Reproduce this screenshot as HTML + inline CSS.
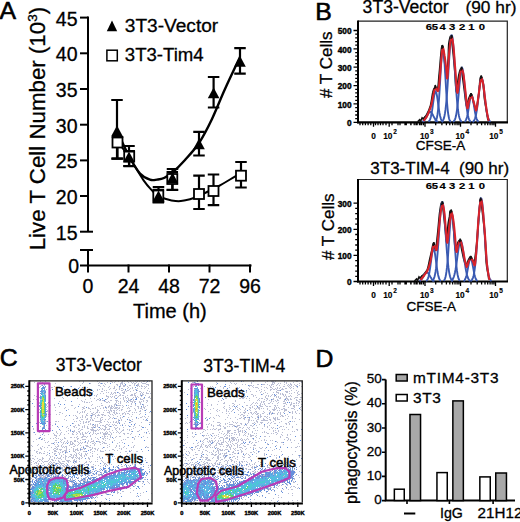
<!DOCTYPE html><html><head><meta charset="utf-8"><style>html,body{margin:0;padding:0;background:#fff;overflow:hidden}svg{display:block}text{stroke:#000;stroke-width:0.3px}text.b{stroke-width:0.15px}text.t{stroke-width:0.3px}text.L{stroke-width:0.6px}text.m{stroke-width:0.5px}text.b2{stroke-width:0.4px}</style></head><body>
<svg width="520" height="522" viewBox="0 0 520 522">
<text x="-0.5" y="19" font-family="'Liberation Sans', sans-serif" font-size="24.8" class="L">A</text>
<g stroke="#000" stroke-width="2.0" fill="none" stroke-linecap="butt">
<path d="M88 16.5 V231.73999999999998"/>
<path d="M80 17.6 H88"/>
<path d="M80 53.3 H88"/>
<path d="M80 89.0 H88"/>
<path d="M80 124.7 H88"/>
<path d="M80 160.4 H88"/>
<path d="M80 196.0 H88"/>
<path d="M80 231.7 H93"/>
<path d="M80 250 H93 M88 250 V265.5"/>
<path d="M80 265.5 H251.5"/>
<path d="M88.0 264.5 V272.5"/>
<path d="M128.5 264.5 V272.5"/>
<path d="M169.0 264.5 V272.5"/>
<path d="M209.5 264.5 V272.5"/>
<path d="M250.0 264.5 V272.5"/>
</g>
<text x="77.5" y="25.6" font-family="'Liberation Sans', sans-serif" font-size="19.5" text-anchor="end">45</text>
<text x="77.5" y="61.3" font-family="'Liberation Sans', sans-serif" font-size="19.5" text-anchor="end">40</text>
<text x="77.5" y="97.0" font-family="'Liberation Sans', sans-serif" font-size="19.5" text-anchor="end">35</text>
<text x="77.5" y="132.7" font-family="'Liberation Sans', sans-serif" font-size="19.5" text-anchor="end">30</text>
<text x="77.5" y="168.4" font-family="'Liberation Sans', sans-serif" font-size="19.5" text-anchor="end">25</text>
<text x="77.5" y="204.0" font-family="'Liberation Sans', sans-serif" font-size="19.5" text-anchor="end">20</text>
<text x="77.5" y="239.7" font-family="'Liberation Sans', sans-serif" font-size="19.5" text-anchor="end">15</text>
<text x="79" y="273.3" font-family="'Liberation Sans', sans-serif" font-size="19.5" text-anchor="end">0</text>
<text x="88.0" y="292.8" font-family="'Liberation Sans', sans-serif" font-size="19.5" text-anchor="middle">0</text>
<text x="128.5" y="292.8" font-family="'Liberation Sans', sans-serif" font-size="19.5" text-anchor="middle">24</text>
<text x="169.0" y="292.8" font-family="'Liberation Sans', sans-serif" font-size="19.5" text-anchor="middle">48</text>
<text x="209.5" y="292.8" font-family="'Liberation Sans', sans-serif" font-size="19.5" text-anchor="middle">72</text>
<text x="250.0" y="292.8" font-family="'Liberation Sans', sans-serif" font-size="19.5" text-anchor="middle">96</text>
<text x="133" y="318.4" font-family="'Liberation Sans', sans-serif" font-size="20">Time (h)</text>
<text transform="translate(44.6 250.3) rotate(-90)" font-family="'Liberation Sans', sans-serif" font-size="22.3">Live T Cell Number (10<tspan font-size="13.5" dy="-7.3">3</tspan><tspan dy="7.3">)</tspan></text>
<path d="M106.8 31.2 L112 20.6 L117.2 31.2 Z" fill="#000"/>
<rect x="106.9" y="50.2" width="10.4" height="10.6" fill="#fff" stroke="#000" stroke-width="1.5"/>
<text x="124.8" y="32.4" font-family="'Liberation Sans', sans-serif" font-size="19.1">3T3-Vector</text>
<text x="124.8" y="60.8" font-family="'Liberation Sans', sans-serif" font-size="18.6">3T3-Tim4</text>
<path d="M117 131 C119.0 135.2 125.2 148.9 129 156 C132.8 163.1 136.5 169.6 140 173.5 C143.5 177.4 147.2 178.7 150 179.7 C152.8 180.7 154.7 179.9 157 179.6 C159.3 179.3 161.4 179.2 164 178 C166.6 176.8 169.0 175.5 172.5 172.5 C176.0 169.5 180.6 164.9 185 160 C189.4 155.1 194.5 149.8 199 143 C203.5 136.2 207.7 128.0 212 119 C216.3 110.0 220.3 99.3 225 89 C229.7 78.7 237.5 62.3 240 57" fill="none" stroke="#000" stroke-width="2.4"/>
<path d="M117 141 C119.0 143.7 124.6 150.4 129 157 C133.4 163.6 139.6 174.7 143.6 180.4 C147.6 186.2 150.5 188.8 153 191.5 C155.5 194.2 156.6 195.3 158.5 196.5 C160.4 197.7 162.4 197.8 164.6 198.5 C166.8 199.2 169.2 200.0 171.5 200.4 C173.8 200.8 176.2 201.2 178.5 201.2 C180.8 201.2 182.8 200.7 185.4 200.2 C188.0 199.7 190.5 199.2 193.8 198 C197.1 196.8 201.0 194.9 205 193 C209.0 191.1 213.8 188.8 218 186.5 C222.2 184.2 226.2 181.8 230 179.5 C233.8 177.2 239.2 174.1 241 173" fill="none" stroke="#000" stroke-width="2.0"/>
<path d="M117.5 137 V158.7 M111.75 137 H123.25 M111.75 158.7 H123.25" stroke="#000" stroke-width="2.2" fill="none"/>
<path d="M129.2 151 V166.2 M123.44999999999999 151 H134.95 M123.44999999999999 166.2 H134.95" stroke="#000" stroke-width="2.2" fill="none"/>
<path d="M158.3 190 V202.5 M152.55 190 H164.05 M152.55 202.5 H164.05" stroke="#000" stroke-width="2.2" fill="none"/>
<path d="M172.3 172 V189.8 M166.55 172 H178.05 M166.55 189.8 H178.05" stroke="#000" stroke-width="2.2" fill="none"/>
<path d="M199 175.7 V209 M193.25 175.7 H204.75 M193.25 209 H204.75" stroke="#000" stroke-width="2.2" fill="none"/>
<path d="M213.5 174.5 V205.1 M207.75 174.5 H219.25 M207.75 205.1 H219.25" stroke="#000" stroke-width="2.2" fill="none"/>
<path d="M241 162 V187.5 M235.25 162 H246.75 M235.25 187.5 H246.75" stroke="#000" stroke-width="2.2" fill="none"/>
<path d="M117 100 V158.7 M111.25 100 H122.75 M111.25 158.7 H122.75" stroke="#000" stroke-width="2.2" fill="none"/>
<path d="M129 146 V166 M123.25 146 H134.75 M123.25 166 H134.75" stroke="#000" stroke-width="2.2" fill="none"/>
<path d="M158.5 187.2 V202 M152.75 187.2 H164.25 M152.75 202 H164.25" stroke="#000" stroke-width="2.2" fill="none"/>
<path d="M172.5 169 V190 M166.75 169 H178.25 M166.75 190 H178.25" stroke="#000" stroke-width="2.2" fill="none"/>
<path d="M199 131.8 V155.5 M193.25 131.8 H204.75 M193.25 155.5 H204.75" stroke="#000" stroke-width="2.2" fill="none"/>
<path d="M213.6 77 V107.5 M207.85 77 H219.35 M207.85 107.5 H219.35" stroke="#000" stroke-width="2.2" fill="none"/>
<path d="M240 48.2 V73.6 M234.25 48.2 H245.75 M234.25 73.6 H245.75" stroke="#000" stroke-width="2.2" fill="none"/>
<rect x="112.5" y="137.5" width="10" height="10" fill="#fff" stroke="#000" stroke-width="1.8"/>
<rect x="124.19999999999999" y="151.6" width="10" height="10" fill="#fff" stroke="#000" stroke-width="1.8"/>
<rect x="153.3" y="190.5" width="10" height="10" fill="#fff" stroke="#000" stroke-width="1.8"/>
<rect x="167.3" y="174" width="10" height="10" fill="#fff" stroke="#000" stroke-width="1.8"/>
<rect x="194" y="189" width="10" height="10" fill="#fff" stroke="#000" stroke-width="1.8"/>
<rect x="208.5" y="186" width="10" height="10" fill="#fff" stroke="#000" stroke-width="1.8"/>
<rect x="236" y="170.7" width="10" height="10" fill="#fff" stroke="#000" stroke-width="1.8"/>
<path d="M111.2 136.2 L117 125.6 L122.8 136.2 Z" fill="#000"/>
<path d="M123.2 162.2 L129 151.6 L134.8 162.2 Z" fill="#000"/>
<path d="M152.7 201.2 L158.5 190.6 L164.3 201.2 Z" fill="#000"/>
<path d="M166.7 183.2 L172.5 172.6 L178.3 183.2 Z" fill="#000"/>
<path d="M193.2 149.2 L199 138.6 L204.8 149.2 Z" fill="#000"/>
<path d="M207.79999999999998 98.2 L213.6 87.6 L219.4 98.2 Z" fill="#000"/>
<path d="M234.2 66.7 L240 56.1 L245.8 66.7 Z" fill="#000"/>
<text x="315.3" y="19.6" font-family="'Liberation Sans', sans-serif" font-size="24.8" class="L">B</text>
<text x="362.6" y="12.8" font-family="'Liberation Sans', sans-serif" font-size="17.6" class="t">3T3-Vector</text>
<text x="465.5" y="12.8" font-family="'Liberation Sans', sans-serif" font-size="17.3" class="t">(90 hr)</text>
<text transform="translate(331.5 98) rotate(-90)" font-family="'Liberation Sans', sans-serif" font-size="17" class="t">#  T Cells</text>
<path d="M358 21.2 H507.3 V122.3" stroke="#222" stroke-width="1.2" fill="none"/>
<path d="M358 20.599999999999998 V123.3" stroke="#000" stroke-width="2" fill="none"/>
<path d="M357 122.3 H508" stroke="#000" stroke-width="2.2" fill="none"/>
<path d="M353.5 122.3 H358 M355.2 118.6 H358 M355.2 115.0 H358 M355.2 111.3 H358 M355.2 107.6 H358 M353.5 103.9 H358 M355.2 100.3 H358 M355.2 96.6 H358 M355.2 92.9 H358 M355.2 89.3 H358 M353.5 85.6 H358 M355.2 81.9 H358 M355.2 78.3 H358 M355.2 74.6 H358 M355.2 70.9 H358 M353.5 67.2 H358 M355.2 63.6 H358 M355.2 59.9 H358 M355.2 56.2 H358 M355.2 52.6 H358 M353.5 48.9 H358 M355.2 45.2 H358 M355.2 41.6 H358 M355.2 37.9 H358 M355.2 34.2 H358 M353.5 30.5 H358" stroke="#000" stroke-width="1.3" fill="none"/>
<text x="351.5" y="126.1" font-family="'Liberation Sans', sans-serif" font-size="8.3" font-weight="bold" class="b2" text-anchor="end">0</text>
<text x="351.5" y="107.7" font-family="'Liberation Sans', sans-serif" font-size="8.3" font-weight="bold" class="b2" text-anchor="end">100</text>
<text x="351.5" y="89.4" font-family="'Liberation Sans', sans-serif" font-size="8.3" font-weight="bold" class="b2" text-anchor="end">200</text>
<text x="351.5" y="71.0" font-family="'Liberation Sans', sans-serif" font-size="8.3" font-weight="bold" class="b2" text-anchor="end">300</text>
<text x="351.5" y="52.7" font-family="'Liberation Sans', sans-serif" font-size="8.3" font-weight="bold" class="b2" text-anchor="end">400</text>
<text x="351.5" y="34.3" font-family="'Liberation Sans', sans-serif" font-size="8.3" font-weight="bold" class="b2" text-anchor="end">500</text>
<path d="M373.5 122.3 V126.8 M389.2 122.3 V126.8 M425 122.3 V126.8 M460.5 122.3 V126.8 M495.5 122.3 V126.8 M400.0 122.3 V125.3 M406.3 122.3 V125.3 M410.8 122.3 V125.3 M414.2 122.3 V125.3 M417.1 122.3 V125.3 M419.5 122.3 V125.3 M421.5 122.3 V125.3 M423.4 122.3 V125.3 M435.7 122.3 V125.3 M441.9 122.3 V125.3 M446.4 122.3 V125.3 M449.8 122.3 V125.3 M452.6 122.3 V125.3 M455.0 122.3 V125.3 M457.1 122.3 V125.3 M458.9 122.3 V125.3 M471.0 122.3 V125.3 M477.2 122.3 V125.3 M481.6 122.3 V125.3 M485.0 122.3 V125.3 M487.7 122.3 V125.3 M490.1 122.3 V125.3 M492.1 122.3 V125.3 M493.9 122.3 V125.3 M375.5 122.3 V125.3 M378 122.3 V125.3 M380.5 122.3 V125.3 M383 122.3 V125.3 M386 122.3 V125.3 M392 122.3 V125.3 M398 122.3 V125.3 M405 122.3 V125.3 M411 122.3 V125.3 M416 122.3 V125.3 M420 122.3 V125.3 M360.0 122.3 V125.3 M362.7 122.3 V125.3 M365.4 122.3 V125.3 M368.1 122.3 V125.3 M370.8 122.3 V125.3 M373.5 122.3 V125.3" stroke="#000" stroke-width="1.3" fill="none"/>
<text x="373.5" y="138.7" font-family="'Liberation Sans', sans-serif" font-size="8.3" font-weight="bold" class="b" text-anchor="middle">0</text>
<text x="390" y="138.7" font-family="'Liberation Sans', sans-serif" font-size="8.3" font-weight="bold" class="b" text-anchor="middle">10<tspan font-size="6.5" dx="0.8" dy="-4.6">2</tspan></text>
<text x="426.8" y="138.7" font-family="'Liberation Sans', sans-serif" font-size="8.3" font-weight="bold" class="b" text-anchor="middle">10<tspan font-size="6.5" dx="0.8" dy="-4.6">3</tspan></text>
<text x="462.3" y="138.7" font-family="'Liberation Sans', sans-serif" font-size="8.3" font-weight="bold" class="b" text-anchor="middle">10<tspan font-size="6.5" dx="0.8" dy="-4.6">4</tspan></text>
<text x="496" y="138.7" font-family="'Liberation Sans', sans-serif" font-size="8.3" font-weight="bold" class="b" text-anchor="middle">10<tspan font-size="6.5" dx="0.8" dy="-4.6">5</tspan></text>
<text transform="translate(428.9 30.3) scale(1.36 1)" font-family="'Liberation Sans', sans-serif" font-size="8.3" font-weight="bold" class="b" text-anchor="middle">6</text>
<text transform="translate(434.9 30.3) scale(1.36 1)" font-family="'Liberation Sans', sans-serif" font-size="8.3" font-weight="bold" class="b" text-anchor="middle">5</text>
<text transform="translate(442.6 30.3) scale(1.36 1)" font-family="'Liberation Sans', sans-serif" font-size="8.3" font-weight="bold" class="b" text-anchor="middle">4</text>
<text transform="translate(452.2 30.3) scale(1.36 1)" font-family="'Liberation Sans', sans-serif" font-size="8.3" font-weight="bold" class="b" text-anchor="middle">3</text>
<text transform="translate(462.2 30.3) scale(1.36 1)" font-family="'Liberation Sans', sans-serif" font-size="8.3" font-weight="bold" class="b" text-anchor="middle">2</text>
<text transform="translate(471.4 30.3) scale(1.36 1)" font-family="'Liberation Sans', sans-serif" font-size="8.3" font-weight="bold" class="b" text-anchor="middle">1</text>
<text transform="translate(482 30.3) scale(1.36 1)" font-family="'Liberation Sans', sans-serif" font-size="8.3" font-weight="bold" class="b" text-anchor="middle">0</text>
<path d="M422.8 119.3 C423.4 118.6 425.3 117.2 426.6 114.9 C427.9 112.6 429.6 109.4 430.6 105.6 C431.7 101.9 432.1 95.4 432.9 92.4 C433.6 89.3 434.3 88.0 435.1 87.5 C435.9 87.0 437.0 91.3 437.7 89.4 C438.3 87.4 438.6 81.3 439.1 75.6 C439.7 70.0 440.4 60.4 440.9 55.4 C441.4 50.5 441.6 46.0 442.1 45.8 C442.6 45.6 443.2 50.4 443.8 54.4 C444.3 58.3 445.1 65.8 445.5 69.5 C446.0 73.3 446.2 78.8 446.7 77.0 C447.1 75.2 447.9 64.4 448.3 58.8 C448.6 53.2 448.5 47.3 448.9 43.6 C449.4 39.9 450.3 35.7 450.9 36.4 C451.5 37.0 452.0 41.6 452.6 47.4 C453.3 53.1 454.2 63.5 454.8 70.8 C455.5 78.2 455.8 90.3 456.4 91.7 C456.9 93.1 457.6 82.7 458.2 79.3 C458.7 75.9 459.3 73.0 459.8 71.3 C460.4 69.5 461.1 68.1 461.6 68.7 C462.0 69.3 461.9 71.1 462.4 74.8 C462.9 78.5 463.8 85.8 464.5 91.0 C465.2 96.3 466.0 104.7 466.7 106.2 C467.3 107.7 467.7 102.0 468.4 100.0 C469.1 97.9 470.2 94.2 471.0 93.9 C471.7 93.7 472.2 96.7 472.7 98.5 C473.3 100.4 473.6 103.2 474.2 105.1 C474.8 106.9 475.5 111.2 476.2 109.5 C476.9 107.9 478.1 99.3 478.7 95.0 C479.3 90.8 479.3 87.3 479.7 84.2 C480.0 81.2 480.1 76.9 480.7 76.8 C481.2 76.7 482.4 79.9 483.1 83.5 C483.7 87.1 484.0 93.7 484.5 98.3 C485.1 102.8 485.9 107.1 486.5 110.8 C487.1 114.5 487.8 118.7 488.1 120.3" stroke="#111" stroke-width="1.8" fill="none"/>
<path d="M417.6 121.8 L419.6 119.8 L420.6 121.3 L422.1 117.8 L423.6 119.3 L425.6 116.3" stroke="#111" stroke-width="1.6" fill="none"/>
<path d="M422.5 121.7 L423.0 121.5 L423.5 121.1 L424.0 120.7 L424.5 120.2 L425.0 119.5 L425.5 118.8 L426.0 117.9 L426.5 117.0 L427.0 116.0 L427.5 115.1 L428.0 114.1 L428.5 113.3 L429.0 112.7 L429.5 112.2 L430.0 112.0 L430.5 112.0 L431.0 112.2 L431.5 112.7 L432.0 113.4 L432.5 114.3 L433.0 115.2 L433.5 116.2 L434.0 117.1 L434.5 118.1 L435.0 118.9 L435.5 119.6 L436.0 120.3 L436.5 120.8 L437.0 121.2 L437.5 121.5 L438.0 121.8" stroke="#3a5ab2" stroke-width="1.9" fill="none"/>
<path d="M428.5 121.7 L429.0 121.2 L429.5 120.6 L430.0 119.6 L430.5 118.1 L431.0 116.3 L431.5 113.8 L432.0 110.9 L432.5 107.5 L433.0 103.9 L433.5 100.3 L434.0 96.9 L434.5 94.1 L435.0 92.2 L435.5 91.4 L436.0 91.8 L436.5 93.4 L437.0 95.9 L437.5 99.1 L438.0 102.7 L438.5 106.4 L439.0 109.8 L439.5 112.9 L440.0 115.5 L440.5 117.6 L441.0 119.1 L441.5 120.3 L442.0 121.0 L442.5 121.5 L443.0 121.9" stroke="#3a5ab2" stroke-width="1.9" fill="none"/>
<path d="M435.0 121.7 L435.5 121.2 L436.0 120.4 L436.5 119.1 L437.0 117.2 L437.5 114.4 L438.0 110.6 L438.5 105.6 L439.0 99.3 L439.5 91.9 L440.0 83.6 L440.5 74.8 L441.0 66.3 L441.5 58.8 L442.0 53.0 L442.5 49.5 L443.0 48.7 L443.5 50.8 L444.0 55.4 L444.5 62.1 L445.0 70.1 L445.5 78.8 L446.0 87.4 L446.5 95.4 L447.0 102.3 L447.5 108.0 L448.0 112.5 L448.5 115.8 L449.0 118.2 L449.5 119.8 L450.0 120.8 L450.5 121.5 L451.0 121.8" stroke="#3a5ab2" stroke-width="1.9" fill="none"/>
<path d="M441.5 121.8 L442.0 121.5 L442.5 121.0 L443.0 120.3 L443.5 119.3 L444.0 117.9 L444.5 115.8 L445.0 113.2 L445.5 109.7 L446.0 105.3 L446.5 100.0 L447.0 93.7 L447.5 86.6 L448.0 78.7 L448.5 70.5 L449.0 62.2 L449.5 54.3 L450.0 47.3 L450.5 41.5 L451.0 37.5 L451.5 35.4 L452.0 35.5 L452.5 37.7 L453.0 41.9 L453.5 47.7 L454.0 54.9 L454.5 62.8 L455.0 71.1 L455.5 79.3 L456.0 87.1 L456.5 94.2 L457.0 100.4 L457.5 105.7 L458.0 110.0 L458.5 113.4 L459.0 116.0 L459.5 118.0 L460.0 119.4 L460.5 120.4 L461.0 121.1 L461.5 121.5 L462.0 121.8" stroke="#3a5ab2" stroke-width="1.9" fill="none"/>
<path d="M453.0 121.8 L453.5 121.5 L454.0 121.1 L454.5 120.3 L455.0 119.3 L455.5 117.8 L456.0 115.8 L456.5 113.1 L457.0 109.8 L457.5 105.8 L458.0 101.1 L458.5 95.8 L459.0 90.2 L459.5 84.5 L460.0 79.2 L460.5 74.5 L461.0 70.8 L461.5 68.5 L462.0 67.7 L462.5 68.5 L463.0 70.9 L463.5 74.5 L464.0 79.2 L464.5 84.6 L465.0 90.2 L465.5 95.9 L466.0 101.1 L466.5 105.8 L467.0 109.8 L467.5 113.2 L468.0 115.8 L468.5 117.8 L469.0 119.3 L469.5 120.3 L470.0 121.1 L470.5 121.5 L471.0 121.8" stroke="#3a5ab2" stroke-width="1.9" fill="none"/>
<path d="M464.5 121.8 L465.0 121.4 L465.5 120.8 L466.0 119.9 L466.5 118.7 L467.0 117.0 L467.5 114.9 L468.0 112.3 L468.5 109.3 L469.0 106.1 L469.5 102.8 L470.0 99.9 L470.5 97.5 L471.0 95.9 L471.5 95.4 L472.0 95.8 L472.5 97.3 L473.0 99.6 L473.5 102.5 L474.0 105.7 L474.5 108.9 L475.0 112.0 L475.5 114.6 L476.0 116.8 L476.5 118.5 L477.0 119.8 L477.5 120.7 L478.0 121.3 L478.5 121.7" stroke="#3a5ab2" stroke-width="1.9" fill="none"/>
<path d="M472.5 121.9 L473.0 121.6 L473.5 121.2 L474.0 120.6 L474.5 119.7 L475.0 118.5 L475.5 116.9 L476.0 114.8 L476.5 112.2 L477.0 109.0 L477.5 105.4 L478.0 101.3 L478.5 96.9 L479.0 92.4 L479.5 88.1 L480.0 84.3 L480.5 81.2 L481.0 79.1 L481.5 78.1 L482.0 78.3 L482.5 79.7 L483.0 82.2 L483.5 85.6 L484.0 89.6 L484.5 94.0 L485.0 98.4 L485.5 102.8 L486.0 106.7 L486.5 110.2 L487.0 113.2 L487.5 115.6 L488.0 117.5 L488.5 119.0 L489.0 120.1 L489.5 120.8 L490.0 121.4 L490.5 121.7" stroke="#3a5ab2" stroke-width="1.9" fill="none"/>
<path d="M423.6 120.9 C424.2 120.0 426.1 117.9 427.3 115.5 C428.5 113.0 429.8 110.0 430.9 106.4 C432.0 102.7 432.9 96.8 433.6 93.6 C434.4 90.5 434.7 87.7 435.5 87.3 C436.2 86.8 437.4 92.9 438.2 90.9 C438.9 88.9 439.5 81.1 440.0 75.5 C440.5 69.8 441.0 62.0 441.5 57.3 C441.9 52.6 442.2 47.6 442.7 47.3 C443.2 47.0 443.9 51.7 444.5 55.5 C445.2 59.2 445.9 66.2 446.4 70.0 C446.8 73.8 446.9 80.0 447.3 78.2 C447.7 76.4 448.3 64.7 448.7 59.1 C449.2 53.5 449.5 48.2 450.0 44.5 C450.5 40.9 451.2 36.7 451.8 37.3 C452.4 37.9 453.0 42.4 453.6 48.2 C454.2 53.9 454.8 64.4 455.5 71.8 C456.1 79.2 456.7 91.2 457.3 92.7 C457.9 94.2 458.6 84.2 459.1 80.9 C459.6 77.6 459.9 74.7 460.4 72.7 C460.8 70.8 461.3 68.6 461.8 69.1 C462.4 69.5 463.0 71.7 463.6 75.5 C464.2 79.2 464.8 86.4 465.5 91.8 C466.1 97.3 466.7 106.7 467.3 108.2 C467.9 109.7 468.4 103.0 469.1 100.9 C469.8 98.8 470.6 95.6 471.3 95.5 C471.9 95.3 472.5 98.2 473.1 100.0 C473.7 101.8 474.4 104.7 474.9 106.4 C475.5 108.0 475.8 111.8 476.4 110.0 C477.0 108.2 477.9 99.7 478.5 95.5 C479.2 91.2 479.5 87.5 480.0 84.5 C480.5 81.6 480.9 77.6 481.5 77.6 C482.0 77.6 482.7 81.0 483.3 84.5 C483.9 88.1 484.5 94.5 485.1 99.1 C485.7 103.6 486.3 108.2 486.9 111.8 C487.5 115.5 488.4 119.4 488.7 120.9" stroke="#d8232a" stroke-width="2.1" fill="none" stroke-linejoin="round"/>
<path d="M434.6 88.8 L435.2 85.1 L436.1 87.8 M441.8 48.8 L442.4 45.1 L443.3 47.8 M450.9 38.8 L451.5 35.1 L452.4 37.8 M460.9 70.6 L461.5 66.9 L462.4 69.6 M470.4 97.0 L471.0 93.3 L471.9 96.0 M480.6 79.1 L481.2 75.4 L482.1 78.1" stroke="#111" stroke-width="1.5" fill="none"/>
<text x="415.8" y="149.8" font-family="'Liberation Sans', sans-serif" font-size="13.5">CFSE-A</text>
<text x="370.3" y="174" font-family="'Liberation Sans', sans-serif" font-size="17" class="t">3T3-TIM-4</text>
<text x="459" y="174" font-family="'Liberation Sans', sans-serif" font-size="17" class="t">(90 hr)</text>
<text transform="translate(333.5 260) rotate(-90)" font-family="'Liberation Sans', sans-serif" font-size="17" class="t">#  T Cells</text>
<path d="M358 179.5 H507.3 V281.5" stroke="#222" stroke-width="1.2" fill="none"/>
<path d="M358 178.9 V282.5" stroke="#000" stroke-width="2" fill="none"/>
<path d="M357 281.5 H508" stroke="#000" stroke-width="2.2" fill="none"/>
<path d="M353.5 281.5 H358 M355.2 276.3 H358 M355.2 271.1 H358 M355.2 265.8 H358 M355.2 260.6 H358 M353.5 255.4 H358 M355.2 250.2 H358 M355.2 245.0 H358 M355.2 239.7 H358 M355.2 234.5 H358 M353.5 229.3 H358 M355.2 224.1 H358 M355.2 218.9 H358 M355.2 213.6 H358 M355.2 208.4 H358 M353.5 203.2 H358" stroke="#000" stroke-width="1.3" fill="none"/>
<text x="351.5" y="285.3" font-family="'Liberation Sans', sans-serif" font-size="8.3" font-weight="bold" class="b2" text-anchor="end">0</text>
<text x="351.5" y="259.2" font-family="'Liberation Sans', sans-serif" font-size="8.3" font-weight="bold" class="b2" text-anchor="end">100</text>
<text x="351.5" y="233.1" font-family="'Liberation Sans', sans-serif" font-size="8.3" font-weight="bold" class="b2" text-anchor="end">200</text>
<text x="351.5" y="207.0" font-family="'Liberation Sans', sans-serif" font-size="8.3" font-weight="bold" class="b2" text-anchor="end">300</text>
<path d="M373.5 281.5 V286.0 M389.2 281.5 V286.0 M425 281.5 V286.0 M460.5 281.5 V286.0 M495.5 281.5 V286.0 M400.0 281.5 V284.5 M406.3 281.5 V284.5 M410.8 281.5 V284.5 M414.2 281.5 V284.5 M417.1 281.5 V284.5 M419.5 281.5 V284.5 M421.5 281.5 V284.5 M423.4 281.5 V284.5 M435.7 281.5 V284.5 M441.9 281.5 V284.5 M446.4 281.5 V284.5 M449.8 281.5 V284.5 M452.6 281.5 V284.5 M455.0 281.5 V284.5 M457.1 281.5 V284.5 M458.9 281.5 V284.5 M471.0 281.5 V284.5 M477.2 281.5 V284.5 M481.6 281.5 V284.5 M485.0 281.5 V284.5 M487.7 281.5 V284.5 M490.1 281.5 V284.5 M492.1 281.5 V284.5 M493.9 281.5 V284.5 M375.5 281.5 V284.5 M378 281.5 V284.5 M380.5 281.5 V284.5 M383 281.5 V284.5 M386 281.5 V284.5 M392 281.5 V284.5 M398 281.5 V284.5 M405 281.5 V284.5 M411 281.5 V284.5 M416 281.5 V284.5 M420 281.5 V284.5 M360.0 281.5 V284.5 M362.7 281.5 V284.5 M365.4 281.5 V284.5 M368.1 281.5 V284.5 M370.8 281.5 V284.5 M373.5 281.5 V284.5" stroke="#000" stroke-width="1.3" fill="none"/>
<text x="373.5" y="297.9" font-family="'Liberation Sans', sans-serif" font-size="8.3" font-weight="bold" class="b" text-anchor="middle">0</text>
<text x="390" y="297.9" font-family="'Liberation Sans', sans-serif" font-size="8.3" font-weight="bold" class="b" text-anchor="middle">10<tspan font-size="6.5" dx="0.8" dy="-4.6">2</tspan></text>
<text x="426.8" y="297.9" font-family="'Liberation Sans', sans-serif" font-size="8.3" font-weight="bold" class="b" text-anchor="middle">10<tspan font-size="6.5" dx="0.8" dy="-4.6">3</tspan></text>
<text x="462.3" y="297.9" font-family="'Liberation Sans', sans-serif" font-size="8.3" font-weight="bold" class="b" text-anchor="middle">10<tspan font-size="6.5" dx="0.8" dy="-4.6">4</tspan></text>
<text x="496" y="297.9" font-family="'Liberation Sans', sans-serif" font-size="8.3" font-weight="bold" class="b" text-anchor="middle">10<tspan font-size="6.5" dx="0.8" dy="-4.6">5</tspan></text>
<text transform="translate(428.9 188.8) scale(1.36 1)" font-family="'Liberation Sans', sans-serif" font-size="8.3" font-weight="bold" class="b" text-anchor="middle">6</text>
<text transform="translate(434.9 188.8) scale(1.36 1)" font-family="'Liberation Sans', sans-serif" font-size="8.3" font-weight="bold" class="b" text-anchor="middle">5</text>
<text transform="translate(442.6 188.8) scale(1.36 1)" font-family="'Liberation Sans', sans-serif" font-size="8.3" font-weight="bold" class="b" text-anchor="middle">4</text>
<text transform="translate(452.2 188.8) scale(1.36 1)" font-family="'Liberation Sans', sans-serif" font-size="8.3" font-weight="bold" class="b" text-anchor="middle">3</text>
<text transform="translate(462.2 188.8) scale(1.36 1)" font-family="'Liberation Sans', sans-serif" font-size="8.3" font-weight="bold" class="b" text-anchor="middle">2</text>
<text transform="translate(471.4 188.8) scale(1.36 1)" font-family="'Liberation Sans', sans-serif" font-size="8.3" font-weight="bold" class="b" text-anchor="middle">1</text>
<text transform="translate(482 188.8) scale(1.36 1)" font-family="'Liberation Sans', sans-serif" font-size="8.3" font-weight="bold" class="b" text-anchor="middle">0</text>
<path d="M419.6 278.4 C420.2 277.8 422.1 276.4 423.4 274.9 C424.7 273.4 426.4 271.8 427.5 269.3 C428.5 266.7 429.0 262.8 429.7 259.6 C430.4 256.5 431.3 253.0 431.9 250.2 C432.5 247.4 433.0 243.0 433.6 243.0 C434.2 243.0 434.9 251.7 435.6 250.2 C436.3 248.6 437.0 240.0 437.7 233.6 C438.4 227.3 439.1 217.3 439.8 212.1 C440.5 207.0 441.2 202.4 441.8 202.5 C442.5 202.7 443.1 208.8 443.6 213.2 C444.2 217.6 444.7 224.0 445.3 228.8 C445.8 233.7 446.4 243.0 446.9 242.4 C447.4 241.9 447.6 229.8 448.1 225.4 C448.5 221.1 449.2 218.8 449.6 216.4 C449.9 214.0 449.9 210.7 450.4 211.0 C450.9 211.3 452.0 214.2 452.6 218.1 C453.2 222.0 453.6 229.1 454.1 234.4 C454.6 239.8 454.9 248.8 455.5 250.2 C456.1 251.6 457.0 244.7 457.7 243.1 C458.5 241.5 459.6 239.8 460.2 240.5 C460.8 241.3 460.8 244.3 461.4 247.5 C462.1 250.8 463.3 257.2 464.1 260.1 C464.9 263.1 465.6 265.2 466.2 265.3 C466.9 265.4 467.2 262.3 468.0 260.9 C468.7 259.4 469.9 256.8 470.7 256.7 C471.5 256.6 472.2 259.3 472.8 260.4 C473.4 261.5 473.7 266.0 474.3 263.2 C474.9 260.5 475.9 251.8 476.7 244.1 C477.4 236.4 478.1 224.3 478.8 216.9 C479.4 209.5 480.0 201.3 480.5 199.7 C481.0 198.1 481.1 201.6 481.9 207.3 C482.6 213.1 484.1 225.3 484.8 234.4 C485.5 243.5 485.7 255.2 486.3 261.9 C486.8 268.6 487.8 271.5 488.2 274.4 C488.7 277.3 488.8 278.5 488.9 279.3" stroke="#111" stroke-width="1.8" fill="none"/>
<path d="M414.5 281.0 L416.5 279.0 L417.5 280.5 L419.0 277.0 L420.5 278.5 L422.5 275.5" stroke="#111" stroke-width="1.6" fill="none"/>
<path d="M419.5 280.9 L420.0 280.7 L420.5 280.3 L421.0 279.9 L421.5 279.4 L422.0 278.7 L422.5 278.0 L423.0 277.2 L423.5 276.3 L424.0 275.4 L424.5 274.6 L425.0 273.8 L425.5 273.1 L426.0 272.7 L426.5 272.4 L427.0 272.4 L427.5 272.6 L428.0 273.0 L428.5 273.7 L429.0 274.4 L429.5 275.2 L430.0 276.1 L430.5 277.0 L431.0 277.8 L431.5 278.6 L432.0 279.3 L432.5 279.8 L433.0 280.3 L433.5 280.6 L434.0 280.9 L434.5 281.1" stroke="#3a5ab2" stroke-width="1.9" fill="none"/>
<path d="M426.0 281.1 L426.5 280.7 L427.0 280.2 L427.5 279.4 L428.0 278.3 L428.5 276.7 L429.0 274.6 L429.5 271.9 L430.0 268.7 L430.5 265.1 L431.0 261.3 L431.5 257.5 L432.0 254.0 L432.5 251.3 L433.0 249.5 L433.5 248.8 L434.0 249.4 L434.5 251.2 L435.0 253.9 L435.5 257.3 L436.0 261.1 L436.5 264.9 L437.0 268.6 L437.5 271.8 L438.0 274.4 L438.5 276.6 L439.0 278.2 L439.5 279.4 L440.0 280.2 L440.5 280.7 L441.0 281.0" stroke="#3a5ab2" stroke-width="1.9" fill="none"/>
<path d="M432.0 280.9 L432.5 280.5 L433.0 280.0 L433.5 279.2 L434.0 278.2 L434.5 276.7 L435.0 274.6 L435.5 272.0 L436.0 268.7 L436.5 264.6 L437.0 259.7 L437.5 254.0 L438.0 247.6 L438.5 240.6 L439.0 233.4 L439.5 226.1 L440.0 219.3 L440.5 213.1 L441.0 208.0 L441.5 204.4 L442.0 202.4 L442.5 202.2 L443.0 203.8 L443.5 207.1 L444.0 211.9 L444.5 217.8 L445.0 224.6 L445.5 231.8 L446.0 239.0 L446.5 246.1 L447.0 252.6 L447.5 258.5 L448.0 263.6 L448.5 267.9 L449.0 271.3 L449.5 274.1 L450.0 276.3 L450.5 277.9 L451.0 279.0 L451.5 279.9 L452.0 280.4 L452.5 280.8 L453.0 281.1" stroke="#3a5ab2" stroke-width="1.9" fill="none"/>
<path d="M443.5 280.9 L444.0 280.4 L444.5 279.7 L445.0 278.6 L445.5 276.9 L446.0 274.6 L446.5 271.4 L447.0 267.2 L447.5 262.0 L448.0 255.9 L448.5 248.8 L449.0 241.3 L449.5 233.6 L450.0 226.5 L450.5 220.3 L451.0 215.8 L451.5 213.4 L452.0 213.2 L452.5 215.3 L453.0 219.6 L453.5 225.5 L454.0 232.5 L454.5 240.1 L455.0 247.7 L455.5 254.9 L456.0 261.2 L456.5 266.5 L457.0 270.9 L457.5 274.2 L458.0 276.6 L458.5 278.4 L459.0 279.6 L459.5 280.3 L460.0 280.8" stroke="#3a5ab2" stroke-width="1.9" fill="none"/>
<path d="M451.0 281.0 L451.5 280.7 L452.0 280.2 L452.5 279.6 L453.0 278.8 L453.5 277.7 L454.0 276.3 L454.5 274.5 L455.0 272.3 L455.5 269.7 L456.0 266.7 L456.5 263.4 L457.0 259.8 L457.5 256.0 L458.0 252.4 L458.5 248.9 L459.0 245.9 L459.5 243.5 L460.0 241.8 L460.5 241.0 L461.0 241.1 L461.5 242.1 L462.0 244.0 L462.5 246.6 L463.0 249.7 L463.5 253.3 L464.0 257.0 L464.5 260.7 L465.0 264.2 L465.5 267.5 L466.0 270.4 L466.5 272.9 L467.0 275.0 L467.5 276.7 L468.0 278.0 L468.5 279.0 L469.0 279.8 L469.5 280.4 L470.0 280.7 L470.5 281.0" stroke="#3a5ab2" stroke-width="1.9" fill="none"/>
<path d="M463.5 281.1 L464.0 280.8 L464.5 280.3 L465.0 279.6 L465.5 278.5 L466.0 277.2 L466.5 275.4 L467.0 273.2 L467.5 270.6 L468.0 267.9 L468.5 265.1 L469.0 262.5 L469.5 260.4 L470.0 258.9 L470.5 258.3 L471.0 258.6 L471.5 259.8 L472.0 261.7 L472.5 264.2 L473.0 266.9 L473.5 269.7 L474.0 272.4 L474.5 274.7 L475.0 276.6 L475.5 278.1 L476.0 279.3 L476.5 280.1 L477.0 280.6 L477.5 281.0" stroke="#3a5ab2" stroke-width="1.9" fill="none"/>
<path d="M470.5 281.1 L471.0 280.8 L471.5 280.4 L472.0 279.7 L472.5 278.8 L473.0 277.6 L473.5 275.9 L474.0 273.6 L474.5 270.7 L475.0 267.0 L475.5 262.4 L476.0 257.0 L476.5 250.8 L477.0 243.9 L477.5 236.5 L478.0 228.9 L478.5 221.4 L479.0 214.3 L479.5 208.2 L480.0 203.3 L480.5 199.9 L481.0 198.3 L481.5 198.7 L482.0 200.8 L482.5 204.8 L483.0 210.2 L483.5 216.7 L484.0 223.9 L484.5 231.5 L485.0 239.1 L485.5 246.4 L486.0 253.0 L486.5 259.0 L487.0 264.1 L487.5 268.3 L488.0 271.8 L488.5 274.5 L489.0 276.5 L489.5 278.1 L490.0 279.2 L490.5 280.0 L491.0 280.5 L491.5 280.9" stroke="#3a5ab2" stroke-width="1.9" fill="none"/>
<path d="M420.5 280.0 C421.1 279.2 422.9 277.1 424.1 275.5 C425.3 273.8 426.7 272.4 427.7 270.0 C428.8 267.6 429.7 264.2 430.5 260.9 C431.2 257.6 431.7 252.7 432.3 250.0 C432.9 247.3 433.4 244.5 434.1 244.5 C434.8 244.5 435.8 251.5 436.5 250.0 C437.2 248.5 437.6 241.5 438.3 235.5 C438.9 229.4 439.7 218.9 440.5 213.6 C441.2 208.3 442.0 203.6 442.6 203.6 C443.3 203.6 443.9 209.2 444.5 213.6 C445.0 218.0 445.4 225.2 445.9 230.0 C446.4 234.8 446.8 243.3 447.4 242.7 C447.9 242.1 448.7 230.6 449.2 226.4 C449.7 222.1 450.1 219.7 450.5 217.3 C450.8 214.8 450.9 211.5 451.4 211.8 C451.8 212.1 452.6 215.2 453.2 219.1 C453.8 223.0 454.5 230.0 455.0 235.5 C455.5 240.9 455.9 250.3 456.5 251.8 C457.0 253.3 457.6 246.4 458.3 244.5 C458.9 242.7 459.7 240.3 460.5 240.9 C461.2 241.5 461.9 244.8 462.6 248.2 C463.4 251.5 464.3 257.7 465.0 260.9 C465.7 264.1 466.2 267.1 466.8 267.3 C467.4 267.4 467.9 263.3 468.6 261.8 C469.3 260.3 470.2 258.2 471.0 258.2 C471.8 258.2 472.5 260.8 473.2 261.8 C473.8 262.9 474.4 267.4 475.0 264.5 C475.6 261.7 476.2 252.4 476.8 244.5 C477.4 236.7 478.0 224.7 478.6 217.3 C479.3 209.8 480.2 201.5 480.8 200.0 C481.5 198.5 481.9 202.3 482.6 208.2 C483.3 214.1 484.3 226.4 485.0 235.5 C485.7 244.5 486.2 256.1 486.8 262.7 C487.4 269.4 488.2 272.6 488.6 275.5 C489.1 278.3 489.4 279.2 489.5 280.0" stroke="#d8232a" stroke-width="2.1" fill="none" stroke-linejoin="round"/>
<path d="M433.2 246.0 L433.8 242.3 L434.7 245.0 M441.7 205.1 L442.3 201.4 L443.2 204.1 M450.5 213.3 L451.1 209.6 L452.0 212.3 M459.6 242.4 L460.2 238.7 L461.1 241.4 M470.1 259.7 L470.7 256.0 L471.6 258.7 M479.9 201.5 L480.5 197.8 L481.4 200.5" stroke="#111" stroke-width="1.5" fill="none"/>
<text x="406.6" y="310.8" font-family="'Liberation Sans', sans-serif" font-size="13.5">CFSE-A</text>
<defs><filter id="soft" x="-5%" y="-5%" width="110%" height="110%"><feGaussianBlur stdDeviation="0.45"/></filter></defs>
<text x="-0.3" y="365.6" font-family="'Liberation Sans', sans-serif" font-size="24.8" class="L">C</text>
<text x="55.8" y="371.3" font-family="'Liberation Sans', sans-serif" font-size="17.6" class="t">3T3-Vector</text>
<text x="203.3" y="372" font-family="'Liberation Sans', sans-serif" font-size="17.6" class="t">3T3-TIM-4</text>
<path fill="#5a6498" fill-opacity="0.42" d="M40 381h1v1h-1zM45 381h1v1h-1zM79 381h1v1h-1zM83 381h1v1h-1zM97 381h1v1h-1zM110 381h2v1h-2zM115 381h1v1h-1zM118 381h1v1h-1zM122 381h1v1h-1zM124 381h1v1h-1zM127 381h1v1h-1zM130 381h1v1h-1zM135 381h1v1h-1zM137 381h1v1h-1zM139 381h1v1h-1zM143 381h2v1h-2zM149 381h1v1h-1zM34 382h1v1h-1zM42 382h1v1h-1zM83 382h1v1h-1zM99 382h1v1h-1zM107 382h1v1h-1zM112 382h1v1h-1zM114 382h1v1h-1zM121 382h2v1h-2zM128 382h1v1h-1zM131 382h1v1h-1zM133 382h1v1h-1zM136 382h1v1h-1zM141 382h1v1h-1zM146 382h1v1h-1zM43 383h1v1h-1zM55 383h1v1h-1zM82 383h1v1h-1zM90 383h1v1h-1zM98 383h1v1h-1zM100 383h1v1h-1zM102 383h1v1h-1zM104 383h1v1h-1zM120 383h3v1h-3zM124 383h1v1h-1zM132 383h1v1h-1zM134 383h2v1h-2zM138 383h1v1h-1zM142 383h4v1h-4zM105 384h1v1h-1zM116 384h2v1h-2zM120 384h1v1h-1zM122 384h1v1h-1zM134 384h1v1h-1zM137 384h2v1h-2zM146 384h3v1h-3zM41 385h1v1h-1zM44 385h1v1h-1zM80 385h1v1h-1zM98 385h2v1h-2zM103 385h1v1h-1zM117 385h1v1h-1zM120 385h1v1h-1zM123 385h3v1h-3zM129 385h2v1h-2zM134 385h1v1h-1zM137 385h2v1h-2zM141 385h1v1h-1zM148 385h1v1h-1zM40 386h1v1h-1zM54 386h1v1h-1zM70 386h1v1h-1zM100 386h1v1h-1zM104 386h1v1h-1zM109 386h1v1h-1zM114 386h1v1h-1zM120 386h1v1h-1zM123 386h2v1h-2zM127 386h1v1h-1zM137 386h1v1h-1zM139 386h1v1h-1zM141 386h2v1h-2zM144 386h1v1h-1zM146 386h1v1h-1zM39 387h1v1h-1zM45 387h1v1h-1zM51 387h2v1h-2zM60 387h1v1h-1zM79 387h1v1h-1zM84 387h1v1h-1zM87 387h1v1h-1zM108 387h1v1h-1zM114 387h1v1h-1zM119 387h1v1h-1zM128 387h1v1h-1zM132 387h1v1h-1zM145 387h1v1h-1zM59 388h1v1h-1zM75 388h1v1h-1zM102 388h1v1h-1zM110 388h1v1h-1zM113 388h2v1h-2zM119 388h1v1h-1zM121 388h2v1h-2zM127 388h1v1h-1zM130 388h1v1h-1zM132 388h1v1h-1zM137 388h1v1h-1zM141 388h1v1h-1zM144 388h1v1h-1zM148 388h1v1h-1zM41 389h1v1h-1zM46 389h1v1h-1zM97 389h1v1h-1zM99 389h1v1h-1zM102 389h1v1h-1zM109 389h1v1h-1zM116 389h1v1h-1zM119 389h1v1h-1zM123 389h1v1h-1zM129 389h1v1h-1zM135 389h2v1h-2zM45 390h1v1h-1zM50 390h1v1h-1zM66 390h1v1h-1zM82 390h1v1h-1zM97 390h1v1h-1zM104 390h1v1h-1zM106 390h1v1h-1zM115 390h1v1h-1zM121 390h2v1h-2zM125 390h1v1h-1zM127 390h2v1h-2zM133 390h1v1h-1zM137 390h1v1h-1zM147 390h1v1h-1zM79 391h1v1h-1zM85 391h1v1h-1zM93 391h1v1h-1zM101 391h2v1h-2zM124 391h1v1h-1zM126 391h1v1h-1zM130 391h1v1h-1zM139 391h2v1h-2zM149 391h1v1h-1zM43 392h1v1h-1zM92 392h1v1h-1zM106 392h1v1h-1zM108 392h1v1h-1zM111 392h1v1h-1zM114 392h2v1h-2zM118 392h1v1h-1zM122 392h3v1h-3zM136 392h1v1h-1zM141 392h1v1h-1zM143 392h1v1h-1zM146 392h1v1h-1zM38 393h1v1h-1zM45 393h1v1h-1zM77 393h1v1h-1zM100 393h1v1h-1zM103 393h1v1h-1zM111 393h1v1h-1zM113 393h1v1h-1zM115 393h1v1h-1zM119 393h1v1h-1zM123 393h2v1h-2zM134 393h2v1h-2zM140 393h1v1h-1zM142 393h1v1h-1zM146 393h3v1h-3zM150 393h1v1h-1zM43 394h1v1h-1zM45 394h1v1h-1zM60 394h1v1h-1zM91 394h1v1h-1zM97 394h1v1h-1zM110 394h1v1h-1zM112 394h1v1h-1zM120 394h1v1h-1zM131 394h2v1h-2zM134 394h1v1h-1zM140 394h1v1h-1zM142 394h2v1h-2zM34 395h1v1h-1zM40 395h1v1h-1zM94 395h1v1h-1zM96 395h1v1h-1zM106 395h1v1h-1zM115 395h2v1h-2zM119 395h2v1h-2zM122 395h2v1h-2zM127 395h1v1h-1zM130 395h3v1h-3zM134 395h2v1h-2zM140 395h1v1h-1zM142 395h1v1h-1zM145 395h1v1h-1zM36 396h1v1h-1zM67 396h1v1h-1zM89 396h1v1h-1zM96 396h1v1h-1zM106 396h3v1h-3zM110 396h1v1h-1zM112 396h1v1h-1zM114 396h1v1h-1zM118 396h1v1h-1zM125 396h1v1h-1zM135 396h1v1h-1zM137 396h1v1h-1zM141 396h1v1h-1zM149 396h1v1h-1zM39 397h1v1h-1zM62 397h1v1h-1zM108 397h1v1h-1zM111 397h1v1h-1zM114 397h1v1h-1zM117 397h1v1h-1zM123 397h1v1h-1zM125 397h1v1h-1zM127 397h1v1h-1zM133 397h1v1h-1zM135 397h2v1h-2zM138 397h1v1h-1zM148 397h2v1h-2zM38 398h1v1h-1zM54 398h1v1h-1zM63 398h1v1h-1zM77 398h1v1h-1zM90 398h1v1h-1zM94 398h1v1h-1zM99 398h1v1h-1zM107 398h1v1h-1zM115 398h1v1h-1zM120 398h1v1h-1zM123 398h1v1h-1zM126 398h1v1h-1zM128 398h1v1h-1zM132 398h1v1h-1zM140 398h1v1h-1zM143 398h2v1h-2zM150 398h1v1h-1zM33 399h1v1h-1zM36 399h1v1h-1zM40 399h2v1h-2zM85 399h1v1h-1zM97 399h2v1h-2zM106 399h1v1h-1zM123 399h1v1h-1zM128 399h1v1h-1zM130 399h1v1h-1zM133 399h1v1h-1zM140 399h3v1h-3zM65 400h1v1h-1zM81 400h1v1h-1zM96 400h1v1h-1zM99 400h2v1h-2zM102 400h2v1h-2zM110 400h2v1h-2zM115 400h3v1h-3zM124 400h1v1h-1zM126 400h1v1h-1zM128 400h3v1h-3zM133 400h1v1h-1zM143 400h1v1h-1zM146 400h2v1h-2zM30 401h1v1h-1zM49 401h1v1h-1zM59 401h1v1h-1zM82 401h1v1h-1zM84 401h1v1h-1zM91 401h1v1h-1zM104 401h2v1h-2zM108 401h1v1h-1zM116 401h1v1h-1zM118 401h1v1h-1zM120 401h1v1h-1zM124 401h1v1h-1zM130 401h3v1h-3zM134 401h2v1h-2zM139 401h1v1h-1zM141 401h1v1h-1zM143 401h1v1h-1zM147 401h1v1h-1zM39 402h1v1h-1zM84 402h1v1h-1zM86 402h2v1h-2zM89 402h1v1h-1zM106 402h2v1h-2zM109 402h1v1h-1zM116 402h1v1h-1zM120 402h1v1h-1zM126 402h1v1h-1zM128 402h1v1h-1zM132 402h1v1h-1zM134 402h1v1h-1zM139 402h2v1h-2zM146 402h1v1h-1zM38 403h2v1h-2zM47 403h1v1h-1zM101 403h1v1h-1zM115 403h1v1h-1zM118 403h1v1h-1zM120 403h1v1h-1zM131 403h1v1h-1zM140 403h1v1h-1zM37 404h1v1h-1zM46 404h1v1h-1zM54 404h1v1h-1zM79 404h1v1h-1zM92 404h1v1h-1zM114 404h3v1h-3zM131 404h1v1h-1zM135 404h1v1h-1zM140 404h1v1h-1zM143 404h1v1h-1zM46 405h1v1h-1zM50 405h1v1h-1zM54 405h1v1h-1zM71 405h2v1h-2zM91 405h1v1h-1zM101 405h2v1h-2zM109 405h1v1h-1zM111 405h1v1h-1zM114 405h1v1h-1zM117 405h4v1h-4zM122 405h1v1h-1zM128 405h1v1h-1zM135 405h1v1h-1zM143 405h1v1h-1zM147 405h1v1h-1zM34 406h1v1h-1zM41 406h1v1h-1zM47 406h1v1h-1zM59 406h1v1h-1zM84 406h1v1h-1zM97 406h1v1h-1zM99 406h1v1h-1zM105 406h1v1h-1zM108 406h2v1h-2zM111 406h2v1h-2zM114 406h1v1h-1zM123 406h1v1h-1zM130 406h2v1h-2zM137 406h2v1h-2zM143 406h1v1h-1zM145 406h1v1h-1zM46 407h1v1h-1zM55 407h1v1h-1zM65 407h1v1h-1zM75 407h1v1h-1zM82 407h2v1h-2zM88 407h1v1h-1zM95 407h1v1h-1zM103 407h1v1h-1zM106 407h1v1h-1zM108 407h1v1h-1zM110 407h2v1h-2zM113 407h1v1h-1zM115 407h3v1h-3zM119 407h1v1h-1zM122 407h1v1h-1zM128 407h1v1h-1zM138 407h1v1h-1zM141 407h1v1h-1zM143 407h2v1h-2zM64 408h1v1h-1zM74 408h1v1h-1zM83 408h2v1h-2zM88 408h2v1h-2zM92 408h2v1h-2zM95 408h1v1h-1zM100 408h1v1h-1zM103 408h1v1h-1zM106 408h1v1h-1zM110 408h3v1h-3zM114 408h3v1h-3zM118 408h2v1h-2zM127 408h1v1h-1zM129 408h1v1h-1zM134 408h1v1h-1zM138 408h1v1h-1zM140 408h2v1h-2zM144 408h1v1h-1zM37 409h1v1h-1zM39 409h1v1h-1zM46 409h1v1h-1zM68 409h1v1h-1zM82 409h1v1h-1zM90 409h1v1h-1zM97 409h1v1h-1zM110 409h1v1h-1zM117 409h1v1h-1zM121 409h2v1h-2zM135 409h1v1h-1zM142 409h1v1h-1zM146 409h1v1h-1zM47 410h1v1h-1zM55 410h1v1h-1zM85 410h1v1h-1zM97 410h2v1h-2zM104 410h1v1h-1zM106 410h1v1h-1zM108 410h1v1h-1zM110 410h2v1h-2zM113 410h2v1h-2zM116 410h1v1h-1zM119 410h1v1h-1zM121 410h1v1h-1zM129 410h2v1h-2zM135 410h1v1h-1zM140 410h1v1h-1zM144 410h1v1h-1zM47 411h1v1h-1zM77 411h1v1h-1zM82 411h1v1h-1zM84 411h1v1h-1zM90 411h1v1h-1zM97 411h1v1h-1zM109 411h1v1h-1zM111 411h1v1h-1zM114 411h1v1h-1zM126 411h1v1h-1zM128 411h2v1h-2zM139 411h2v1h-2zM39 412h1v1h-1zM59 412h2v1h-2zM77 412h1v1h-1zM80 412h1v1h-1zM82 412h1v1h-1zM84 412h1v1h-1zM93 412h1v1h-1zM96 412h2v1h-2zM99 412h1v1h-1zM103 412h1v1h-1zM107 412h3v1h-3zM113 412h2v1h-2zM116 412h1v1h-1zM124 412h1v1h-1zM132 412h1v1h-1zM134 412h1v1h-1zM136 412h1v1h-1zM145 412h1v1h-1zM149 412h1v1h-1zM151 412h1v1h-1zM46 413h1v1h-1zM62 413h1v1h-1zM79 413h1v1h-1zM87 413h1v1h-1zM91 413h2v1h-2zM95 413h1v1h-1zM109 413h1v1h-1zM114 413h1v1h-1zM116 413h2v1h-2zM119 413h1v1h-1zM122 413h2v1h-2zM125 413h1v1h-1zM127 413h2v1h-2zM140 413h1v1h-1zM43 414h1v1h-1zM48 414h1v1h-1zM50 414h1v1h-1zM56 414h1v1h-1zM59 414h1v1h-1zM86 414h1v1h-1zM92 414h3v1h-3zM98 414h1v1h-1zM101 414h3v1h-3zM110 414h1v1h-1zM112 414h1v1h-1zM115 414h1v1h-1zM122 414h1v1h-1zM125 414h1v1h-1zM129 414h1v1h-1zM132 414h1v1h-1zM139 414h1v1h-1zM32 415h1v1h-1zM46 415h1v1h-1zM66 415h1v1h-1zM73 415h1v1h-1zM75 415h1v1h-1zM82 415h1v1h-1zM86 415h2v1h-2zM90 415h1v1h-1zM92 415h1v1h-1zM95 415h1v1h-1zM97 415h3v1h-3zM102 415h1v1h-1zM104 415h2v1h-2zM108 415h1v1h-1zM113 415h1v1h-1zM120 415h1v1h-1zM46 416h1v1h-1zM48 416h1v1h-1zM65 416h1v1h-1zM76 416h1v1h-1zM82 416h1v1h-1zM85 416h1v1h-1zM91 416h1v1h-1zM95 416h1v1h-1zM109 416h1v1h-1zM117 416h1v1h-1zM124 416h1v1h-1zM131 416h1v1h-1zM142 416h1v1h-1zM144 416h1v1h-1zM148 416h1v1h-1zM77 417h1v1h-1zM80 417h1v1h-1zM82 417h1v1h-1zM85 417h1v1h-1zM90 417h2v1h-2zM97 417h1v1h-1zM101 417h2v1h-2zM110 417h1v1h-1zM113 417h1v1h-1zM120 417h1v1h-1zM122 417h1v1h-1zM128 417h1v1h-1zM140 417h2v1h-2zM145 417h1v1h-1zM40 418h1v1h-1zM76 418h2v1h-2zM87 418h1v1h-1zM91 418h1v1h-1zM94 418h1v1h-1zM100 418h1v1h-1zM109 418h1v1h-1zM112 418h1v1h-1zM115 418h2v1h-2zM120 418h1v1h-1zM136 418h1v1h-1zM138 418h1v1h-1zM147 418h1v1h-1zM64 419h1v1h-1zM73 419h1v1h-1zM81 419h2v1h-2zM86 419h2v1h-2zM90 419h1v1h-1zM92 419h1v1h-1zM100 419h1v1h-1zM102 419h1v1h-1zM105 419h1v1h-1zM108 419h1v1h-1zM118 419h1v1h-1zM121 419h1v1h-1zM129 419h1v1h-1zM132 419h1v1h-1zM143 419h1v1h-1zM40 420h1v1h-1zM43 420h1v1h-1zM45 420h1v1h-1zM66 420h1v1h-1zM79 420h1v1h-1zM90 420h1v1h-1zM92 420h2v1h-2zM100 420h2v1h-2zM118 420h1v1h-1zM121 420h1v1h-1zM129 420h1v1h-1zM145 420h2v1h-2zM40 421h1v1h-1zM45 421h2v1h-2zM55 421h2v1h-2zM58 421h1v1h-1zM74 421h1v1h-1zM76 421h1v1h-1zM80 421h1v1h-1zM83 421h1v1h-1zM86 421h1v1h-1zM88 421h2v1h-2zM95 421h6v1h-6zM104 421h1v1h-1zM107 421h1v1h-1zM113 421h1v1h-1zM116 421h1v1h-1zM118 421h1v1h-1zM125 421h1v1h-1zM131 421h2v1h-2zM30 422h1v1h-1zM39 422h1v1h-1zM45 422h1v1h-1zM50 422h1v1h-1zM83 422h1v1h-1zM85 422h2v1h-2zM88 422h1v1h-1zM100 422h2v1h-2zM108 422h1v1h-1zM110 422h1v1h-1zM113 422h1v1h-1zM115 422h2v1h-2zM118 422h2v1h-2zM130 422h1v1h-1zM141 422h1v1h-1zM149 422h2v1h-2zM55 423h1v1h-1zM73 423h1v1h-1zM80 423h1v1h-1zM83 423h1v1h-1zM90 423h1v1h-1zM99 423h1v1h-1zM117 423h1v1h-1zM124 423h1v1h-1zM135 423h1v1h-1zM50 424h1v1h-1zM78 424h1v1h-1zM88 424h1v1h-1zM90 424h1v1h-1zM92 424h1v1h-1zM95 424h1v1h-1zM97 424h1v1h-1zM106 424h2v1h-2zM109 424h1v1h-1zM112 424h1v1h-1zM114 424h1v1h-1zM122 424h1v1h-1zM43 425h1v1h-1zM46 425h1v1h-1zM52 425h1v1h-1zM75 425h1v1h-1zM78 425h2v1h-2zM84 425h1v1h-1zM92 425h1v1h-1zM94 425h2v1h-2zM97 425h1v1h-1zM100 425h1v1h-1zM102 425h2v1h-2zM105 425h1v1h-1zM108 425h1v1h-1zM113 425h1v1h-1zM115 425h2v1h-2zM120 425h1v1h-1zM125 425h1v1h-1zM128 425h1v1h-1zM134 425h1v1h-1zM139 425h1v1h-1zM40 426h1v1h-1zM43 426h1v1h-1zM67 426h1v1h-1zM73 426h2v1h-2zM82 426h1v1h-1zM84 426h1v1h-1zM87 426h1v1h-1zM93 426h1v1h-1zM95 426h1v1h-1zM97 426h1v1h-1zM104 426h2v1h-2zM109 426h1v1h-1zM111 426h1v1h-1zM130 426h1v1h-1zM133 426h1v1h-1zM141 426h1v1h-1zM42 427h1v1h-1zM58 427h1v1h-1zM66 427h1v1h-1zM74 427h1v1h-1zM76 427h1v1h-1zM82 427h1v1h-1zM84 427h1v1h-1zM87 427h1v1h-1zM91 427h3v1h-3zM95 427h1v1h-1zM98 427h1v1h-1zM105 427h2v1h-2zM114 427h1v1h-1zM117 427h1v1h-1zM123 427h1v1h-1zM135 427h1v1h-1zM145 427h1v1h-1zM33 428h1v1h-1zM48 428h1v1h-1zM50 428h1v1h-1zM68 428h1v1h-1zM79 428h1v1h-1zM87 428h2v1h-2zM92 428h1v1h-1zM100 428h1v1h-1zM102 428h1v1h-1zM105 428h1v1h-1zM109 428h1v1h-1zM115 428h2v1h-2zM119 428h1v1h-1zM133 428h1v1h-1zM33 429h1v1h-1zM70 429h1v1h-1zM78 429h1v1h-1zM81 429h2v1h-2zM90 429h4v1h-4zM97 429h1v1h-1zM99 429h1v1h-1zM101 429h1v1h-1zM103 429h3v1h-3zM107 429h3v1h-3zM115 429h1v1h-1zM119 429h1v1h-1zM123 429h1v1h-1zM127 429h1v1h-1zM129 429h1v1h-1zM131 429h1v1h-1zM141 429h1v1h-1zM147 429h1v1h-1zM40 430h2v1h-2zM43 430h1v1h-1zM50 430h1v1h-1zM60 430h1v1h-1zM68 430h1v1h-1zM74 430h1v1h-1zM80 430h1v1h-1zM91 430h6v1h-6zM98 430h1v1h-1zM104 430h1v1h-1zM112 430h1v1h-1zM116 430h1v1h-1zM122 430h2v1h-2zM129 430h1v1h-1zM139 430h1v1h-1zM151 430h1v1h-1zM47 431h1v1h-1zM56 431h1v1h-1zM66 431h1v1h-1zM70 431h1v1h-1zM73 431h2v1h-2zM78 431h2v1h-2zM88 431h1v1h-1zM93 431h1v1h-1zM95 431h1v1h-1zM106 431h1v1h-1zM109 431h1v1h-1zM117 431h1v1h-1zM121 431h1v1h-1zM131 431h1v1h-1zM137 431h2v1h-2zM148 431h1v1h-1zM33 432h1v1h-1zM39 432h1v1h-1zM43 432h1v1h-1zM56 432h1v1h-1zM61 432h1v1h-1zM73 432h1v1h-1zM76 432h1v1h-1zM79 432h1v1h-1zM82 432h1v1h-1zM85 432h1v1h-1zM87 432h1v1h-1zM90 432h1v1h-1zM93 432h1v1h-1zM100 432h1v1h-1zM102 432h1v1h-1zM105 432h1v1h-1zM107 432h1v1h-1zM110 432h1v1h-1zM113 432h1v1h-1zM116 432h1v1h-1zM118 432h1v1h-1zM120 432h1v1h-1zM144 432h1v1h-1zM43 433h1v1h-1zM53 433h1v1h-1zM57 433h1v1h-1zM60 433h1v1h-1zM68 433h1v1h-1zM72 433h1v1h-1zM77 433h1v1h-1zM80 433h1v1h-1zM82 433h1v1h-1zM85 433h2v1h-2zM93 433h1v1h-1zM95 433h1v1h-1zM97 433h2v1h-2zM100 433h1v1h-1zM103 433h5v1h-5zM111 433h1v1h-1zM119 433h1v1h-1zM123 433h2v1h-2zM127 433h2v1h-2zM131 433h1v1h-1zM146 433h1v1h-1zM149 433h1v1h-1zM35 434h1v1h-1zM48 434h1v1h-1zM54 434h1v1h-1zM60 434h1v1h-1zM64 434h1v1h-1zM72 434h2v1h-2zM76 434h1v1h-1zM80 434h1v1h-1zM82 434h2v1h-2zM92 434h1v1h-1zM96 434h1v1h-1zM103 434h4v1h-4zM108 434h2v1h-2zM111 434h1v1h-1zM124 434h1v1h-1zM130 434h1v1h-1zM40 435h1v1h-1zM44 435h1v1h-1zM54 435h3v1h-3zM59 435h1v1h-1zM83 435h1v1h-1zM90 435h1v1h-1zM104 435h1v1h-1zM110 435h1v1h-1zM56 436h1v1h-1zM77 436h1v1h-1zM82 436h4v1h-4zM87 436h1v1h-1zM90 436h1v1h-1zM102 436h1v1h-1zM104 436h2v1h-2zM107 436h1v1h-1zM110 436h1v1h-1zM116 436h1v1h-1zM119 436h2v1h-2zM135 436h1v1h-1zM138 436h1v1h-1zM143 436h1v1h-1zM39 437h1v1h-1zM55 437h1v1h-1zM64 437h1v1h-1zM70 437h2v1h-2zM74 437h1v1h-1zM76 437h1v1h-1zM81 437h2v1h-2zM86 437h1v1h-1zM95 437h1v1h-1zM104 437h1v1h-1zM110 437h1v1h-1zM115 437h1v1h-1zM127 437h2v1h-2zM133 437h1v1h-1zM147 437h1v1h-1zM38 438h1v1h-1zM42 438h1v1h-1zM44 438h1v1h-1zM50 438h1v1h-1zM53 438h1v1h-1zM56 438h1v1h-1zM58 438h1v1h-1zM64 438h2v1h-2zM77 438h2v1h-2zM91 438h1v1h-1zM97 438h1v1h-1zM102 438h2v1h-2zM105 438h1v1h-1zM107 438h1v1h-1zM113 438h1v1h-1zM134 438h1v1h-1zM36 439h1v1h-1zM42 439h1v1h-1zM60 439h1v1h-1zM62 439h1v1h-1zM77 439h1v1h-1zM82 439h4v1h-4zM91 439h1v1h-1zM98 439h1v1h-1zM103 439h1v1h-1zM109 439h1v1h-1zM123 439h1v1h-1zM125 439h1v1h-1zM134 439h1v1h-1zM44 440h1v1h-1zM55 440h2v1h-2zM61 440h1v1h-1zM67 440h1v1h-1zM74 440h2v1h-2zM80 440h1v1h-1zM88 440h1v1h-1zM93 440h1v1h-1zM105 440h1v1h-1zM114 440h1v1h-1zM121 440h1v1h-1zM33 441h1v1h-1zM48 441h1v1h-1zM60 441h1v1h-1zM64 441h1v1h-1zM67 441h1v1h-1zM70 441h2v1h-2zM74 441h2v1h-2zM77 441h1v1h-1zM88 441h1v1h-1zM91 441h3v1h-3zM97 441h3v1h-3zM102 441h1v1h-1zM112 441h1v1h-1zM45 442h1v1h-1zM47 442h1v1h-1zM54 442h1v1h-1zM56 442h1v1h-1zM61 442h1v1h-1zM63 442h1v1h-1zM66 442h1v1h-1zM68 442h1v1h-1zM70 442h1v1h-1zM72 442h1v1h-1zM78 442h1v1h-1zM80 442h1v1h-1zM82 442h1v1h-1zM84 442h2v1h-2zM87 442h1v1h-1zM90 442h1v1h-1zM94 442h1v1h-1zM99 442h2v1h-2zM103 442h2v1h-2zM119 442h1v1h-1zM122 442h1v1h-1zM132 442h1v1h-1zM51 443h2v1h-2zM63 443h1v1h-1zM65 443h1v1h-1zM70 443h1v1h-1zM72 443h2v1h-2zM79 443h1v1h-1zM81 443h1v1h-1zM87 443h1v1h-1zM92 443h2v1h-2zM95 443h1v1h-1zM102 443h1v1h-1zM104 443h3v1h-3zM117 443h1v1h-1zM38 444h1v1h-1zM54 444h1v1h-1zM57 444h1v1h-1zM62 444h1v1h-1zM70 444h3v1h-3zM74 444h1v1h-1zM78 444h1v1h-1zM94 444h1v1h-1zM100 444h1v1h-1zM109 444h1v1h-1zM151 444h1v1h-1zM31 445h1v1h-1zM37 445h1v1h-1zM48 445h2v1h-2zM58 445h1v1h-1zM61 445h1v1h-1zM69 445h1v1h-1zM75 445h1v1h-1zM77 445h1v1h-1zM80 445h1v1h-1zM85 445h3v1h-3zM90 445h1v1h-1zM94 445h1v1h-1zM107 445h1v1h-1zM116 445h1v1h-1zM119 445h1v1h-1zM134 445h1v1h-1zM32 446h1v1h-1zM42 446h1v1h-1zM55 446h1v1h-1zM57 446h2v1h-2zM61 446h1v1h-1zM63 446h1v1h-1zM65 446h2v1h-2zM73 446h2v1h-2zM83 446h1v1h-1zM86 446h3v1h-3zM109 446h1v1h-1zM116 446h1v1h-1zM119 446h1v1h-1zM124 446h1v1h-1zM133 446h1v1h-1zM146 446h1v1h-1zM40 447h1v1h-1zM44 447h1v1h-1zM47 447h1v1h-1zM51 447h1v1h-1zM56 447h1v1h-1zM62 447h1v1h-1zM64 447h1v1h-1zM66 447h1v1h-1zM71 447h1v1h-1zM81 447h1v1h-1zM89 447h2v1h-2zM92 447h1v1h-1zM104 447h1v1h-1zM107 447h1v1h-1zM115 447h1v1h-1zM123 447h1v1h-1zM131 447h1v1h-1zM133 447h1v1h-1zM147 447h2v1h-2zM40 448h2v1h-2zM54 448h2v1h-2zM57 448h1v1h-1zM66 448h1v1h-1zM73 448h1v1h-1zM77 448h1v1h-1zM80 448h1v1h-1zM83 448h2v1h-2zM92 448h1v1h-1zM94 448h2v1h-2zM98 448h1v1h-1zM102 448h1v1h-1zM119 448h1v1h-1zM121 448h1v1h-1zM126 448h1v1h-1zM38 449h1v1h-1zM41 449h1v1h-1zM53 449h1v1h-1zM56 449h2v1h-2zM59 449h3v1h-3zM66 449h1v1h-1zM69 449h1v1h-1zM73 449h1v1h-1zM75 449h3v1h-3zM81 449h2v1h-2zM84 449h1v1h-1zM90 449h2v1h-2zM95 449h1v1h-1zM97 449h1v1h-1zM112 449h2v1h-2zM121 449h1v1h-1zM30 450h1v1h-1zM34 450h1v1h-1zM49 450h1v1h-1zM54 450h2v1h-2zM60 450h1v1h-1zM64 450h3v1h-3zM73 450h1v1h-1zM75 450h1v1h-1zM77 450h2v1h-2zM80 450h1v1h-1zM90 450h1v1h-1zM97 450h1v1h-1zM100 450h1v1h-1zM105 450h1v1h-1zM109 450h1v1h-1zM114 450h1v1h-1zM117 450h1v1h-1zM129 450h1v1h-1zM131 450h1v1h-1zM36 451h2v1h-2zM44 451h1v1h-1zM54 451h3v1h-3zM62 451h2v1h-2zM65 451h2v1h-2zM73 451h2v1h-2zM83 451h3v1h-3zM92 451h1v1h-1zM94 451h1v1h-1zM100 451h4v1h-4zM125 451h2v1h-2zM130 451h1v1h-1zM136 451h2v1h-2zM142 451h1v1h-1zM36 452h1v1h-1zM39 452h2v1h-2zM47 452h1v1h-1zM52 452h1v1h-1zM58 452h1v1h-1zM60 452h1v1h-1zM62 452h1v1h-1zM66 452h2v1h-2zM75 452h1v1h-1zM79 452h1v1h-1zM90 452h1v1h-1zM120 452h1v1h-1zM37 453h1v1h-1zM39 453h1v1h-1zM41 453h1v1h-1zM43 453h2v1h-2zM54 453h2v1h-2zM59 453h1v1h-1zM65 453h1v1h-1zM76 453h1v1h-1zM78 453h1v1h-1zM81 453h1v1h-1zM85 453h1v1h-1zM87 453h1v1h-1zM92 453h1v1h-1zM109 453h3v1h-3zM127 453h1v1h-1zM47 454h1v1h-1zM54 454h1v1h-1zM59 454h1v1h-1zM63 454h1v1h-1zM70 454h2v1h-2zM74 454h1v1h-1zM76 454h1v1h-1zM79 454h1v1h-1zM81 454h1v1h-1zM85 454h2v1h-2zM97 454h1v1h-1zM30 455h1v1h-1zM32 455h1v1h-1zM46 455h1v1h-1zM49 455h1v1h-1zM55 455h1v1h-1zM61 455h1v1h-1zM65 455h1v1h-1zM71 455h1v1h-1zM73 455h1v1h-1zM75 455h2v1h-2zM80 455h2v1h-2zM84 455h1v1h-1zM86 455h1v1h-1zM92 455h1v1h-1zM120 455h1v1h-1zM126 455h1v1h-1zM129 455h1v1h-1zM35 456h1v1h-1zM50 456h1v1h-1zM52 456h1v1h-1zM61 456h1v1h-1zM65 456h2v1h-2zM69 456h2v1h-2zM73 456h1v1h-1zM76 456h1v1h-1zM81 456h1v1h-1zM84 456h1v1h-1zM90 456h1v1h-1zM92 456h1v1h-1zM99 456h1v1h-1zM107 456h1v1h-1zM114 456h1v1h-1zM119 456h1v1h-1zM42 457h1v1h-1zM50 457h1v1h-1zM54 457h1v1h-1zM57 457h1v1h-1zM60 457h1v1h-1zM63 457h1v1h-1zM65 457h1v1h-1zM68 457h1v1h-1zM71 457h3v1h-3zM75 457h1v1h-1zM77 457h1v1h-1zM79 457h1v1h-1zM82 457h1v1h-1zM88 457h1v1h-1zM97 457h1v1h-1zM99 457h1v1h-1zM120 457h1v1h-1zM140 457h1v1h-1zM30 458h1v1h-1zM32 458h2v1h-2zM37 458h1v1h-1zM42 458h2v1h-2zM49 458h1v1h-1zM54 458h1v1h-1zM56 458h1v1h-1zM58 458h3v1h-3zM65 458h1v1h-1zM72 458h1v1h-1zM76 458h1v1h-1zM78 458h2v1h-2zM81 458h1v1h-1zM88 458h2v1h-2zM100 458h1v1h-1zM102 458h1v1h-1zM108 458h1v1h-1zM115 458h1v1h-1zM134 458h1v1h-1zM145 458h1v1h-1zM30 459h1v1h-1zM34 459h1v1h-1zM39 459h2v1h-2zM42 459h1v1h-1zM49 459h1v1h-1zM51 459h2v1h-2zM61 459h1v1h-1zM65 459h1v1h-1zM74 459h1v1h-1zM79 459h1v1h-1zM89 459h1v1h-1zM97 459h1v1h-1zM113 459h1v1h-1zM31 460h1v1h-1zM38 460h1v1h-1zM41 460h1v1h-1zM48 460h1v1h-1zM52 460h2v1h-2zM55 460h1v1h-1zM58 460h1v1h-1zM66 460h4v1h-4zM73 460h2v1h-2zM76 460h1v1h-1zM101 460h1v1h-1zM127 460h2v1h-2zM145 460h1v1h-1zM33 461h1v1h-1zM37 461h1v1h-1zM39 461h1v1h-1zM42 461h1v1h-1zM44 461h4v1h-4zM50 461h1v1h-1zM58 461h2v1h-2zM62 461h3v1h-3zM67 461h2v1h-2zM70 461h1v1h-1zM73 461h2v1h-2zM76 461h1v1h-1zM79 461h1v1h-1zM86 461h1v1h-1zM89 461h1v1h-1zM91 461h1v1h-1zM95 461h1v1h-1zM97 461h1v1h-1zM102 461h1v1h-1zM125 461h2v1h-2zM31 462h1v1h-1zM35 462h2v1h-2zM43 462h1v1h-1zM49 462h1v1h-1zM51 462h1v1h-1zM53 462h2v1h-2zM59 462h2v1h-2zM68 462h1v1h-1zM75 462h2v1h-2zM85 462h2v1h-2zM90 462h1v1h-1zM103 462h1v1h-1zM107 462h1v1h-1zM109 462h1v1h-1zM117 462h1v1h-1zM127 462h1v1h-1zM138 462h1v1h-1zM147 462h1v1h-1zM34 463h1v1h-1zM36 463h1v1h-1zM38 463h1v1h-1zM41 463h1v1h-1zM48 463h1v1h-1zM50 463h1v1h-1zM52 463h1v1h-1zM55 463h1v1h-1zM57 463h2v1h-2zM60 463h4v1h-4zM66 463h1v1h-1zM74 463h1v1h-1zM84 463h1v1h-1zM104 463h2v1h-2zM132 463h1v1h-1zM31 464h1v1h-1zM38 464h1v1h-1zM44 464h1v1h-1zM48 464h2v1h-2zM52 464h2v1h-2zM55 464h2v1h-2zM59 464h1v1h-1zM61 464h1v1h-1zM64 464h1v1h-1zM80 464h2v1h-2zM83 464h1v1h-1zM86 464h2v1h-2zM93 464h1v1h-1zM104 464h1v1h-1zM106 464h1v1h-1zM109 464h1v1h-1zM111 464h1v1h-1zM132 464h1v1h-1zM134 464h1v1h-1zM140 464h1v1h-1zM143 464h1v1h-1zM151 464h1v1h-1zM36 465h2v1h-2zM40 465h1v1h-1zM42 465h2v1h-2zM47 465h1v1h-1zM52 465h2v1h-2zM55 465h1v1h-1zM60 465h1v1h-1zM62 465h2v1h-2zM65 465h4v1h-4zM72 465h1v1h-1zM74 465h1v1h-1zM84 465h1v1h-1zM95 465h1v1h-1zM98 465h1v1h-1zM103 465h1v1h-1zM105 465h1v1h-1zM107 465h1v1h-1zM124 465h1v1h-1zM128 465h1v1h-1zM134 465h1v1h-1zM148 465h1v1h-1zM34 466h1v1h-1zM37 466h2v1h-2zM40 466h2v1h-2zM45 466h2v1h-2zM48 466h1v1h-1zM53 466h1v1h-1zM56 466h2v1h-2zM59 466h2v1h-2zM63 466h2v1h-2zM69 466h1v1h-1zM74 466h3v1h-3zM78 466h3v1h-3zM91 466h3v1h-3zM100 466h1v1h-1zM116 466h2v1h-2zM121 466h2v1h-2zM129 466h1v1h-1zM133 466h1v1h-1zM34 467h2v1h-2zM37 467h2v1h-2zM40 467h3v1h-3zM45 467h3v1h-3zM51 467h1v1h-1zM54 467h1v1h-1zM56 467h2v1h-2zM60 467h3v1h-3zM64 467h1v1h-1zM70 467h2v1h-2zM75 467h1v1h-1zM77 467h1v1h-1zM85 467h1v1h-1zM87 467h1v1h-1zM91 467h1v1h-1zM93 467h1v1h-1zM115 467h1v1h-1zM126 467h1v1h-1zM131 467h1v1h-1zM133 467h1v1h-1zM140 467h2v1h-2zM148 467h1v1h-1zM30 468h1v1h-1zM38 468h1v1h-1zM41 468h2v1h-2zM45 468h2v1h-2zM48 468h1v1h-1zM51 468h1v1h-1zM53 468h3v1h-3zM58 468h2v1h-2zM61 468h2v1h-2zM68 468h1v1h-1zM70 468h1v1h-1zM74 468h1v1h-1zM76 468h1v1h-1zM82 468h1v1h-1zM87 468h1v1h-1zM93 468h1v1h-1zM100 468h1v1h-1zM119 468h1v1h-1zM141 468h1v1h-1zM30 469h1v1h-1zM34 469h1v1h-1zM36 469h2v1h-2zM41 469h2v1h-2zM45 469h1v1h-1zM51 469h1v1h-1zM53 469h1v1h-1zM56 469h1v1h-1zM62 469h2v1h-2zM66 469h1v1h-1zM68 469h1v1h-1zM71 469h1v1h-1zM76 469h1v1h-1zM79 469h1v1h-1zM82 469h3v1h-3zM87 469h2v1h-2zM92 469h1v1h-1zM99 469h1v1h-1zM104 469h1v1h-1zM111 469h1v1h-1zM119 469h1v1h-1zM127 469h1v1h-1zM149 469h1v1h-1zM35 470h1v1h-1zM39 470h1v1h-1zM44 470h1v1h-1zM47 470h1v1h-1zM56 470h1v1h-1zM58 470h1v1h-1zM62 470h1v1h-1zM64 470h1v1h-1zM68 470h2v1h-2zM71 470h2v1h-2zM75 470h1v1h-1zM78 470h1v1h-1zM83 470h1v1h-1zM85 470h1v1h-1zM95 470h2v1h-2zM100 470h1v1h-1zM104 470h1v1h-1zM106 470h1v1h-1zM110 470h1v1h-1zM114 470h1v1h-1zM120 470h2v1h-2zM126 470h1v1h-1zM128 470h1v1h-1zM142 470h1v1h-1zM34 471h1v1h-1zM36 471h1v1h-1zM38 471h3v1h-3zM42 471h2v1h-2zM46 471h1v1h-1zM48 471h3v1h-3zM52 471h1v1h-1zM54 471h1v1h-1zM57 471h1v1h-1zM62 471h1v1h-1zM64 471h1v1h-1zM68 471h1v1h-1zM73 471h1v1h-1zM80 471h1v1h-1zM82 471h1v1h-1zM85 471h2v1h-2zM90 471h1v1h-1zM92 471h1v1h-1zM98 471h2v1h-2zM106 471h1v1h-1zM117 471h1v1h-1zM121 471h1v1h-1zM35 472h3v1h-3zM39 472h1v1h-1zM50 472h2v1h-2zM55 472h1v1h-1zM59 472h3v1h-3zM68 472h1v1h-1zM71 472h3v1h-3zM78 472h1v1h-1zM91 472h1v1h-1zM101 472h1v1h-1zM107 472h1v1h-1zM109 472h1v1h-1zM120 472h1v1h-1zM142 472h1v1h-1zM146 472h1v1h-1zM149 472h1v1h-1zM31 473h1v1h-1zM35 473h1v1h-1zM39 473h3v1h-3zM44 473h3v1h-3zM51 473h1v1h-1zM54 473h2v1h-2zM57 473h1v1h-1zM64 473h1v1h-1zM67 473h3v1h-3zM73 473h2v1h-2zM81 473h1v1h-1zM85 473h2v1h-2zM90 473h1v1h-1zM92 473h1v1h-1zM95 473h1v1h-1zM101 473h1v1h-1zM106 473h3v1h-3zM117 473h1v1h-1zM125 473h1v1h-1zM146 473h1v1h-1zM36 474h1v1h-1zM39 474h1v1h-1zM41 474h1v1h-1zM44 474h1v1h-1zM47 474h1v1h-1zM49 474h1v1h-1zM51 474h1v1h-1zM58 474h1v1h-1zM65 474h1v1h-1zM69 474h1v1h-1zM72 474h1v1h-1zM79 474h1v1h-1zM87 474h2v1h-2zM93 474h1v1h-1zM96 474h1v1h-1zM98 474h2v1h-2zM102 474h1v1h-1zM104 474h1v1h-1zM109 474h1v1h-1zM147 474h1v1h-1zM30 475h1v1h-1zM32 475h2v1h-2zM36 475h1v1h-1zM40 475h2v1h-2zM43 475h1v1h-1zM45 475h2v1h-2zM49 475h2v1h-2zM53 475h1v1h-1zM55 475h3v1h-3zM61 475h1v1h-1zM63 475h1v1h-1zM68 475h1v1h-1zM77 475h1v1h-1zM80 475h2v1h-2zM88 475h2v1h-2zM92 475h1v1h-1zM98 475h2v1h-2zM101 475h1v1h-1zM103 475h2v1h-2zM32 476h1v1h-1zM37 476h1v1h-1zM39 476h3v1h-3zM43 476h3v1h-3zM51 476h1v1h-1zM54 476h1v1h-1zM56 476h1v1h-1zM64 476h2v1h-2zM68 476h2v1h-2zM96 476h1v1h-1zM102 476h1v1h-1zM126 476h1v1h-1zM128 476h1v1h-1zM138 476h1v1h-1zM30 477h1v1h-1zM39 477h1v1h-1zM41 477h4v1h-4zM47 477h1v1h-1zM51 477h3v1h-3zM58 477h1v1h-1zM63 477h1v1h-1zM65 477h1v1h-1zM72 477h1v1h-1zM78 477h1v1h-1zM85 477h2v1h-2zM90 477h2v1h-2zM101 477h1v1h-1zM103 477h1v1h-1zM121 477h1v1h-1zM136 477h1v1h-1zM145 477h1v1h-1zM30 478h2v1h-2zM36 478h2v1h-2zM43 478h1v1h-1zM47 478h1v1h-1zM50 478h4v1h-4zM61 478h1v1h-1zM68 478h1v1h-1zM70 478h1v1h-1zM72 478h1v1h-1zM78 478h1v1h-1zM81 478h1v1h-1zM85 478h1v1h-1zM91 478h1v1h-1zM94 478h1v1h-1zM98 478h1v1h-1zM30 479h1v1h-1zM32 479h2v1h-2zM37 479h1v1h-1zM72 479h1v1h-1zM75 479h1v1h-1zM81 479h1v1h-1zM83 479h1v1h-1zM85 479h1v1h-1zM89 479h1v1h-1zM129 479h1v1h-1zM141 479h1v1h-1zM144 479h2v1h-2zM150 479h1v1h-1zM37 480h1v1h-1zM39 480h1v1h-1zM68 480h5v1h-5zM80 480h1v1h-1zM82 480h4v1h-4zM31 481h1v1h-1zM67 481h1v1h-1zM69 481h1v1h-1zM73 481h1v1h-1zM80 481h1v1h-1zM85 481h2v1h-2zM96 481h1v1h-1zM127 481h1v1h-1zM140 481h1v1h-1zM142 481h1v1h-1zM147 481h1v1h-1zM30 482h1v1h-1zM36 482h1v1h-1zM43 482h1v1h-1zM46 482h1v1h-1zM71 482h2v1h-2zM76 482h1v1h-1zM83 482h1v1h-1zM132 482h1v1h-1zM135 482h1v1h-1zM143 482h1v1h-1zM148 482h1v1h-1zM49 483h1v1h-1zM59 483h1v1h-1zM72 483h1v1h-1zM77 483h3v1h-3zM100 483h1v1h-1zM133 483h1v1h-1zM142 483h1v1h-1zM149 483h1v1h-1zM30 484h1v1h-1zM32 484h1v1h-1zM57 484h1v1h-1zM72 484h1v1h-1zM98 484h1v1h-1zM106 484h1v1h-1zM120 484h1v1h-1zM134 484h1v1h-1zM31 485h2v1h-2zM69 485h1v1h-1zM72 485h1v1h-1zM74 485h1v1h-1zM97 485h1v1h-1zM123 485h1v1h-1zM129 485h2v1h-2zM135 485h1v1h-1zM30 486h1v1h-1zM34 486h1v1h-1zM49 486h1v1h-1zM58 486h1v1h-1zM67 486h1v1h-1zM71 486h1v1h-1zM80 486h1v1h-1zM122 486h2v1h-2zM128 486h1v1h-1zM134 486h1v1h-1zM142 486h1v1h-1zM31 487h1v1h-1zM42 487h1v1h-1zM60 487h1v1h-1zM80 487h1v1h-1zM118 487h1v1h-1zM123 487h1v1h-1zM125 487h1v1h-1zM38 488h1v1h-1zM40 488h1v1h-1zM45 488h1v1h-1zM85 488h1v1h-1zM115 488h3v1h-3zM130 488h1v1h-1zM49 489h1v1h-1zM81 489h1v1h-1zM118 489h1v1h-1zM121 489h1v1h-1zM41 490h1v1h-1zM46 490h1v1h-1zM69 490h1v1h-1zM103 490h1v1h-1zM113 490h1v1h-1zM115 490h1v1h-1zM133 490h1v1h-1zM31 491h1v1h-1zM42 491h1v1h-1zM47 491h2v1h-2zM68 491h1v1h-1zM100 491h1v1h-1zM111 491h1v1h-1zM117 491h1v1h-1zM122 491h2v1h-2zM36 492h1v1h-1zM55 492h1v1h-1zM84 492h1v1h-1zM91 492h1v1h-1zM94 492h1v1h-1zM99 492h1v1h-1zM117 492h2v1h-2zM130 492h1v1h-1zM143 492h1v1h-1zM33 493h1v1h-1zM84 493h1v1h-1zM105 493h2v1h-2zM117 493h1v1h-1zM120 493h1v1h-1zM140 493h1v1h-1zM151 493h1v1h-1zM35 494h1v1h-1zM97 494h2v1h-2zM106 494h1v1h-1zM109 494h2v1h-2zM48 495h1v1h-1zM93 495h2v1h-2zM97 495h1v1h-1zM102 495h1v1h-1zM137 495h1v1h-1zM140 495h1v1h-1zM91 496h1v1h-1zM96 496h1v1h-1zM136 496h1v1h-1zM92 497h1v1h-1zM97 497h1v1h-1zM31 498h1v1h-1zM41 498h1v1h-1zM92 498h1v1h-1zM94 498h1v1h-1zM105 498h1v1h-1zM109 498h1v1h-1zM49 499h1v1h-1zM87 499h1v1h-1zM119 499h1v1h-1zM139 499h1v1h-1zM148 499h1v1h-1zM30 500h1v1h-1zM32 500h1v1h-1zM38 500h1v1h-1zM48 500h1v1h-1zM78 500h1v1h-1zM81 500h1v1h-1zM133 500h1v1h-1zM30 501h1v1h-1zM33 501h1v1h-1zM50 501h1v1h-1zM55 501h1v1h-1zM72 501h1v1h-1zM86 501h1v1h-1zM96 501h1v1h-1zM101 501h1v1h-1z"/>
<g filter="url(#soft)">
<path fill="#6690dc" d="M147 381h1v1h-1zM41 383h2v1h-2zM89 383h1v1h-1zM101 383h1v1h-1zM110 383h1v1h-1zM44 384h1v1h-1zM125 384h1v1h-1zM42 385h1v1h-1zM136 385h1v1h-1zM43 386h1v1h-1zM45 386h1v1h-1zM63 386h1v1h-1zM71 386h1v1h-1zM119 386h1v1h-1zM42 387h3v1h-3zM82 387h1v1h-1zM135 387h1v1h-1zM41 388h1v1h-1zM43 388h2v1h-2zM74 388h1v1h-1zM78 388h1v1h-1zM42 389h1v1h-1zM44 389h1v1h-1zM52 389h1v1h-1zM64 389h1v1h-1zM76 389h1v1h-1zM125 389h1v1h-1zM41 390h1v1h-1zM44 390h1v1h-1zM65 390h1v1h-1zM136 390h1v1h-1zM40 391h3v1h-3zM45 391h1v1h-1zM42 392h1v1h-1zM44 392h2v1h-2zM117 392h1v1h-1zM40 393h1v1h-1zM44 393h1v1h-1zM89 393h1v1h-1zM41 394h1v1h-1zM89 394h1v1h-1zM45 395h1v1h-1zM141 395h1v1h-1zM40 396h1v1h-1zM45 396h1v1h-1zM84 396h1v1h-1zM38 397h1v1h-1zM40 397h1v1h-1zM45 397h1v1h-1zM144 397h1v1h-1zM40 398h1v1h-1zM45 398h1v1h-1zM102 398h1v1h-1zM116 398h1v1h-1zM136 398h1v1h-1zM45 399h1v1h-1zM100 399h1v1h-1zM105 399h1v1h-1zM131 399h1v1h-1zM135 399h2v1h-2zM45 400h1v1h-1zM104 400h1v1h-1zM71 401h1v1h-1zM127 401h1v1h-1zM48 402h1v1h-1zM32 403h1v1h-1zM58 403h1v1h-1zM135 403h1v1h-1zM40 404h1v1h-1zM45 404h1v1h-1zM60 404h1v1h-1zM64 404h1v1h-1zM142 404h1v1h-1zM39 405h2v1h-2zM116 405h1v1h-1zM126 405h1v1h-1zM39 406h2v1h-2zM45 406h1v1h-1zM78 406h1v1h-1zM141 406h1v1h-1zM86 407h1v1h-1zM105 407h1v1h-1zM40 408h1v1h-1zM45 409h1v1h-1zM66 410h1v1h-1zM145 410h1v1h-1zM40 411h1v1h-1zM45 411h2v1h-2zM150 411h1v1h-1zM38 412h1v1h-1zM40 412h1v1h-1zM45 412h1v1h-1zM45 413h1v1h-1zM46 414h1v1h-1zM145 414h1v1h-1zM40 415h1v1h-1zM45 415h1v1h-1zM69 415h1v1h-1zM91 415h1v1h-1zM40 416h1v1h-1zM123 416h1v1h-1zM40 417h1v1h-1zM45 417h1v1h-1zM136 417h1v1h-1zM114 418h1v1h-1zM40 419h1v1h-1zM44 419h2v1h-2zM127 419h1v1h-1zM146 419h1v1h-1zM44 420h1v1h-1zM119 420h1v1h-1zM130 420h1v1h-1zM147 420h1v1h-1zM47 421h1v1h-1zM41 422h1v1h-1zM44 422h1v1h-1zM129 422h1v1h-1zM36 423h1v1h-1zM40 423h6v1h-6zM72 423h1v1h-1zM119 423h1v1h-1zM44 424h1v1h-1zM55 424h1v1h-1zM93 424h1v1h-1zM131 424h1v1h-1zM134 424h1v1h-1zM149 424h1v1h-1zM44 425h1v1h-1zM70 425h1v1h-1zM122 425h1v1h-1zM32 426h1v1h-1zM44 426h1v1h-1zM57 426h1v1h-1zM62 426h1v1h-1zM110 426h1v1h-1zM129 426h1v1h-1zM43 427h1v1h-1zM94 427h1v1h-1zM99 427h1v1h-1zM142 427h2v1h-2zM42 428h3v1h-3zM42 429h1v1h-1zM45 429h1v1h-1zM59 429h1v1h-1zM52 430h1v1h-1zM70 430h1v1h-1zM72 431h1v1h-1zM132 431h1v1h-1zM34 432h1v1h-1zM146 432h1v1h-1zM89 433h1v1h-1zM42 434h1v1h-1zM139 434h1v1h-1zM40 437h1v1h-1zM100 437h1v1h-1zM112 437h1v1h-1zM132 437h1v1h-1zM141 437h1v1h-1zM39 438h1v1h-1zM41 439h1v1h-1zM144 440h1v1h-1zM85 441h1v1h-1zM96 441h1v1h-1zM58 442h1v1h-1zM112 442h1v1h-1zM53 443h1v1h-1zM67 443h1v1h-1zM124 443h1v1h-1zM128 445h1v1h-1zM83 447h1v1h-1zM103 447h1v1h-1zM145 447h1v1h-1zM85 448h1v1h-1zM80 449h1v1h-1zM141 449h1v1h-1zM88 450h1v1h-1zM148 450h1v1h-1zM69 451h1v1h-1zM86 451h1v1h-1zM129 451h1v1h-1zM65 452h1v1h-1zM49 453h1v1h-1zM56 455h1v1h-1zM112 456h1v1h-1zM102 457h1v1h-1zM85 458h1v1h-1zM142 458h1v1h-1zM75 461h1v1h-1zM73 462h1v1h-1zM122 462h1v1h-1zM146 462h1v1h-1zM56 463h1v1h-1zM100 463h1v1h-1zM109 463h1v1h-1zM139 463h1v1h-1zM51 464h1v1h-1zM67 464h1v1h-1zM79 464h1v1h-1zM82 464h1v1h-1zM88 464h1v1h-1zM121 464h1v1h-1zM125 464h1v1h-1zM135 464h1v1h-1zM141 464h1v1h-1zM54 465h1v1h-1zM57 465h1v1h-1zM77 465h1v1h-1zM88 465h1v1h-1zM118 465h1v1h-1zM126 465h1v1h-1zM130 465h1v1h-1zM135 465h1v1h-1zM150 465h1v1h-1zM44 466h1v1h-1zM66 466h1v1h-1zM71 466h1v1h-1zM87 466h1v1h-1zM105 466h1v1h-1zM113 466h1v1h-1zM126 466h1v1h-1zM134 466h2v1h-2zM143 466h1v1h-1zM49 467h1v1h-1zM53 467h1v1h-1zM66 467h1v1h-1zM68 467h1v1h-1zM72 467h1v1h-1zM76 467h1v1h-1zM84 467h1v1h-1zM92 467h1v1h-1zM103 467h1v1h-1zM109 467h1v1h-1zM113 467h1v1h-1zM117 467h2v1h-2zM127 467h1v1h-1zM135 467h2v1h-2zM36 468h1v1h-1zM43 468h1v1h-1zM47 468h1v1h-1zM71 468h1v1h-1zM73 468h1v1h-1zM83 468h1v1h-1zM95 468h1v1h-1zM103 468h3v1h-3zM108 468h2v1h-2zM118 468h1v1h-1zM131 468h1v1h-1zM133 468h1v1h-1zM135 468h6v1h-6zM35 469h1v1h-1zM49 469h1v1h-1zM55 469h1v1h-1zM59 469h1v1h-1zM64 469h2v1h-2zM69 469h1v1h-1zM93 469h1v1h-1zM101 469h1v1h-1zM103 469h1v1h-1zM109 469h2v1h-2zM112 469h2v1h-2zM115 469h1v1h-1zM121 469h1v1h-1zM126 469h1v1h-1zM128 469h1v1h-1zM130 469h5v1h-5zM137 469h1v1h-1zM139 469h5v1h-5zM43 470h1v1h-1zM48 470h2v1h-2zM51 470h4v1h-4zM57 470h1v1h-1zM63 470h1v1h-1zM73 470h1v1h-1zM79 470h3v1h-3zM87 470h2v1h-2zM90 470h1v1h-1zM102 470h1v1h-1zM105 470h1v1h-1zM109 470h1v1h-1zM111 470h2v1h-2zM115 470h2v1h-2zM122 470h1v1h-1zM124 470h2v1h-2zM129 470h1v1h-1zM131 470h2v1h-2zM134 470h1v1h-1zM137 470h2v1h-2zM140 470h2v1h-2zM37 471h1v1h-1zM53 471h1v1h-1zM55 471h1v1h-1zM71 471h2v1h-2zM78 471h2v1h-2zM87 471h1v1h-1zM89 471h1v1h-1zM94 471h1v1h-1zM97 471h1v1h-1zM104 471h2v1h-2zM108 471h2v1h-2zM119 471h1v1h-1zM124 471h1v1h-1zM126 471h5v1h-5zM133 471h1v1h-1zM138 471h3v1h-3zM145 471h1v1h-1zM149 471h1v1h-1zM31 472h1v1h-1zM40 472h1v1h-1zM42 472h3v1h-3zM46 472h2v1h-2zM52 472h1v1h-1zM56 472h1v1h-1zM66 472h1v1h-1zM79 472h2v1h-2zM84 472h2v1h-2zM87 472h1v1h-1zM90 472h1v1h-1zM96 472h1v1h-1zM100 472h1v1h-1zM104 472h3v1h-3zM112 472h1v1h-1zM115 472h1v1h-1zM118 472h2v1h-2zM121 472h1v1h-1zM123 472h5v1h-5zM129 472h1v1h-1zM144 472h1v1h-1zM37 473h1v1h-1zM49 473h2v1h-2zM58 473h1v1h-1zM66 473h1v1h-1zM70 473h1v1h-1zM72 473h1v1h-1zM76 473h1v1h-1zM79 473h1v1h-1zM87 473h1v1h-1zM89 473h1v1h-1zM93 473h1v1h-1zM96 473h1v1h-1zM103 473h1v1h-1zM109 473h2v1h-2zM112 473h4v1h-4zM118 473h2v1h-2zM121 473h1v1h-1zM124 473h1v1h-1zM133 473h1v1h-1zM140 473h5v1h-5zM147 473h1v1h-1zM38 474h1v1h-1zM40 474h1v1h-1zM43 474h1v1h-1zM46 474h1v1h-1zM48 474h1v1h-1zM52 474h1v1h-1zM55 474h1v1h-1zM59 474h1v1h-1zM62 474h1v1h-1zM67 474h1v1h-1zM70 474h1v1h-1zM73 474h1v1h-1zM75 474h3v1h-3zM84 474h2v1h-2zM94 474h1v1h-1zM100 474h2v1h-2zM105 474h1v1h-1zM111 474h1v1h-1zM113 474h3v1h-3zM117 474h1v1h-1zM119 474h1v1h-1zM124 474h1v1h-1zM142 474h1v1h-1zM144 474h1v1h-1zM35 475h1v1h-1zM38 475h2v1h-2zM42 475h1v1h-1zM47 475h2v1h-2zM51 475h1v1h-1zM58 475h1v1h-1zM62 475h1v1h-1zM66 475h1v1h-1zM73 475h1v1h-1zM82 475h1v1h-1zM85 475h1v1h-1zM91 475h1v1h-1zM102 475h1v1h-1zM105 475h2v1h-2zM109 475h6v1h-6zM117 475h1v1h-1zM135 475h1v1h-1zM141 475h3v1h-3zM146 475h1v1h-1zM36 476h1v1h-1zM47 476h3v1h-3zM53 476h1v1h-1zM55 476h1v1h-1zM57 476h2v1h-2zM62 476h1v1h-1zM70 476h1v1h-1zM72 476h1v1h-1zM74 476h1v1h-1zM81 476h1v1h-1zM87 476h1v1h-1zM105 476h6v1h-6zM115 476h2v1h-2zM129 476h1v1h-1zM136 476h1v1h-1zM34 477h3v1h-3zM40 477h1v1h-1zM45 477h2v1h-2zM50 477h1v1h-1zM54 477h3v1h-3zM59 477h1v1h-1zM68 477h1v1h-1zM71 477h1v1h-1zM74 477h1v1h-1zM76 477h1v1h-1zM88 477h1v1h-1zM92 477h4v1h-4zM99 477h1v1h-1zM104 477h4v1h-4zM109 477h1v1h-1zM113 477h1v1h-1zM137 477h1v1h-1zM139 477h5v1h-5zM35 478h1v1h-1zM38 478h3v1h-3zM42 478h1v1h-1zM44 478h2v1h-2zM48 478h2v1h-2zM54 478h2v1h-2zM57 478h4v1h-4zM62 478h6v1h-6zM77 478h1v1h-1zM83 478h2v1h-2zM88 478h3v1h-3zM93 478h1v1h-1zM96 478h2v1h-2zM100 478h1v1h-1zM103 478h4v1h-4zM109 478h1v1h-1zM111 478h2v1h-2zM133 478h1v1h-1zM135 478h1v1h-1zM139 478h4v1h-4zM36 479h1v1h-1zM39 479h1v1h-1zM42 479h3v1h-3zM48 479h5v1h-5zM55 479h1v1h-1zM57 479h3v1h-3zM63 479h2v1h-2zM66 479h1v1h-1zM70 479h1v1h-1zM82 479h1v1h-1zM84 479h1v1h-1zM87 479h1v1h-1zM90 479h1v1h-1zM92 479h10v1h-10zM125 479h1v1h-1zM131 479h7v1h-7zM140 479h1v1h-1zM147 479h1v1h-1zM32 480h1v1h-1zM35 480h2v1h-2zM38 480h1v1h-1zM41 480h1v1h-1zM46 480h4v1h-4zM54 480h1v1h-1zM63 480h2v1h-2zM67 480h1v1h-1zM73 480h2v1h-2zM78 480h1v1h-1zM81 480h1v1h-1zM87 480h1v1h-1zM91 480h5v1h-5zM99 480h2v1h-2zM121 480h1v1h-1zM134 480h5v1h-5zM30 481h1v1h-1zM32 481h1v1h-1zM34 481h1v1h-1zM36 481h2v1h-2zM42 481h2v1h-2zM47 481h2v1h-2zM50 481h1v1h-1zM59 481h1v1h-1zM61 481h1v1h-1zM63 481h4v1h-4zM70 481h3v1h-3zM75 481h1v1h-1zM79 481h1v1h-1zM83 481h2v1h-2zM87 481h1v1h-1zM89 481h2v1h-2zM92 481h2v1h-2zM98 481h2v1h-2zM121 481h1v1h-1zM128 481h8v1h-8zM138 481h2v1h-2zM143 481h1v1h-1zM32 482h1v1h-1zM34 482h2v1h-2zM38 482h2v1h-2zM48 482h2v1h-2zM51 482h2v1h-2zM63 482h1v1h-1zM68 482h1v1h-1zM73 482h2v1h-2zM80 482h1v1h-1zM84 482h5v1h-5zM92 482h1v1h-1zM124 482h4v1h-4zM129 482h3v1h-3zM133 482h2v1h-2zM33 483h1v1h-1zM35 483h2v1h-2zM38 483h1v1h-1zM40 483h1v1h-1zM42 483h1v1h-1zM45 483h1v1h-1zM47 483h1v1h-1zM50 483h1v1h-1zM63 483h2v1h-2zM66 483h2v1h-2zM74 483h3v1h-3zM80 483h3v1h-3zM84 483h1v1h-1zM86 483h2v1h-2zM89 483h1v1h-1zM93 483h1v1h-1zM121 483h4v1h-4zM126 483h2v1h-2zM129 483h2v1h-2zM132 483h1v1h-1zM135 483h1v1h-1zM31 484h1v1h-1zM33 484h3v1h-3zM38 484h3v1h-3zM43 484h1v1h-1zM46 484h1v1h-1zM66 484h2v1h-2zM73 484h4v1h-4zM78 484h3v1h-3zM82 484h1v1h-1zM85 484h1v1h-1zM116 484h1v1h-1zM118 484h2v1h-2zM121 484h2v1h-2zM126 484h2v1h-2zM130 484h2v1h-2zM144 484h1v1h-1zM30 485h1v1h-1zM35 485h2v1h-2zM43 485h1v1h-1zM66 485h3v1h-3zM73 485h1v1h-1zM75 485h4v1h-4zM81 485h1v1h-1zM113 485h2v1h-2zM116 485h1v1h-1zM122 485h1v1h-1zM127 485h1v1h-1zM132 485h1v1h-1zM32 486h2v1h-2zM45 486h1v1h-1zM47 486h1v1h-1zM64 486h1v1h-1zM68 486h3v1h-3zM72 486h8v1h-8zM81 486h1v1h-1zM112 486h1v1h-1zM114 486h1v1h-1zM116 486h4v1h-4zM124 486h1v1h-1zM133 486h1v1h-1zM137 486h2v1h-2zM32 487h3v1h-3zM49 487h1v1h-1zM67 487h5v1h-5zM73 487h1v1h-1zM110 487h8v1h-8zM119 487h3v1h-3zM138 487h1v1h-1zM31 488h3v1h-3zM46 488h2v1h-2zM49 488h1v1h-1zM65 488h4v1h-4zM70 488h1v1h-1zM100 488h2v1h-2zM103 488h1v1h-1zM110 488h5v1h-5zM118 488h1v1h-1zM126 488h1v1h-1zM136 488h1v1h-1zM139 488h1v1h-1zM30 489h2v1h-2zM48 489h1v1h-1zM65 489h1v1h-1zM68 489h1v1h-1zM71 489h1v1h-1zM101 489h1v1h-1zM103 489h2v1h-2zM107 489h1v1h-1zM109 489h1v1h-1zM113 489h1v1h-1zM117 489h1v1h-1zM120 489h1v1h-1zM32 490h1v1h-1zM47 490h2v1h-2zM106 490h3v1h-3zM110 490h1v1h-1zM112 490h1v1h-1zM114 490h1v1h-1zM120 490h1v1h-1zM30 491h1v1h-1zM32 491h1v1h-1zM96 491h1v1h-1zM101 491h4v1h-4zM107 491h1v1h-1zM112 491h1v1h-1zM114 491h1v1h-1zM146 491h1v1h-1zM30 492h1v1h-1zM32 492h2v1h-2zM48 492h1v1h-1zM100 492h3v1h-3zM104 492h2v1h-2zM111 492h1v1h-1zM113 492h2v1h-2zM30 493h3v1h-3zM48 493h1v1h-1zM50 493h2v1h-2zM89 493h1v1h-1zM94 493h2v1h-2zM97 493h4v1h-4zM137 493h1v1h-1zM30 494h1v1h-1zM91 494h2v1h-2zM95 494h2v1h-2zM107 494h2v1h-2zM31 495h1v1h-1zM47 495h1v1h-1zM88 495h1v1h-1zM91 495h1v1h-1zM101 495h1v1h-1zM112 495h1v1h-1zM30 496h1v1h-1zM46 496h2v1h-2zM49 496h1v1h-1zM54 496h1v1h-1zM60 496h1v1h-1zM87 496h1v1h-1zM89 496h2v1h-2zM92 496h1v1h-1zM121 496h1v1h-1zM138 496h1v1h-1zM30 497h1v1h-1zM32 497h1v1h-1zM47 497h1v1h-1zM50 497h1v1h-1zM56 497h2v1h-2zM59 497h2v1h-2zM90 497h2v1h-2zM93 497h1v1h-1zM95 497h1v1h-1zM32 498h3v1h-3zM45 498h1v1h-1zM48 498h1v1h-1zM51 498h4v1h-4zM58 498h3v1h-3zM85 498h5v1h-5zM91 498h1v1h-1zM31 499h2v1h-2zM38 499h1v1h-1zM44 499h5v1h-5zM50 499h2v1h-2zM54 499h1v1h-1zM56 499h6v1h-6zM70 499h1v1h-1zM74 499h1v1h-1zM76 499h10v1h-10zM106 499h1v1h-1zM31 500h1v1h-1zM33 500h1v1h-1zM35 500h1v1h-1zM44 500h3v1h-3zM52 500h1v1h-1zM54 500h5v1h-5zM60 500h2v1h-2zM70 500h2v1h-2zM74 500h4v1h-4zM79 500h2v1h-2zM82 500h1v1h-1zM86 500h1v1h-1zM95 500h1v1h-1zM109 500h1v1h-1zM31 501h2v1h-2zM34 501h2v1h-2zM38 501h1v1h-1zM40 501h2v1h-2zM45 501h4v1h-4zM54 501h1v1h-1zM56 501h1v1h-1zM59 501h5v1h-5zM67 501h3v1h-3zM71 501h1v1h-1zM77 501h1v1h-1zM80 501h1v1h-1zM82 501h1v1h-1zM90 501h1v1h-1z"/>
<path fill="#5cb4e6" d="M42 388h1v1h-1zM42 390h2v1h-2zM43 391h2v1h-2zM41 392h1v1h-1zM41 393h1v1h-1zM43 393h1v1h-1zM44 394h1v1h-1zM44 395h1v1h-1zM41 396h1v1h-1zM44 396h1v1h-1zM41 398h1v1h-1zM40 400h1v1h-1zM40 401h1v1h-1zM45 401h1v1h-1zM40 402h1v1h-1zM45 403h1v1h-1zM45 405h1v1h-1zM40 407h1v1h-1zM45 407h1v1h-1zM45 408h1v1h-1zM40 410h1v1h-1zM45 410h1v1h-1zM40 413h1v1h-1zM40 414h1v1h-1zM44 414h2v1h-2zM45 416h1v1h-1zM41 418h1v1h-1zM44 418h1v1h-1zM41 419h1v1h-1zM41 420h2v1h-2zM41 421h4v1h-4zM42 422h2v1h-2zM43 424h1v1h-1zM44 427h1v1h-1zM134 468h1v1h-1zM135 469h2v1h-2zM138 469h1v1h-1zM123 470h1v1h-1zM127 470h1v1h-1zM130 470h1v1h-1zM133 470h1v1h-1zM135 470h1v1h-1zM139 470h1v1h-1zM131 471h2v1h-2zM135 471h3v1h-3zM141 471h1v1h-1zM122 472h1v1h-1zM130 472h2v1h-2zM135 472h2v1h-2zM138 472h1v1h-1zM140 472h2v1h-2zM122 473h2v1h-2zM126 473h1v1h-1zM128 473h2v1h-2zM131 473h2v1h-2zM134 473h2v1h-2zM137 473h3v1h-3zM118 474h1v1h-1zM120 474h3v1h-3zM125 474h3v1h-3zM129 474h6v1h-6zM137 474h1v1h-1zM139 474h3v1h-3zM143 474h1v1h-1zM74 475h1v1h-1zM115 475h2v1h-2zM119 475h2v1h-2zM122 475h5v1h-5zM128 475h2v1h-2zM134 475h1v1h-1zM136 475h1v1h-1zM138 475h3v1h-3zM111 476h4v1h-4zM117 476h2v1h-2zM120 476h1v1h-1zM122 476h2v1h-2zM127 476h1v1h-1zM130 476h2v1h-2zM133 476h3v1h-3zM139 476h1v1h-1zM141 476h1v1h-1zM57 477h1v1h-1zM108 477h1v1h-1zM110 477h3v1h-3zM114 477h1v1h-1zM116 477h3v1h-3zM123 477h1v1h-1zM125 477h2v1h-2zM128 477h8v1h-8zM138 477h1v1h-1zM41 478h1v1h-1zM46 478h1v1h-1zM99 478h1v1h-1zM101 478h2v1h-2zM107 478h1v1h-1zM110 478h1v1h-1zM113 478h2v1h-2zM116 478h1v1h-1zM118 478h1v1h-1zM121 478h2v1h-2zM124 478h4v1h-4zM129 478h3v1h-3zM134 478h1v1h-1zM136 478h3v1h-3zM38 479h1v1h-1zM40 479h2v1h-2zM45 479h3v1h-3zM53 479h2v1h-2zM56 479h1v1h-1zM60 479h3v1h-3zM65 479h1v1h-1zM102 479h1v1h-1zM104 479h4v1h-4zM110 479h2v1h-2zM113 479h1v1h-1zM115 479h2v1h-2zM121 479h2v1h-2zM124 479h1v1h-1zM126 479h3v1h-3zM130 479h1v1h-1zM138 479h1v1h-1zM40 480h1v1h-1zM43 480h3v1h-3zM51 480h3v1h-3zM55 480h8v1h-8zM65 480h2v1h-2zM96 480h3v1h-3zM101 480h4v1h-4zM106 480h3v1h-3zM110 480h1v1h-1zM112 480h1v1h-1zM114 480h1v1h-1zM119 480h1v1h-1zM122 480h5v1h-5zM128 480h3v1h-3zM38 481h4v1h-4zM44 481h3v1h-3zM49 481h1v1h-1zM51 481h8v1h-8zM60 481h1v1h-1zM88 481h1v1h-1zM94 481h2v1h-2zM104 481h3v1h-3zM108 481h2v1h-2zM114 481h1v1h-1zM116 481h1v1h-1zM118 481h2v1h-2zM123 481h4v1h-4zM37 482h1v1h-1zM40 482h3v1h-3zM44 482h2v1h-2zM47 482h1v1h-1zM50 482h1v1h-1zM53 482h3v1h-3zM60 482h1v1h-1zM62 482h1v1h-1zM64 482h3v1h-3zM89 482h3v1h-3zM93 482h3v1h-3zM97 482h5v1h-5zM107 482h1v1h-1zM109 482h1v1h-1zM116 482h7v1h-7zM128 482h1v1h-1zM37 483h1v1h-1zM41 483h1v1h-1zM43 483h2v1h-2zM46 483h1v1h-1zM48 483h1v1h-1zM51 483h1v1h-1zM53 483h1v1h-1zM60 483h1v1h-1zM65 483h1v1h-1zM83 483h1v1h-1zM88 483h1v1h-1zM90 483h1v1h-1zM92 483h1v1h-1zM94 483h2v1h-2zM98 483h2v1h-2zM109 483h2v1h-2zM112 483h6v1h-6zM120 483h1v1h-1zM36 484h2v1h-2zM41 484h2v1h-2zM44 484h2v1h-2zM47 484h2v1h-2zM50 484h2v1h-2zM61 484h1v1h-1zM63 484h1v1h-1zM65 484h1v1h-1zM83 484h2v1h-2zM86 484h8v1h-8zM99 484h1v1h-1zM101 484h1v1h-1zM107 484h3v1h-3zM113 484h3v1h-3zM117 484h1v1h-1zM123 484h1v1h-1zM34 485h1v1h-1zM37 485h2v1h-2zM41 485h2v1h-2zM44 485h9v1h-9zM62 485h4v1h-4zM79 485h2v1h-2zM82 485h3v1h-3zM88 485h1v1h-1zM90 485h1v1h-1zM92 485h1v1h-1zM100 485h1v1h-1zM105 485h1v1h-1zM107 485h2v1h-2zM110 485h1v1h-1zM112 485h1v1h-1zM115 485h1v1h-1zM117 485h3v1h-3zM35 486h5v1h-5zM41 486h4v1h-4zM48 486h1v1h-1zM51 486h1v1h-1zM66 486h1v1h-1zM82 486h2v1h-2zM85 486h2v1h-2zM100 486h1v1h-1zM104 486h1v1h-1zM107 486h5v1h-5zM113 486h1v1h-1zM35 487h2v1h-2zM43 487h3v1h-3zM47 487h2v1h-2zM50 487h1v1h-1zM52 487h1v1h-1zM62 487h5v1h-5zM72 487h1v1h-1zM75 487h2v1h-2zM78 487h2v1h-2zM82 487h1v1h-1zM91 487h1v1h-1zM97 487h1v1h-1zM101 487h1v1h-1zM104 487h6v1h-6zM34 488h2v1h-2zM48 488h1v1h-1zM51 488h1v1h-1zM62 488h3v1h-3zM71 488h6v1h-6zM80 488h1v1h-1zM86 488h1v1h-1zM98 488h2v1h-2zM102 488h1v1h-1zM104 488h1v1h-1zM106 488h2v1h-2zM109 488h1v1h-1zM32 489h3v1h-3zM46 489h2v1h-2zM50 489h1v1h-1zM64 489h1v1h-1zM66 489h2v1h-2zM69 489h2v1h-2zM75 489h1v1h-1zM80 489h1v1h-1zM83 489h1v1h-1zM94 489h1v1h-1zM97 489h4v1h-4zM102 489h1v1h-1zM33 490h1v1h-1zM49 490h2v1h-2zM63 490h4v1h-4zM71 490h2v1h-2zM74 490h2v1h-2zM83 490h1v1h-1zM92 490h3v1h-3zM96 490h6v1h-6zM33 491h1v1h-1zM51 491h1v1h-1zM62 491h1v1h-1zM64 491h2v1h-2zM67 491h1v1h-1zM71 491h1v1h-1zM86 491h1v1h-1zM89 491h7v1h-7zM97 491h3v1h-3zM31 492h1v1h-1zM45 492h1v1h-1zM47 492h1v1h-1zM49 492h3v1h-3zM64 492h1v1h-1zM66 492h1v1h-1zM85 492h2v1h-2zM89 492h2v1h-2zM92 492h2v1h-2zM95 492h4v1h-4zM34 493h1v1h-1zM49 493h1v1h-1zM60 493h1v1h-1zM71 493h1v1h-1zM85 493h3v1h-3zM90 493h4v1h-4zM96 493h1v1h-1zM31 494h1v1h-1zM46 494h1v1h-1zM48 494h2v1h-2zM60 494h4v1h-4zM87 494h1v1h-1zM89 494h2v1h-2zM94 494h1v1h-1zM32 495h2v1h-2zM46 495h1v1h-1zM49 495h4v1h-4zM54 495h9v1h-9zM89 495h2v1h-2zM31 496h4v1h-4zM48 496h1v1h-1zM50 496h4v1h-4zM57 496h3v1h-3zM61 496h2v1h-2zM88 496h1v1h-1zM31 497h1v1h-1zM33 497h3v1h-3zM44 497h1v1h-1zM46 497h1v1h-1zM48 497h2v1h-2zM51 497h5v1h-5zM58 497h1v1h-1zM61 497h1v1h-1zM63 497h1v1h-1zM86 497h3v1h-3zM43 498h2v1h-2zM46 498h1v1h-1zM49 498h2v1h-2zM56 498h2v1h-2zM61 498h1v1h-1zM63 498h2v1h-2zM70 498h1v1h-1zM72 498h2v1h-2zM75 498h1v1h-1zM81 498h4v1h-4zM33 499h4v1h-4zM41 499h1v1h-1zM43 499h1v1h-1zM53 499h1v1h-1zM62 499h3v1h-3zM68 499h2v1h-2zM71 499h3v1h-3zM75 499h1v1h-1zM34 500h1v1h-1zM36 500h2v1h-2zM40 500h4v1h-4zM47 500h1v1h-1zM62 500h8v1h-8zM36 501h2v1h-2zM39 501h1v1h-1zM42 501h1v1h-1zM44 501h1v1h-1zM64 501h3v1h-3zM70 501h1v1h-1z"/>
<path fill="#48cad4" d="M42 393h1v1h-1zM42 394h1v1h-1zM42 395h2v1h-2zM42 396h1v1h-1zM41 397h1v1h-1zM44 397h1v1h-1zM44 398h1v1h-1zM41 400h1v1h-1zM44 400h1v1h-1zM41 401h1v1h-1zM44 401h1v1h-1zM41 402h1v1h-1zM44 402h1v1h-1zM40 403h1v1h-1zM41 404h1v1h-1zM41 413h1v1h-1zM41 414h1v1h-1zM41 416h1v1h-1zM44 416h1v1h-1zM41 417h1v1h-1zM43 417h2v1h-2zM42 418h2v1h-2zM42 419h2v1h-2zM42 424h1v1h-1zM134 471h1v1h-1zM132 472h3v1h-3zM123 474h1v1h-1zM128 474h1v1h-1zM135 474h2v1h-2zM118 475h1v1h-1zM121 475h1v1h-1zM130 475h2v1h-2zM133 475h1v1h-1zM137 475h1v1h-1zM119 476h1v1h-1zM121 476h1v1h-1zM124 476h2v1h-2zM132 476h1v1h-1zM137 476h1v1h-1zM115 477h1v1h-1zM119 477h2v1h-2zM122 477h1v1h-1zM124 477h1v1h-1zM127 477h1v1h-1zM119 478h2v1h-2zM123 478h1v1h-1zM128 478h1v1h-1zM132 478h1v1h-1zM108 479h2v1h-2zM112 479h1v1h-1zM114 479h1v1h-1zM117 479h4v1h-4zM123 479h1v1h-1zM50 480h1v1h-1zM109 480h1v1h-1zM111 480h1v1h-1zM113 480h1v1h-1zM115 480h4v1h-4zM62 481h1v1h-1zM100 481h3v1h-3zM107 481h1v1h-1zM110 481h4v1h-4zM115 481h1v1h-1zM117 481h1v1h-1zM120 481h1v1h-1zM122 481h1v1h-1zM56 482h4v1h-4zM61 482h1v1h-1zM96 482h1v1h-1zM102 482h3v1h-3zM106 482h1v1h-1zM108 482h1v1h-1zM110 482h6v1h-6zM52 483h1v1h-1zM54 483h1v1h-1zM56 483h3v1h-3zM61 483h2v1h-2zM91 483h1v1h-1zM96 483h2v1h-2zM101 483h3v1h-3zM105 483h4v1h-4zM111 483h1v1h-1zM119 483h1v1h-1zM49 484h1v1h-1zM52 484h3v1h-3zM58 484h1v1h-1zM60 484h1v1h-1zM62 484h1v1h-1zM64 484h1v1h-1zM94 484h4v1h-4zM100 484h1v1h-1zM103 484h1v1h-1zM105 484h1v1h-1zM110 484h3v1h-3zM39 485h2v1h-2zM60 485h2v1h-2zM85 485h3v1h-3zM89 485h1v1h-1zM93 485h4v1h-4zM98 485h2v1h-2zM101 485h4v1h-4zM106 485h1v1h-1zM111 485h1v1h-1zM40 486h1v1h-1zM46 486h1v1h-1zM52 486h1v1h-1zM61 486h3v1h-3zM84 486h1v1h-1zM87 486h13v1h-13zM101 486h3v1h-3zM105 486h1v1h-1zM37 487h5v1h-5zM46 487h1v1h-1zM51 487h1v1h-1zM81 487h1v1h-1zM83 487h4v1h-4zM88 487h3v1h-3zM95 487h1v1h-1zM98 487h3v1h-3zM102 487h2v1h-2zM36 488h2v1h-2zM43 488h2v1h-2zM50 488h1v1h-1zM53 488h1v1h-1zM55 488h1v1h-1zM61 488h1v1h-1zM78 488h2v1h-2zM81 488h4v1h-4zM87 488h1v1h-1zM89 488h9v1h-9zM35 489h4v1h-4zM42 489h4v1h-4zM51 489h2v1h-2zM59 489h1v1h-1zM61 489h3v1h-3zM72 489h3v1h-3zM76 489h3v1h-3zM82 489h1v1h-1zM84 489h4v1h-4zM89 489h5v1h-5zM95 489h2v1h-2zM34 490h3v1h-3zM43 490h3v1h-3zM51 490h3v1h-3zM61 490h1v1h-1zM67 490h2v1h-2zM70 490h1v1h-1zM73 490h1v1h-1zM76 490h4v1h-4zM81 490h2v1h-2zM84 490h4v1h-4zM89 490h3v1h-3zM95 490h1v1h-1zM34 491h2v1h-2zM44 491h3v1h-3zM50 491h1v1h-1zM52 491h1v1h-1zM59 491h1v1h-1zM61 491h1v1h-1zM63 491h1v1h-1zM66 491h1v1h-1zM69 491h2v1h-2zM72 491h1v1h-1zM74 491h1v1h-1zM76 491h1v1h-1zM78 491h4v1h-4zM83 491h3v1h-3zM87 491h2v1h-2zM34 492h1v1h-1zM43 492h2v1h-2zM46 492h1v1h-1zM52 492h1v1h-1zM60 492h4v1h-4zM65 492h1v1h-1zM69 492h1v1h-1zM71 492h3v1h-3zM75 492h6v1h-6zM82 492h2v1h-2zM87 492h1v1h-1zM35 493h1v1h-1zM43 493h5v1h-5zM52 493h1v1h-1zM54 493h1v1h-1zM57 493h1v1h-1zM61 493h8v1h-8zM70 493h1v1h-1zM72 493h3v1h-3zM82 493h2v1h-2zM88 493h1v1h-1zM32 494h3v1h-3zM43 494h3v1h-3zM47 494h1v1h-1zM50 494h2v1h-2zM53 494h5v1h-5zM67 494h4v1h-4zM84 494h2v1h-2zM88 494h1v1h-1zM34 495h3v1h-3zM38 495h1v1h-1zM44 495h2v1h-2zM53 495h1v1h-1zM63 495h1v1h-1zM67 495h1v1h-1zM84 495h1v1h-1zM86 495h2v1h-2zM35 496h3v1h-3zM39 496h1v1h-1zM42 496h1v1h-1zM44 496h2v1h-2zM55 496h2v1h-2zM64 496h1v1h-1zM66 496h1v1h-1zM68 496h1v1h-1zM70 496h2v1h-2zM84 496h3v1h-3zM37 497h1v1h-1zM42 497h2v1h-2zM45 497h1v1h-1zM62 497h1v1h-1zM64 497h4v1h-4zM69 497h5v1h-5zM77 497h1v1h-1zM82 497h4v1h-4zM35 498h6v1h-6zM62 498h1v1h-1zM66 498h1v1h-1zM68 498h2v1h-2zM74 498h1v1h-1zM76 498h1v1h-1zM78 498h3v1h-3zM37 499h1v1h-1zM40 499h1v1h-1zM42 499h1v1h-1zM65 499h2v1h-2zM39 500h1v1h-1z"/>
<path fill="#58d274" d="M43 396h1v1h-1zM43 397h1v1h-1zM44 399h1v1h-1zM42 400h1v1h-1zM41 403h1v1h-1zM44 403h1v1h-1zM44 404h1v1h-1zM41 405h1v1h-1zM44 405h1v1h-1zM44 406h1v1h-1zM41 407h1v1h-1zM44 407h1v1h-1zM41 408h1v1h-1zM44 408h1v1h-1zM41 409h1v1h-1zM44 409h1v1h-1zM41 410h1v1h-1zM44 410h1v1h-1zM41 411h1v1h-1zM44 411h1v1h-1zM41 412h1v1h-1zM44 412h1v1h-1zM43 413h2v1h-2zM41 415h1v1h-1zM44 415h1v1h-1zM42 416h1v1h-1zM42 417h1v1h-1zM55 483h1v1h-1zM55 484h2v1h-2zM59 484h1v1h-1zM104 484h1v1h-1zM53 485h7v1h-7zM91 485h1v1h-1zM54 486h2v1h-2zM57 486h1v1h-1zM59 486h2v1h-2zM53 487h3v1h-3zM61 487h1v1h-1zM87 487h1v1h-1zM93 487h2v1h-2zM39 488h1v1h-1zM41 488h2v1h-2zM52 488h1v1h-1zM54 488h1v1h-1zM56 488h1v1h-1zM58 488h1v1h-1zM77 488h1v1h-1zM88 488h1v1h-1zM40 489h2v1h-2zM53 489h2v1h-2zM56 489h3v1h-3zM60 489h1v1h-1zM79 489h1v1h-1zM88 489h1v1h-1zM37 490h2v1h-2zM54 490h2v1h-2zM57 490h4v1h-4zM62 490h1v1h-1zM80 490h1v1h-1zM88 490h1v1h-1zM37 491h2v1h-2zM40 491h2v1h-2zM43 491h1v1h-1zM53 491h6v1h-6zM60 491h1v1h-1zM75 491h1v1h-1zM77 491h1v1h-1zM35 492h1v1h-1zM37 492h1v1h-1zM42 492h1v1h-1zM53 492h1v1h-1zM56 492h4v1h-4zM67 492h2v1h-2zM70 492h1v1h-1zM74 492h1v1h-1zM81 492h1v1h-1zM88 492h1v1h-1zM36 493h2v1h-2zM41 493h2v1h-2zM53 493h1v1h-1zM55 493h2v1h-2zM58 493h1v1h-1zM69 493h1v1h-1zM75 493h7v1h-7zM36 494h2v1h-2zM39 494h4v1h-4zM58 494h2v1h-2zM64 494h1v1h-1zM71 494h2v1h-2zM82 494h1v1h-1zM39 495h5v1h-5zM64 495h1v1h-1zM66 495h1v1h-1zM68 495h5v1h-5zM76 495h1v1h-1zM83 495h1v1h-1zM85 495h1v1h-1zM38 496h1v1h-1zM41 496h1v1h-1zM43 496h1v1h-1zM65 496h1v1h-1zM67 496h1v1h-1zM69 496h1v1h-1zM72 496h3v1h-3zM80 496h1v1h-1zM83 496h1v1h-1zM36 497h1v1h-1zM38 497h4v1h-4zM68 497h1v1h-1zM74 497h2v1h-2zM78 497h1v1h-1zM80 497h1v1h-1zM67 498h1v1h-1z"/>
<path fill="#b0dc48" d="M42 397h1v1h-1zM42 398h2v1h-2zM42 399h2v1h-2zM42 401h2v1h-2zM42 409h2v1h-2zM43 411h1v1h-1zM42 413h1v1h-1zM42 414h1v1h-1zM42 415h2v1h-2zM43 416h1v1h-1zM53 486h1v1h-1zM56 487h4v1h-4zM57 488h1v1h-1zM59 488h2v1h-2zM39 490h2v1h-2zM56 490h1v1h-1zM36 491h1v1h-1zM39 491h1v1h-1zM38 492h4v1h-4zM38 493h3v1h-3zM38 494h1v1h-1zM73 494h9v1h-9zM37 495h1v1h-1zM73 495h3v1h-3zM77 495h1v1h-1zM79 495h1v1h-1zM81 495h2v1h-2zM40 496h1v1h-1zM77 496h3v1h-3zM81 496h2v1h-2zM76 497h1v1h-1zM79 497h1v1h-1z"/>
<path fill="#eadc38" d="M43 400h1v1h-1zM42 402h2v1h-2zM42 403h2v1h-2zM42 404h2v1h-2zM42 405h2v1h-2zM42 406h2v1h-2zM42 407h2v1h-2zM42 408h2v1h-2zM42 410h2v1h-2zM42 411h1v1h-1zM42 412h2v1h-2zM55 489h1v1h-1zM78 495h1v1h-1zM75 496h2v1h-2z"/>
</g>
<path d="M29.3 380.8 H152 V502.6" stroke="#222" stroke-width="1.3" fill="none"/>
<path d="M29.3 380.2 V503.6 H152.6" stroke="#000" stroke-width="2" fill="none"/>
<path d="M25.3 502.8 H29.3 M27.3 498.1 H29.3 M27.3 493.5 H29.3 M27.3 488.8 H29.3 M27.3 484.2 H29.3 M25.3 479.5 H29.3 M27.3 474.8 H29.3 M27.3 470.2 H29.3 M27.3 465.5 H29.3 M27.3 460.9 H29.3 M25.3 456.2 H29.3 M27.3 451.5 H29.3 M27.3 446.9 H29.3 M27.3 442.2 H29.3 M27.3 437.6 H29.3 M25.3 432.9 H29.3 M27.3 428.2 H29.3 M27.3 423.6 H29.3 M27.3 418.9 H29.3 M27.3 414.3 H29.3 M25.3 409.6 H29.3 M27.3 404.9 H29.3 M27.3 400.3 H29.3 M27.3 395.6 H29.3 M27.3 391.0 H29.3 M25.3 386.3 H29.3 M29.3 502.6 V507.1 M34.0 502.6 V505.1 M38.8 502.6 V505.1 M43.5 502.6 V505.1 M48.2 502.6 V505.1 M52.9 502.6 V507.1 M57.7 502.6 V505.1 M62.4 502.6 V505.1 M67.1 502.6 V505.1 M71.9 502.6 V505.1 M76.6 502.6 V507.1 M81.3 502.6 V505.1 M86.0 502.6 V505.1 M90.8 502.6 V505.1 M95.5 502.6 V505.1 M100.2 502.6 V507.1 M104.9 502.6 V505.1 M109.7 502.6 V505.1 M114.4 502.6 V505.1 M119.1 502.6 V505.1 M123.9 502.6 V507.1 M128.6 502.6 V505.1 M133.3 502.6 V505.1 M138.0 502.6 V505.1 M142.8 502.6 V505.1 M147.5 502.6 V507.1" stroke="#000" stroke-width="1.3" fill="none"/>
<text x="24.3" y="388.3" font-family="'Liberation Sans', sans-serif" font-size="5.7" font-weight="bold" class="b2" text-anchor="end">250K</text>
<text x="24.3" y="411.6" font-family="'Liberation Sans', sans-serif" font-size="5.7" font-weight="bold" class="b2" text-anchor="end">200K</text>
<text x="24.3" y="434.9" font-family="'Liberation Sans', sans-serif" font-size="5.7" font-weight="bold" class="b2" text-anchor="end">150K</text>
<text x="24.3" y="458.2" font-family="'Liberation Sans', sans-serif" font-size="5.7" font-weight="bold" class="b2" text-anchor="end">100K</text>
<text x="24.3" y="481.5" font-family="'Liberation Sans', sans-serif" font-size="5.7" font-weight="bold" class="b2" text-anchor="end">50K</text>
<text x="24.3" y="504.8" font-family="'Liberation Sans', sans-serif" font-size="5.7" font-weight="bold" class="b2" text-anchor="end">0</text>
<text x="29.3" y="515.2" font-family="'Liberation Sans', sans-serif" font-size="5.7" font-weight="bold" class="b2" text-anchor="middle">0</text>
<text x="52.9" y="515.2" font-family="'Liberation Sans', sans-serif" font-size="5.7" font-weight="bold" class="b2" text-anchor="middle">50K</text>
<text x="76.6" y="515.2" font-family="'Liberation Sans', sans-serif" font-size="5.7" font-weight="bold" class="b2" text-anchor="middle">100K</text>
<text x="100.2" y="515.2" font-family="'Liberation Sans', sans-serif" font-size="5.7" font-weight="bold" class="b2" text-anchor="middle">150K</text>
<text x="123.9" y="515.2" font-family="'Liberation Sans', sans-serif" font-size="5.7" font-weight="bold" class="b2" text-anchor="middle">200K</text>
<text x="147.5" y="515.2" font-family="'Liberation Sans', sans-serif" font-size="5.7" font-weight="bold" class="b2" text-anchor="middle">250K</text>
<path fill="#5a6498" fill-opacity="0.42" d="M225 381h1v1h-1zM233 381h1v1h-1zM243 381h1v1h-1zM253 381h1v1h-1zM267 381h1v1h-1zM271 381h3v1h-3zM275 381h1v1h-1zM284 381h1v1h-1zM296 381h2v1h-2zM301 381h1v1h-1zM192 382h2v1h-2zM195 382h1v1h-1zM216 382h1v1h-1zM230 382h1v1h-1zM251 382h1v1h-1zM265 382h1v1h-1zM272 382h3v1h-3zM284 382h1v1h-1zM286 382h1v1h-1zM293 382h1v1h-1zM301 382h1v1h-1zM191 383h1v1h-1zM231 383h1v1h-1zM234 383h1v1h-1zM236 383h1v1h-1zM251 383h1v1h-1zM272 383h1v1h-1zM274 383h1v1h-1zM278 383h1v1h-1zM280 383h1v1h-1zM286 383h1v1h-1zM290 383h1v1h-1zM299 383h1v1h-1zM182 384h1v1h-1zM216 384h1v1h-1zM235 384h1v1h-1zM242 384h1v1h-1zM245 384h1v1h-1zM257 384h2v1h-2zM262 384h3v1h-3zM267 384h1v1h-1zM271 384h3v1h-3zM277 384h1v1h-1zM284 384h1v1h-1zM288 384h1v1h-1zM290 384h2v1h-2zM294 384h1v1h-1zM297 384h1v1h-1zM195 385h1v1h-1zM229 385h1v1h-1zM249 385h3v1h-3zM253 385h1v1h-1zM269 385h1v1h-1zM271 385h1v1h-1zM276 385h1v1h-1zM279 385h1v1h-1zM287 385h1v1h-1zM289 385h1v1h-1zM291 385h1v1h-1zM295 385h2v1h-2zM299 385h1v1h-1zM193 386h1v1h-1zM204 386h1v1h-1zM210 386h1v1h-1zM212 386h1v1h-1zM220 386h1v1h-1zM249 386h1v1h-1zM252 386h1v1h-1zM261 386h1v1h-1zM270 386h1v1h-1zM273 386h1v1h-1zM283 386h2v1h-2zM288 386h1v1h-1zM290 386h1v1h-1zM293 386h1v1h-1zM296 386h1v1h-1zM301 386h1v1h-1zM207 387h1v1h-1zM213 387h1v1h-1zM223 387h1v1h-1zM229 387h1v1h-1zM237 387h1v1h-1zM239 387h1v1h-1zM253 387h1v1h-1zM255 387h3v1h-3zM264 387h1v1h-1zM266 387h1v1h-1zM270 387h2v1h-2zM277 387h1v1h-1zM280 387h1v1h-1zM289 387h1v1h-1zM291 387h1v1h-1zM297 387h1v1h-1zM190 388h1v1h-1zM200 388h1v1h-1zM223 388h1v1h-1zM238 388h1v1h-1zM248 388h1v1h-1zM258 388h1v1h-1zM267 388h1v1h-1zM272 388h1v1h-1zM275 388h1v1h-1zM277 388h1v1h-1zM279 388h1v1h-1zM282 388h1v1h-1zM285 388h2v1h-2zM290 388h1v1h-1zM293 388h1v1h-1zM188 389h1v1h-1zM194 389h1v1h-1zM217 389h1v1h-1zM249 389h1v1h-1zM261 389h1v1h-1zM270 389h2v1h-2zM273 389h2v1h-2zM276 389h1v1h-1zM281 389h3v1h-3zM227 390h1v1h-1zM237 390h2v1h-2zM259 390h1v1h-1zM264 390h1v1h-1zM270 390h1v1h-1zM277 390h3v1h-3zM291 390h1v1h-1zM296 390h1v1h-1zM242 391h1v1h-1zM246 391h1v1h-1zM250 391h1v1h-1zM256 391h1v1h-1zM261 391h1v1h-1zM276 391h1v1h-1zM285 391h3v1h-3zM289 391h1v1h-1zM298 391h1v1h-1zM184 392h1v1h-1zM223 392h1v1h-1zM228 392h1v1h-1zM246 392h1v1h-1zM260 392h1v1h-1zM265 392h1v1h-1zM273 392h1v1h-1zM276 392h3v1h-3zM286 392h2v1h-2zM294 392h1v1h-1zM297 392h1v1h-1zM211 393h1v1h-1zM244 393h1v1h-1zM263 393h1v1h-1zM267 393h1v1h-1zM278 393h1v1h-1zM280 393h1v1h-1zM282 393h1v1h-1zM289 393h1v1h-1zM291 393h1v1h-1zM297 393h1v1h-1zM301 393h1v1h-1zM217 394h1v1h-1zM251 394h2v1h-2zM262 394h1v1h-1zM272 394h1v1h-1zM276 394h1v1h-1zM280 394h1v1h-1zM282 394h2v1h-2zM285 394h1v1h-1zM298 394h2v1h-2zM192 395h1v1h-1zM229 395h1v1h-1zM241 395h1v1h-1zM253 395h1v1h-1zM255 395h1v1h-1zM266 395h1v1h-1zM268 395h1v1h-1zM271 395h1v1h-1zM274 395h1v1h-1zM283 395h1v1h-1zM285 395h1v1h-1zM290 395h1v1h-1zM297 395h1v1h-1zM224 396h1v1h-1zM245 396h1v1h-1zM253 396h1v1h-1zM265 396h1v1h-1zM268 396h1v1h-1zM270 396h1v1h-1zM274 396h1v1h-1zM276 396h1v1h-1zM278 396h1v1h-1zM284 396h1v1h-1zM286 396h1v1h-1zM288 396h2v1h-2zM291 396h1v1h-1zM241 397h4v1h-4zM256 397h1v1h-1zM265 397h1v1h-1zM276 397h1v1h-1zM278 397h1v1h-1zM280 397h1v1h-1zM286 397h1v1h-1zM295 397h3v1h-3zM300 397h2v1h-2zM225 398h2v1h-2zM239 398h2v1h-2zM242 398h2v1h-2zM246 398h1v1h-1zM249 398h1v1h-1zM259 398h1v1h-1zM261 398h2v1h-2zM266 398h2v1h-2zM273 398h1v1h-1zM279 398h2v1h-2zM285 398h3v1h-3zM290 398h1v1h-1zM294 398h1v1h-1zM208 399h1v1h-1zM258 399h1v1h-1zM264 399h1v1h-1zM267 399h1v1h-1zM272 399h2v1h-2zM277 399h1v1h-1zM284 399h1v1h-1zM287 399h2v1h-2zM290 399h2v1h-2zM296 399h1v1h-1zM299 399h2v1h-2zM201 400h1v1h-1zM221 400h1v1h-1zM235 400h1v1h-1zM249 400h1v1h-1zM257 400h1v1h-1zM259 400h1v1h-1zM266 400h1v1h-1zM269 400h1v1h-1zM271 400h1v1h-1zM275 400h1v1h-1zM277 400h2v1h-2zM284 400h1v1h-1zM286 400h1v1h-1zM288 400h1v1h-1zM296 400h2v1h-2zM218 401h1v1h-1zM235 401h1v1h-1zM261 401h1v1h-1zM263 401h2v1h-2zM271 401h1v1h-1zM273 401h1v1h-1zM276 401h1v1h-1zM283 401h2v1h-2zM298 401h2v1h-2zM301 401h1v1h-1zM190 402h1v1h-1zM192 402h1v1h-1zM200 402h1v1h-1zM224 402h1v1h-1zM244 402h1v1h-1zM253 402h1v1h-1zM256 402h1v1h-1zM261 402h1v1h-1zM263 402h1v1h-1zM270 402h1v1h-1zM278 402h1v1h-1zM285 402h1v1h-1zM291 402h1v1h-1zM296 402h1v1h-1zM299 402h1v1h-1zM207 403h1v1h-1zM223 403h2v1h-2zM232 403h2v1h-2zM252 403h1v1h-1zM255 403h1v1h-1zM257 403h1v1h-1zM260 403h1v1h-1zM264 403h1v1h-1zM268 403h2v1h-2zM272 403h1v1h-1zM277 403h1v1h-1zM283 403h3v1h-3zM291 403h1v1h-1zM293 403h2v1h-2zM296 403h1v1h-1zM298 403h1v1h-1zM211 404h1v1h-1zM217 404h1v1h-1zM234 404h1v1h-1zM239 404h1v1h-1zM251 404h1v1h-1zM260 404h1v1h-1zM262 404h1v1h-1zM264 404h1v1h-1zM286 404h1v1h-1zM290 404h2v1h-2zM301 404h1v1h-1zM207 405h1v1h-1zM211 405h1v1h-1zM229 405h1v1h-1zM233 405h1v1h-1zM237 405h1v1h-1zM246 405h2v1h-2zM250 405h1v1h-1zM254 405h1v1h-1zM256 405h1v1h-1zM259 405h2v1h-2zM265 405h1v1h-1zM274 405h2v1h-2zM277 405h1v1h-1zM284 405h1v1h-1zM290 405h1v1h-1zM293 405h2v1h-2zM296 405h1v1h-1zM298 405h1v1h-1zM190 406h1v1h-1zM224 406h1v1h-1zM232 406h1v1h-1zM252 406h1v1h-1zM260 406h3v1h-3zM266 406h2v1h-2zM269 406h2v1h-2zM275 406h1v1h-1zM283 406h2v1h-2zM293 406h2v1h-2zM301 406h1v1h-1zM223 407h1v1h-1zM229 407h1v1h-1zM235 407h1v1h-1zM237 407h1v1h-1zM243 407h1v1h-1zM249 407h2v1h-2zM252 407h1v1h-1zM257 407h3v1h-3zM274 407h1v1h-1zM276 407h1v1h-1zM278 407h1v1h-1zM288 407h1v1h-1zM294 407h1v1h-1zM300 407h1v1h-1zM199 408h1v1h-1zM204 408h1v1h-1zM213 408h1v1h-1zM224 408h1v1h-1zM230 408h1v1h-1zM235 408h1v1h-1zM239 408h1v1h-1zM245 408h1v1h-1zM250 408h1v1h-1zM254 408h1v1h-1zM256 408h1v1h-1zM258 408h2v1h-2zM261 408h1v1h-1zM263 408h1v1h-1zM267 408h1v1h-1zM274 408h1v1h-1zM276 408h1v1h-1zM279 408h1v1h-1zM283 408h2v1h-2zM291 408h3v1h-3zM205 409h1v1h-1zM210 409h1v1h-1zM217 409h1v1h-1zM226 409h1v1h-1zM229 409h1v1h-1zM237 409h1v1h-1zM240 409h1v1h-1zM245 409h1v1h-1zM249 409h1v1h-1zM255 409h1v1h-1zM259 409h1v1h-1zM267 409h1v1h-1zM272 409h4v1h-4zM281 409h2v1h-2zM284 409h3v1h-3zM294 409h1v1h-1zM300 409h1v1h-1zM216 410h1v1h-1zM219 410h1v1h-1zM226 410h1v1h-1zM232 410h1v1h-1zM238 410h1v1h-1zM244 410h1v1h-1zM250 410h1v1h-1zM269 410h1v1h-1zM273 410h2v1h-2zM277 410h1v1h-1zM279 410h1v1h-1zM284 410h3v1h-3zM297 410h1v1h-1zM301 410h1v1h-1zM191 411h1v1h-1zM208 411h1v1h-1zM217 411h1v1h-1zM226 411h1v1h-1zM228 411h1v1h-1zM231 411h1v1h-1zM245 411h1v1h-1zM255 411h2v1h-2zM263 411h1v1h-1zM270 411h1v1h-1zM284 411h1v1h-1zM288 411h1v1h-1zM292 411h1v1h-1zM295 411h1v1h-1zM192 412h2v1h-2zM199 412h1v1h-1zM222 412h1v1h-1zM240 412h1v1h-1zM243 412h3v1h-3zM250 412h2v1h-2zM254 412h1v1h-1zM256 412h1v1h-1zM264 412h1v1h-1zM269 412h2v1h-2zM272 412h1v1h-1zM278 412h1v1h-1zM280 412h1v1h-1zM283 412h1v1h-1zM290 412h1v1h-1zM292 412h1v1h-1zM295 412h1v1h-1zM192 413h1v1h-1zM197 413h1v1h-1zM210 413h1v1h-1zM226 413h1v1h-1zM229 413h1v1h-1zM244 413h1v1h-1zM248 413h1v1h-1zM251 413h1v1h-1zM253 413h1v1h-1zM255 413h1v1h-1zM257 413h2v1h-2zM262 413h2v1h-2zM271 413h1v1h-1zM273 413h2v1h-2zM277 413h1v1h-1zM280 413h1v1h-1zM292 413h1v1h-1zM296 413h1v1h-1zM299 413h1v1h-1zM238 414h1v1h-1zM241 414h2v1h-2zM252 414h1v1h-1zM256 414h2v1h-2zM260 414h1v1h-1zM267 414h1v1h-1zM269 414h1v1h-1zM271 414h1v1h-1zM277 414h1v1h-1zM280 414h1v1h-1zM287 414h1v1h-1zM216 415h1v1h-1zM218 415h1v1h-1zM228 415h1v1h-1zM240 415h1v1h-1zM243 415h2v1h-2zM247 415h1v1h-1zM258 415h1v1h-1zM260 415h1v1h-1zM281 415h2v1h-2zM285 415h1v1h-1zM199 416h1v1h-1zM219 416h1v1h-1zM243 416h1v1h-1zM251 416h1v1h-1zM257 416h2v1h-2zM260 416h2v1h-2zM264 416h2v1h-2zM267 416h1v1h-1zM280 416h1v1h-1zM282 416h2v1h-2zM288 416h1v1h-1zM292 416h1v1h-1zM187 417h1v1h-1zM206 417h1v1h-1zM210 417h1v1h-1zM213 417h1v1h-1zM227 417h1v1h-1zM235 417h1v1h-1zM241 417h1v1h-1zM244 417h1v1h-1zM247 417h2v1h-2zM252 417h1v1h-1zM257 417h1v1h-1zM260 417h1v1h-1zM266 417h1v1h-1zM269 417h1v1h-1zM273 417h1v1h-1zM275 417h1v1h-1zM277 417h1v1h-1zM292 417h1v1h-1zM185 418h1v1h-1zM214 418h1v1h-1zM230 418h1v1h-1zM239 418h2v1h-2zM243 418h2v1h-2zM249 418h1v1h-1zM255 418h1v1h-1zM258 418h1v1h-1zM263 418h1v1h-1zM267 418h1v1h-1zM273 418h3v1h-3zM277 418h1v1h-1zM287 418h1v1h-1zM292 418h1v1h-1zM295 418h1v1h-1zM225 419h1v1h-1zM237 419h1v1h-1zM244 419h1v1h-1zM248 419h2v1h-2zM257 419h2v1h-2zM263 419h2v1h-2zM269 419h2v1h-2zM274 419h2v1h-2zM277 419h3v1h-3zM285 419h1v1h-1zM299 419h1v1h-1zM199 420h1v1h-1zM201 420h1v1h-1zM206 420h2v1h-2zM248 420h2v1h-2zM251 420h1v1h-1zM253 420h1v1h-1zM256 420h1v1h-1zM261 420h7v1h-7zM270 420h1v1h-1zM275 420h1v1h-1zM213 421h1v1h-1zM232 421h1v1h-1zM248 421h1v1h-1zM256 421h2v1h-2zM273 421h1v1h-1zM281 421h1v1h-1zM289 421h1v1h-1zM292 421h1v1h-1zM294 421h1v1h-1zM186 422h1v1h-1zM189 422h1v1h-1zM194 422h1v1h-1zM200 422h1v1h-1zM217 422h3v1h-3zM229 422h1v1h-1zM233 422h1v1h-1zM235 422h1v1h-1zM237 422h1v1h-1zM248 422h1v1h-1zM254 422h1v1h-1zM257 422h1v1h-1zM260 422h3v1h-3zM268 422h1v1h-1zM271 422h1v1h-1zM279 422h1v1h-1zM288 422h1v1h-1zM301 422h1v1h-1zM185 423h1v1h-1zM187 423h1v1h-1zM194 423h1v1h-1zM196 423h1v1h-1zM209 423h1v1h-1zM220 423h1v1h-1zM225 423h1v1h-1zM227 423h1v1h-1zM236 423h1v1h-1zM240 423h2v1h-2zM245 423h1v1h-1zM247 423h1v1h-1zM252 423h2v1h-2zM255 423h1v1h-1zM261 423h1v1h-1zM267 423h1v1h-1zM270 423h1v1h-1zM274 423h2v1h-2zM285 423h2v1h-2zM289 423h1v1h-1zM193 424h1v1h-1zM206 424h1v1h-1zM208 424h1v1h-1zM211 424h1v1h-1zM219 424h1v1h-1zM225 424h1v1h-1zM229 424h4v1h-4zM241 424h1v1h-1zM246 424h1v1h-1zM259 424h1v1h-1zM286 424h1v1h-1zM289 424h1v1h-1zM296 424h1v1h-1zM211 425h1v1h-1zM213 425h1v1h-1zM217 425h4v1h-4zM233 425h2v1h-2zM237 425h3v1h-3zM244 425h1v1h-1zM246 425h1v1h-1zM250 425h2v1h-2zM253 425h1v1h-1zM256 425h1v1h-1zM264 425h1v1h-1zM269 425h1v1h-1zM207 426h1v1h-1zM213 426h1v1h-1zM220 426h1v1h-1zM223 426h1v1h-1zM227 426h1v1h-1zM229 426h1v1h-1zM232 426h1v1h-1zM234 426h1v1h-1zM236 426h2v1h-2zM252 426h1v1h-1zM264 426h1v1h-1zM267 426h1v1h-1zM280 426h2v1h-2zM283 426h1v1h-1zM292 426h1v1h-1zM192 427h1v1h-1zM207 427h1v1h-1zM224 427h2v1h-2zM236 427h1v1h-1zM239 427h2v1h-2zM243 427h1v1h-1zM247 427h1v1h-1zM249 427h1v1h-1zM257 427h1v1h-1zM267 427h1v1h-1zM271 427h1v1h-1zM273 427h1v1h-1zM279 427h1v1h-1zM286 427h1v1h-1zM292 427h1v1h-1zM196 428h1v1h-1zM201 428h1v1h-1zM213 428h1v1h-1zM216 428h1v1h-1zM220 428h1v1h-1zM224 428h2v1h-2zM238 428h1v1h-1zM242 428h1v1h-1zM248 428h1v1h-1zM253 428h2v1h-2zM262 428h1v1h-1zM272 428h1v1h-1zM275 428h1v1h-1zM198 429h1v1h-1zM203 429h2v1h-2zM207 429h1v1h-1zM210 429h1v1h-1zM212 429h1v1h-1zM214 429h2v1h-2zM218 429h3v1h-3zM237 429h2v1h-2zM246 429h1v1h-1zM249 429h1v1h-1zM269 429h1v1h-1zM282 429h1v1h-1zM284 429h1v1h-1zM288 429h1v1h-1zM296 429h2v1h-2zM205 430h1v1h-1zM218 430h1v1h-1zM227 430h4v1h-4zM234 430h2v1h-2zM238 430h1v1h-1zM240 430h1v1h-1zM242 430h1v1h-1zM244 430h1v1h-1zM255 430h1v1h-1zM257 430h1v1h-1zM273 430h1v1h-1zM275 430h1v1h-1zM278 430h1v1h-1zM297 430h1v1h-1zM187 431h1v1h-1zM203 431h1v1h-1zM222 431h1v1h-1zM227 431h3v1h-3zM238 431h3v1h-3zM242 431h1v1h-1zM252 431h1v1h-1zM264 431h1v1h-1zM273 431h1v1h-1zM278 431h1v1h-1zM292 431h1v1h-1zM294 431h1v1h-1zM192 432h1v1h-1zM195 432h1v1h-1zM202 432h1v1h-1zM219 432h1v1h-1zM227 432h2v1h-2zM234 432h2v1h-2zM238 432h1v1h-1zM242 432h1v1h-1zM244 432h1v1h-1zM246 432h1v1h-1zM252 432h1v1h-1zM262 432h1v1h-1zM264 432h1v1h-1zM266 432h1v1h-1zM275 432h2v1h-2zM282 432h1v1h-1zM192 433h1v1h-1zM200 433h1v1h-1zM207 433h1v1h-1zM212 433h2v1h-2zM221 433h1v1h-1zM224 433h1v1h-1zM227 433h1v1h-1zM229 433h1v1h-1zM231 433h2v1h-2zM239 433h1v1h-1zM245 433h1v1h-1zM248 433h1v1h-1zM254 433h1v1h-1zM256 433h1v1h-1zM267 433h2v1h-2zM271 433h1v1h-1zM273 433h1v1h-1zM277 433h1v1h-1zM196 434h1v1h-1zM210 434h1v1h-1zM218 434h1v1h-1zM223 434h1v1h-1zM226 434h1v1h-1zM234 434h1v1h-1zM236 434h1v1h-1zM239 434h1v1h-1zM244 434h1v1h-1zM248 434h1v1h-1zM250 434h1v1h-1zM276 434h1v1h-1zM281 434h1v1h-1zM287 434h1v1h-1zM290 434h1v1h-1zM187 435h1v1h-1zM203 435h2v1h-2zM206 435h1v1h-1zM208 435h1v1h-1zM214 435h1v1h-1zM216 435h1v1h-1zM225 435h1v1h-1zM227 435h1v1h-1zM229 435h1v1h-1zM231 435h1v1h-1zM239 435h1v1h-1zM243 435h1v1h-1zM245 435h1v1h-1zM250 435h4v1h-4zM256 435h1v1h-1zM282 435h1v1h-1zM287 435h1v1h-1zM300 435h1v1h-1zM192 436h1v1h-1zM194 436h1v1h-1zM203 436h1v1h-1zM212 436h1v1h-1zM218 436h1v1h-1zM224 436h1v1h-1zM229 436h1v1h-1zM247 436h1v1h-1zM250 436h2v1h-2zM255 436h1v1h-1zM264 436h2v1h-2zM269 436h1v1h-1zM280 436h1v1h-1zM187 437h1v1h-1zM193 437h1v1h-1zM209 437h1v1h-1zM215 437h1v1h-1zM220 437h3v1h-3zM226 437h2v1h-2zM231 437h4v1h-4zM237 437h1v1h-1zM256 437h1v1h-1zM280 437h1v1h-1zM286 437h2v1h-2zM205 438h3v1h-3zM211 438h1v1h-1zM214 438h1v1h-1zM219 438h1v1h-1zM223 438h1v1h-1zM225 438h3v1h-3zM229 438h1v1h-1zM231 438h3v1h-3zM235 438h1v1h-1zM241 438h1v1h-1zM247 438h1v1h-1zM252 438h1v1h-1zM259 438h1v1h-1zM288 438h1v1h-1zM204 439h1v1h-1zM207 439h1v1h-1zM223 439h1v1h-1zM232 439h3v1h-3zM236 439h1v1h-1zM238 439h1v1h-1zM240 439h1v1h-1zM242 439h1v1h-1zM244 439h1v1h-1zM246 439h1v1h-1zM248 439h1v1h-1zM253 439h1v1h-1zM264 439h1v1h-1zM284 439h1v1h-1zM288 439h1v1h-1zM290 439h1v1h-1zM184 440h1v1h-1zM200 440h1v1h-1zM203 440h1v1h-1zM209 440h1v1h-1zM211 440h2v1h-2zM215 440h1v1h-1zM218 440h1v1h-1zM220 440h1v1h-1zM223 440h1v1h-1zM229 440h1v1h-1zM231 440h1v1h-1zM233 440h2v1h-2zM236 440h1v1h-1zM238 440h1v1h-1zM241 440h2v1h-2zM245 440h1v1h-1zM255 440h1v1h-1zM261 440h1v1h-1zM264 440h1v1h-1zM266 440h1v1h-1zM270 440h1v1h-1zM272 440h1v1h-1zM287 440h1v1h-1zM290 440h1v1h-1zM294 440h1v1h-1zM202 441h1v1h-1zM207 441h1v1h-1zM209 441h2v1h-2zM212 441h1v1h-1zM214 441h1v1h-1zM218 441h1v1h-1zM223 441h1v1h-1zM225 441h1v1h-1zM228 441h1v1h-1zM230 441h1v1h-1zM232 441h1v1h-1zM238 441h1v1h-1zM243 441h1v1h-1zM249 441h2v1h-2zM258 441h1v1h-1zM276 441h1v1h-1zM187 442h1v1h-1zM198 442h1v1h-1zM203 442h1v1h-1zM208 442h1v1h-1zM210 442h1v1h-1zM213 442h1v1h-1zM217 442h1v1h-1zM221 442h3v1h-3zM226 442h1v1h-1zM230 442h1v1h-1zM237 442h1v1h-1zM252 442h1v1h-1zM255 442h2v1h-2zM277 442h1v1h-1zM281 442h2v1h-2zM291 442h1v1h-1zM185 443h1v1h-1zM193 443h1v1h-1zM197 443h1v1h-1zM202 443h1v1h-1zM212 443h1v1h-1zM216 443h1v1h-1zM218 443h2v1h-2zM221 443h1v1h-1zM227 443h1v1h-1zM232 443h1v1h-1zM235 443h2v1h-2zM241 443h2v1h-2zM251 443h1v1h-1zM267 443h1v1h-1zM272 443h1v1h-1zM298 443h1v1h-1zM201 444h1v1h-1zM203 444h1v1h-1zM209 444h2v1h-2zM216 444h1v1h-1zM219 444h4v1h-4zM228 444h1v1h-1zM230 444h1v1h-1zM233 444h1v1h-1zM237 444h1v1h-1zM240 444h1v1h-1zM247 444h2v1h-2zM254 444h1v1h-1zM267 444h1v1h-1zM283 444h1v1h-1zM184 445h1v1h-1zM197 445h2v1h-2zM201 445h1v1h-1zM205 445h2v1h-2zM208 445h1v1h-1zM210 445h1v1h-1zM215 445h2v1h-2zM226 445h3v1h-3zM231 445h1v1h-1zM234 445h1v1h-1zM237 445h1v1h-1zM239 445h1v1h-1zM243 445h1v1h-1zM253 445h3v1h-3zM276 445h1v1h-1zM195 446h2v1h-2zM200 446h2v1h-2zM205 446h1v1h-1zM207 446h1v1h-1zM209 446h1v1h-1zM214 446h1v1h-1zM220 446h1v1h-1zM223 446h1v1h-1zM227 446h1v1h-1zM229 446h1v1h-1zM231 446h1v1h-1zM237 446h1v1h-1zM244 446h2v1h-2zM280 446h1v1h-1zM297 446h1v1h-1zM299 446h1v1h-1zM182 447h1v1h-1zM186 447h1v1h-1zM189 447h1v1h-1zM195 447h1v1h-1zM200 447h1v1h-1zM202 447h1v1h-1zM206 447h2v1h-2zM210 447h1v1h-1zM212 447h1v1h-1zM214 447h1v1h-1zM216 447h1v1h-1zM226 447h1v1h-1zM229 447h2v1h-2zM237 447h1v1h-1zM239 447h3v1h-3zM250 447h1v1h-1zM253 447h1v1h-1zM259 447h1v1h-1zM262 447h1v1h-1zM270 447h1v1h-1zM291 447h1v1h-1zM295 447h2v1h-2zM190 448h1v1h-1zM197 448h1v1h-1zM199 448h1v1h-1zM217 448h2v1h-2zM230 448h1v1h-1zM233 448h1v1h-1zM235 448h1v1h-1zM242 448h1v1h-1zM246 448h1v1h-1zM253 448h1v1h-1zM255 448h1v1h-1zM260 448h2v1h-2zM265 448h1v1h-1zM184 449h1v1h-1zM191 449h2v1h-2zM194 449h1v1h-1zM203 449h1v1h-1zM217 449h1v1h-1zM219 449h2v1h-2zM222 449h1v1h-1zM225 449h3v1h-3zM230 449h1v1h-1zM234 449h1v1h-1zM240 449h1v1h-1zM245 449h1v1h-1zM274 449h1v1h-1zM279 449h1v1h-1zM192 450h1v1h-1zM198 450h2v1h-2zM205 450h2v1h-2zM213 450h1v1h-1zM217 450h2v1h-2zM220 450h3v1h-3zM224 450h1v1h-1zM228 450h1v1h-1zM235 450h1v1h-1zM237 450h2v1h-2zM241 450h1v1h-1zM256 450h1v1h-1zM264 450h1v1h-1zM272 450h1v1h-1zM300 450h1v1h-1zM186 451h1v1h-1zM188 451h1v1h-1zM202 451h1v1h-1zM207 451h1v1h-1zM213 451h1v1h-1zM216 451h1v1h-1zM218 451h1v1h-1zM229 451h1v1h-1zM233 451h1v1h-1zM241 451h2v1h-2zM253 451h1v1h-1zM259 451h1v1h-1zM281 451h1v1h-1zM295 451h1v1h-1zM189 452h1v1h-1zM195 452h1v1h-1zM202 452h1v1h-1zM209 452h1v1h-1zM211 452h1v1h-1zM215 452h1v1h-1zM218 452h1v1h-1zM226 452h1v1h-1zM232 452h2v1h-2zM238 452h1v1h-1zM241 452h1v1h-1zM250 452h2v1h-2zM254 452h1v1h-1zM258 452h1v1h-1zM185 453h1v1h-1zM189 453h1v1h-1zM201 453h1v1h-1zM212 453h1v1h-1zM218 453h1v1h-1zM220 453h1v1h-1zM222 453h1v1h-1zM224 453h3v1h-3zM234 453h2v1h-2zM237 453h1v1h-1zM243 453h1v1h-1zM246 453h1v1h-1zM256 453h1v1h-1zM264 453h1v1h-1zM183 454h1v1h-1zM195 454h3v1h-3zM202 454h1v1h-1zM206 454h1v1h-1zM211 454h3v1h-3zM215 454h2v1h-2zM219 454h2v1h-2zM224 454h1v1h-1zM229 454h2v1h-2zM232 454h1v1h-1zM245 454h1v1h-1zM248 454h1v1h-1zM264 454h1v1h-1zM271 454h1v1h-1zM292 454h1v1h-1zM182 455h2v1h-2zM187 455h2v1h-2zM193 455h1v1h-1zM207 455h1v1h-1zM214 455h2v1h-2zM218 455h1v1h-1zM223 455h3v1h-3zM227 455h1v1h-1zM244 455h1v1h-1zM249 455h1v1h-1zM264 455h1v1h-1zM274 455h1v1h-1zM276 455h1v1h-1zM281 455h1v1h-1zM298 455h1v1h-1zM300 455h1v1h-1zM201 456h2v1h-2zM217 456h2v1h-2zM223 456h1v1h-1zM226 456h1v1h-1zM233 456h2v1h-2zM237 456h1v1h-1zM242 456h1v1h-1zM250 456h1v1h-1zM256 456h1v1h-1zM269 456h1v1h-1zM288 456h1v1h-1zM299 456h1v1h-1zM183 457h1v1h-1zM185 457h1v1h-1zM190 457h1v1h-1zM196 457h1v1h-1zM200 457h2v1h-2zM203 457h1v1h-1zM205 457h3v1h-3zM213 457h1v1h-1zM217 457h2v1h-2zM220 457h1v1h-1zM224 457h2v1h-2zM229 457h1v1h-1zM232 457h1v1h-1zM237 457h1v1h-1zM243 457h2v1h-2zM248 457h2v1h-2zM276 457h1v1h-1zM284 457h1v1h-1zM299 457h1v1h-1zM186 458h1v1h-1zM193 458h2v1h-2zM206 458h2v1h-2zM212 458h1v1h-1zM217 458h2v1h-2zM224 458h1v1h-1zM229 458h1v1h-1zM235 458h1v1h-1zM276 458h1v1h-1zM287 458h1v1h-1zM182 459h1v1h-1zM191 459h1v1h-1zM199 459h1v1h-1zM202 459h1v1h-1zM205 459h2v1h-2zM208 459h2v1h-2zM218 459h1v1h-1zM221 459h2v1h-2zM230 459h2v1h-2zM237 459h1v1h-1zM243 459h1v1h-1zM250 459h1v1h-1zM272 459h2v1h-2zM292 459h1v1h-1zM296 459h1v1h-1zM185 460h1v1h-1zM188 460h1v1h-1zM191 460h1v1h-1zM207 460h4v1h-4zM216 460h2v1h-2zM220 460h1v1h-1zM225 460h2v1h-2zM228 460h1v1h-1zM231 460h2v1h-2zM282 460h1v1h-1zM201 461h1v1h-1zM204 461h1v1h-1zM216 461h1v1h-1zM224 461h1v1h-1zM227 461h1v1h-1zM231 461h1v1h-1zM234 461h1v1h-1zM236 461h1v1h-1zM239 461h1v1h-1zM241 461h2v1h-2zM244 461h1v1h-1zM246 461h1v1h-1zM251 461h1v1h-1zM258 461h1v1h-1zM277 461h1v1h-1zM284 461h1v1h-1zM190 462h1v1h-1zM192 462h1v1h-1zM195 462h2v1h-2zM203 462h1v1h-1zM206 462h2v1h-2zM215 462h1v1h-1zM219 462h2v1h-2zM227 462h1v1h-1zM234 462h1v1h-1zM242 462h1v1h-1zM247 462h1v1h-1zM255 462h1v1h-1zM260 462h2v1h-2zM286 462h2v1h-2zM290 462h1v1h-1zM184 463h2v1h-2zM187 463h1v1h-1zM189 463h1v1h-1zM194 463h1v1h-1zM197 463h1v1h-1zM204 463h2v1h-2zM207 463h1v1h-1zM209 463h1v1h-1zM211 463h1v1h-1zM214 463h2v1h-2zM217 463h1v1h-1zM219 463h1v1h-1zM227 463h1v1h-1zM236 463h1v1h-1zM239 463h2v1h-2zM249 463h1v1h-1zM254 463h1v1h-1zM273 463h1v1h-1zM289 463h1v1h-1zM294 463h2v1h-2zM183 464h1v1h-1zM187 464h2v1h-2zM191 464h3v1h-3zM195 464h2v1h-2zM198 464h3v1h-3zM202 464h3v1h-3zM208 464h1v1h-1zM212 464h1v1h-1zM215 464h1v1h-1zM217 464h2v1h-2zM221 464h1v1h-1zM225 464h2v1h-2zM233 464h1v1h-1zM237 464h1v1h-1zM241 464h1v1h-1zM247 464h1v1h-1zM249 464h1v1h-1zM252 464h1v1h-1zM254 464h1v1h-1zM260 464h2v1h-2zM268 464h1v1h-1zM278 464h1v1h-1zM286 464h1v1h-1zM290 464h1v1h-1zM183 465h1v1h-1zM186 465h1v1h-1zM191 465h1v1h-1zM193 465h1v1h-1zM197 465h1v1h-1zM199 465h1v1h-1zM201 465h1v1h-1zM204 465h1v1h-1zM206 465h1v1h-1zM209 465h1v1h-1zM212 465h3v1h-3zM222 465h2v1h-2zM235 465h2v1h-2zM244 465h1v1h-1zM246 465h1v1h-1zM250 465h1v1h-1zM256 465h1v1h-1zM269 465h1v1h-1zM271 465h1v1h-1zM274 465h1v1h-1zM284 465h1v1h-1zM289 465h1v1h-1zM293 465h1v1h-1zM295 465h1v1h-1zM300 465h1v1h-1zM185 466h1v1h-1zM189 466h1v1h-1zM193 466h4v1h-4zM199 466h1v1h-1zM202 466h2v1h-2zM207 466h1v1h-1zM209 466h1v1h-1zM213 466h1v1h-1zM217 466h1v1h-1zM222 466h2v1h-2zM225 466h2v1h-2zM228 466h1v1h-1zM230 466h1v1h-1zM233 466h1v1h-1zM238 466h1v1h-1zM241 466h2v1h-2zM248 466h1v1h-1zM252 466h1v1h-1zM254 466h1v1h-1zM256 466h1v1h-1zM260 466h2v1h-2zM263 466h1v1h-1zM267 466h1v1h-1zM272 466h1v1h-1zM275 466h2v1h-2zM280 466h1v1h-1zM286 466h1v1h-1zM290 466h1v1h-1zM293 466h1v1h-1zM295 466h1v1h-1zM299 466h1v1h-1zM188 467h1v1h-1zM190 467h1v1h-1zM194 467h2v1h-2zM199 467h1v1h-1zM201 467h1v1h-1zM204 467h1v1h-1zM206 467h1v1h-1zM209 467h1v1h-1zM212 467h1v1h-1zM221 467h3v1h-3zM229 467h1v1h-1zM231 467h2v1h-2zM234 467h1v1h-1zM237 467h1v1h-1zM239 467h2v1h-2zM242 467h2v1h-2zM251 467h2v1h-2zM256 467h1v1h-1zM267 467h3v1h-3zM279 467h1v1h-1zM285 467h1v1h-1zM290 467h1v1h-1zM189 468h2v1h-2zM192 468h1v1h-1zM197 468h2v1h-2zM201 468h1v1h-1zM205 468h3v1h-3zM209 468h1v1h-1zM213 468h2v1h-2zM218 468h1v1h-1zM220 468h1v1h-1zM231 468h1v1h-1zM233 468h1v1h-1zM236 468h1v1h-1zM240 468h1v1h-1zM243 468h1v1h-1zM245 468h2v1h-2zM252 468h1v1h-1zM254 468h1v1h-1zM259 468h1v1h-1zM269 468h1v1h-1zM278 468h1v1h-1zM186 469h1v1h-1zM193 469h1v1h-1zM196 469h3v1h-3zM201 469h1v1h-1zM211 469h1v1h-1zM213 469h2v1h-2zM219 469h1v1h-1zM229 469h3v1h-3zM236 469h3v1h-3zM243 469h1v1h-1zM246 469h1v1h-1zM248 469h2v1h-2zM262 469h1v1h-1zM265 469h1v1h-1zM269 469h1v1h-1zM272 469h1v1h-1zM275 469h2v1h-2zM281 469h1v1h-1zM294 469h1v1h-1zM191 470h3v1h-3zM195 470h5v1h-5zM202 470h1v1h-1zM206 470h2v1h-2zM212 470h1v1h-1zM215 470h1v1h-1zM217 470h4v1h-4zM222 470h1v1h-1zM225 470h1v1h-1zM233 470h1v1h-1zM235 470h1v1h-1zM243 470h1v1h-1zM254 470h1v1h-1zM291 470h1v1h-1zM293 470h1v1h-1zM186 471h2v1h-2zM195 471h1v1h-1zM197 471h1v1h-1zM199 471h2v1h-2zM203 471h1v1h-1zM207 471h2v1h-2zM210 471h2v1h-2zM219 471h1v1h-1zM222 471h2v1h-2zM228 471h1v1h-1zM234 471h3v1h-3zM244 471h2v1h-2zM252 471h2v1h-2zM255 471h1v1h-1zM257 471h1v1h-1zM269 471h1v1h-1zM271 471h1v1h-1zM273 471h1v1h-1zM276 471h1v1h-1zM299 471h1v1h-1zM185 472h2v1h-2zM199 472h1v1h-1zM201 472h2v1h-2zM212 472h2v1h-2zM217 472h2v1h-2zM221 472h1v1h-1zM223 472h1v1h-1zM225 472h1v1h-1zM227 472h1v1h-1zM238 472h2v1h-2zM241 472h1v1h-1zM250 472h1v1h-1zM254 472h2v1h-2zM258 472h2v1h-2zM261 472h4v1h-4zM273 472h1v1h-1zM283 472h1v1h-1zM295 472h1v1h-1zM184 473h1v1h-1zM190 473h1v1h-1zM192 473h2v1h-2zM195 473h1v1h-1zM200 473h3v1h-3zM204 473h1v1h-1zM207 473h1v1h-1zM209 473h1v1h-1zM214 473h2v1h-2zM218 473h1v1h-1zM221 473h3v1h-3zM225 473h1v1h-1zM227 473h1v1h-1zM229 473h2v1h-2zM232 473h1v1h-1zM237 473h1v1h-1zM240 473h3v1h-3zM252 473h1v1h-1zM254 473h1v1h-1zM257 473h2v1h-2zM260 473h2v1h-2zM273 473h1v1h-1zM294 473h1v1h-1zM182 474h1v1h-1zM189 474h1v1h-1zM191 474h2v1h-2zM198 474h4v1h-4zM204 474h1v1h-1zM220 474h1v1h-1zM222 474h1v1h-1zM224 474h1v1h-1zM230 474h1v1h-1zM237 474h1v1h-1zM244 474h1v1h-1zM250 474h1v1h-1zM256 474h1v1h-1zM258 474h2v1h-2zM264 474h1v1h-1zM273 474h1v1h-1zM185 475h1v1h-1zM191 475h2v1h-2zM197 475h2v1h-2zM201 475h1v1h-1zM204 475h1v1h-1zM206 475h1v1h-1zM208 475h1v1h-1zM214 475h1v1h-1zM217 475h1v1h-1zM220 475h3v1h-3zM232 475h1v1h-1zM237 475h1v1h-1zM243 475h1v1h-1zM246 475h1v1h-1zM248 475h1v1h-1zM256 475h1v1h-1zM258 475h1v1h-1zM261 475h1v1h-1zM263 475h2v1h-2zM276 475h1v1h-1zM284 475h1v1h-1zM295 475h1v1h-1zM298 475h1v1h-1zM183 476h2v1h-2zM186 476h2v1h-2zM190 476h2v1h-2zM193 476h2v1h-2zM196 476h1v1h-1zM199 476h1v1h-1zM201 476h1v1h-1zM203 476h1v1h-1zM210 476h1v1h-1zM213 476h1v1h-1zM217 476h1v1h-1zM224 476h2v1h-2zM233 476h1v1h-1zM237 476h2v1h-2zM240 476h2v1h-2zM245 476h1v1h-1zM248 476h1v1h-1zM252 476h1v1h-1zM283 476h1v1h-1zM292 476h1v1h-1zM185 477h4v1h-4zM190 477h1v1h-1zM194 477h1v1h-1zM197 477h2v1h-2zM200 477h1v1h-1zM203 477h2v1h-2zM206 477h1v1h-1zM209 477h1v1h-1zM211 477h1v1h-1zM213 477h1v1h-1zM216 477h2v1h-2zM225 477h1v1h-1zM234 477h1v1h-1zM239 477h1v1h-1zM243 477h1v1h-1zM249 477h3v1h-3zM267 477h1v1h-1zM299 477h1v1h-1zM188 478h1v1h-1zM190 478h1v1h-1zM200 478h1v1h-1zM203 478h1v1h-1zM206 478h1v1h-1zM208 478h2v1h-2zM213 478h3v1h-3zM231 478h1v1h-1zM234 478h2v1h-2zM244 478h1v1h-1zM291 478h1v1h-1zM294 478h1v1h-1zM184 479h1v1h-1zM186 479h1v1h-1zM195 479h1v1h-1zM197 479h1v1h-1zM199 479h1v1h-1zM204 479h2v1h-2zM208 479h1v1h-1zM215 479h1v1h-1zM220 479h1v1h-1zM227 479h1v1h-1zM233 479h1v1h-1zM235 479h1v1h-1zM238 479h1v1h-1zM247 479h1v1h-1zM249 479h1v1h-1zM284 479h1v1h-1zM286 479h1v1h-1zM294 479h1v1h-1zM182 480h1v1h-1zM210 480h1v1h-1zM213 480h1v1h-1zM215 480h1v1h-1zM222 480h1v1h-1zM228 480h1v1h-1zM289 480h1v1h-1zM292 480h1v1h-1zM182 481h1v1h-1zM185 481h1v1h-1zM195 481h1v1h-1zM224 481h1v1h-1zM226 481h1v1h-1zM230 481h1v1h-1zM232 481h1v1h-1zM234 481h1v1h-1zM240 481h1v1h-1zM247 481h1v1h-1zM285 481h1v1h-1zM293 481h1v1h-1zM183 482h1v1h-1zM197 482h1v1h-1zM202 482h1v1h-1zM215 482h1v1h-1zM220 482h1v1h-1zM223 482h1v1h-1zM235 482h1v1h-1zM244 482h1v1h-1zM270 482h1v1h-1zM276 482h1v1h-1zM279 482h1v1h-1zM281 482h1v1h-1zM283 482h1v1h-1zM293 482h2v1h-2zM200 483h1v1h-1zM209 483h1v1h-1zM214 483h2v1h-2zM217 483h1v1h-1zM222 483h1v1h-1zM226 483h2v1h-2zM234 483h1v1h-1zM265 483h1v1h-1zM278 483h1v1h-1zM286 483h1v1h-1zM188 484h1v1h-1zM218 484h1v1h-1zM228 484h1v1h-1zM239 484h1v1h-1zM283 484h1v1h-1zM287 484h1v1h-1zM297 484h1v1h-1zM208 485h1v1h-1zM216 485h2v1h-2zM223 485h1v1h-1zM226 485h1v1h-1zM277 485h1v1h-1zM279 485h1v1h-1zM281 485h1v1h-1zM287 485h1v1h-1zM210 486h1v1h-1zM213 486h1v1h-1zM226 486h2v1h-2zM260 486h1v1h-1zM270 486h1v1h-1zM278 486h1v1h-1zM285 486h1v1h-1zM291 486h1v1h-1zM293 486h2v1h-2zM217 487h1v1h-1zM223 487h1v1h-1zM268 487h1v1h-1zM270 487h2v1h-2zM273 487h1v1h-1zM276 487h1v1h-1zM290 487h1v1h-1zM295 487h1v1h-1zM298 487h1v1h-1zM217 488h1v1h-1zM265 488h1v1h-1zM268 488h2v1h-2zM277 488h1v1h-1zM286 488h1v1h-1zM297 488h1v1h-1zM195 489h1v1h-1zM223 489h2v1h-2zM258 489h1v1h-1zM261 489h1v1h-1zM263 489h1v1h-1zM267 489h1v1h-1zM269 489h1v1h-1zM272 489h2v1h-2zM283 489h1v1h-1zM288 489h1v1h-1zM291 489h2v1h-2zM205 490h1v1h-1zM216 490h1v1h-1zM222 490h1v1h-1zM227 490h1v1h-1zM242 490h1v1h-1zM258 490h1v1h-1zM268 490h1v1h-1zM281 490h1v1h-1zM189 491h1v1h-1zM243 491h1v1h-1zM259 491h1v1h-1zM274 491h1v1h-1zM237 492h1v1h-1zM261 492h1v1h-1zM266 492h1v1h-1zM232 493h1v1h-1zM249 493h1v1h-1zM268 493h2v1h-2zM288 493h1v1h-1zM292 493h1v1h-1zM229 494h1v1h-1zM250 494h1v1h-1zM256 494h1v1h-1zM186 495h1v1h-1zM226 495h1v1h-1zM250 495h1v1h-1zM278 495h1v1h-1zM292 495h1v1h-1zM230 496h1v1h-1zM244 496h1v1h-1zM246 496h1v1h-1zM250 496h1v1h-1zM259 496h1v1h-1zM262 496h1v1h-1zM191 497h1v1h-1zM241 497h1v1h-1zM243 497h1v1h-1zM278 497h1v1h-1zM281 497h1v1h-1zM201 498h1v1h-1zM231 498h1v1h-1zM273 498h1v1h-1zM182 499h1v1h-1zM189 499h1v1h-1zM193 499h1v1h-1zM199 499h2v1h-2zM220 499h1v1h-1zM237 499h1v1h-1zM242 499h1v1h-1zM245 499h1v1h-1zM254 499h1v1h-1zM191 500h1v1h-1zM195 500h2v1h-2zM199 500h1v1h-1zM201 500h2v1h-2zM204 500h1v1h-1zM208 500h1v1h-1zM229 500h1v1h-1zM271 500h1v1h-1zM278 500h1v1h-1zM292 500h1v1h-1zM297 500h1v1h-1zM184 501h1v1h-1zM193 501h2v1h-2zM200 501h1v1h-1zM207 501h1v1h-1zM209 501h1v1h-1zM250 501h1v1h-1zM288 501h1v1h-1z"/>
<g filter="url(#soft)">
<path fill="#6690dc" d="M197 381h1v1h-1zM241 381h1v1h-1zM188 382h1v1h-1zM194 382h1v1h-1zM195 383h4v1h-4zM217 383h1v1h-1zM195 384h3v1h-3zM225 384h1v1h-1zM261 384h1v1h-1zM196 385h1v1h-1zM198 385h1v1h-1zM248 385h1v1h-1zM195 386h1v1h-1zM224 386h2v1h-2zM297 386h1v1h-1zM215 387h1v1h-1zM194 388h4v1h-4zM212 388h1v1h-1zM227 388h1v1h-1zM198 389h1v1h-1zM241 389h1v1h-1zM194 390h1v1h-1zM197 390h2v1h-2zM213 390h1v1h-1zM246 390h1v1h-1zM280 390h1v1h-1zM198 391h2v1h-2zM233 391h1v1h-1zM194 392h1v1h-1zM197 392h2v1h-2zM242 392h1v1h-1zM194 393h1v1h-1zM198 393h1v1h-1zM187 394h1v1h-1zM198 394h1v1h-1zM261 394h1v1h-1zM274 394h1v1h-1zM194 395h1v1h-1zM198 395h1v1h-1zM275 395h1v1h-1zM194 396h1v1h-1zM247 396h1v1h-1zM194 397h1v1h-1zM198 397h1v1h-1zM205 397h1v1h-1zM199 398h1v1h-1zM222 398h1v1h-1zM193 399h1v1h-1zM199 399h1v1h-1zM223 399h1v1h-1zM271 399h1v1h-1zM285 399h1v1h-1zM193 400h1v1h-1zM199 400h1v1h-1zM199 401h1v1h-1zM193 402h1v1h-1zM199 402h1v1h-1zM287 402h1v1h-1zM289 402h1v1h-1zM186 403h1v1h-1zM193 404h1v1h-1zM199 404h1v1h-1zM193 405h1v1h-1zM188 406h1v1h-1zM193 406h1v1h-1zM199 406h1v1h-1zM234 406h1v1h-1zM236 406h1v1h-1zM242 406h1v1h-1zM257 406h1v1h-1zM199 407h1v1h-1zM193 408h1v1h-1zM299 408h1v1h-1zM186 409h1v1h-1zM193 409h1v1h-1zM233 409h1v1h-1zM193 410h1v1h-1zM199 410h1v1h-1zM247 410h1v1h-1zM193 411h1v1h-1zM234 412h1v1h-1zM289 412h1v1h-1zM269 413h1v1h-1zM272 413h1v1h-1zM284 413h1v1h-1zM187 415h1v1h-1zM194 415h1v1h-1zM193 417h1v1h-1zM201 417h1v1h-1zM245 417h1v1h-1zM249 417h1v1h-1zM258 417h1v1h-1zM194 418h1v1h-1zM205 418h1v1h-1zM209 418h1v1h-1zM193 419h1v1h-1zM198 419h1v1h-1zM207 419h1v1h-1zM194 420h1v1h-1zM190 421h1v1h-1zM197 421h1v1h-1zM290 421h1v1h-1zM195 422h1v1h-1zM198 422h1v1h-1zM195 423h1v1h-1zM197 423h1v1h-1zM199 423h2v1h-2zM194 424h5v1h-5zM245 424h1v1h-1zM254 424h1v1h-1zM264 424h1v1h-1zM195 425h3v1h-3zM277 425h1v1h-1zM195 426h2v1h-2zM235 426h1v1h-1zM195 427h3v1h-3zM200 427h1v1h-1zM195 428h1v1h-1zM197 428h1v1h-1zM277 428h1v1h-1zM187 429h1v1h-1zM195 429h1v1h-1zM301 429h1v1h-1zM245 431h1v1h-1zM195 434h1v1h-1zM202 435h1v1h-1zM211 435h1v1h-1zM260 436h1v1h-1zM295 436h1v1h-1zM253 438h1v1h-1zM229 439h1v1h-1zM182 440h1v1h-1zM196 440h1v1h-1zM300 440h1v1h-1zM200 441h1v1h-1zM275 441h1v1h-1zM212 442h1v1h-1zM243 442h1v1h-1zM245 442h1v1h-1zM249 442h1v1h-1zM265 442h1v1h-1zM283 442h1v1h-1zM211 443h1v1h-1zM244 443h1v1h-1zM268 444h1v1h-1zM183 445h1v1h-1zM275 446h1v1h-1zM191 447h2v1h-2zM266 447h1v1h-1zM280 447h1v1h-1zM287 447h1v1h-1zM215 448h1v1h-1zM276 448h1v1h-1zM253 449h1v1h-1zM268 450h1v1h-1zM228 451h1v1h-1zM258 451h1v1h-1zM238 453h1v1h-1zM186 454h1v1h-1zM203 454h1v1h-1zM243 454h1v1h-1zM252 454h1v1h-1zM266 454h1v1h-1zM282 454h1v1h-1zM201 455h1v1h-1zM226 455h1v1h-1zM299 455h1v1h-1zM225 456h1v1h-1zM270 456h1v1h-1zM279 456h1v1h-1zM230 457h1v1h-1zM267 457h1v1h-1zM279 457h1v1h-1zM301 458h1v1h-1zM192 459h1v1h-1zM200 459h1v1h-1zM251 460h1v1h-1zM197 461h1v1h-1zM278 461h1v1h-1zM291 461h1v1h-1zM199 462h1v1h-1zM239 462h1v1h-1zM186 463h1v1h-1zM198 463h1v1h-1zM265 463h1v1h-1zM285 463h1v1h-1zM287 463h1v1h-1zM219 464h1v1h-1zM232 464h1v1h-1zM239 464h1v1h-1zM246 464h1v1h-1zM262 464h1v1h-1zM283 464h1v1h-1zM289 464h1v1h-1zM195 465h1v1h-1zM200 465h1v1h-1zM227 465h1v1h-1zM229 465h2v1h-2zM239 465h1v1h-1zM241 465h2v1h-2zM259 465h1v1h-1zM267 465h1v1h-1zM272 465h1v1h-1zM280 465h1v1h-1zM287 465h1v1h-1zM205 466h1v1h-1zM210 466h1v1h-1zM216 466h1v1h-1zM221 466h1v1h-1zM231 466h1v1h-1zM257 466h1v1h-1zM264 466h1v1h-1zM278 466h2v1h-2zM284 466h2v1h-2zM287 466h3v1h-3zM198 467h1v1h-1zM202 467h1v1h-1zM208 467h1v1h-1zM218 467h1v1h-1zM220 467h1v1h-1zM225 467h1v1h-1zM254 467h2v1h-2zM273 467h1v1h-1zM281 467h2v1h-2zM286 467h1v1h-1zM289 467h1v1h-1zM292 467h1v1h-1zM296 467h1v1h-1zM194 468h2v1h-2zM203 468h1v1h-1zM208 468h1v1h-1zM222 468h1v1h-1zM225 468h2v1h-2zM229 468h1v1h-1zM238 468h2v1h-2zM260 468h1v1h-1zM262 468h1v1h-1zM265 468h1v1h-1zM273 468h1v1h-1zM280 468h1v1h-1zM284 468h3v1h-3zM290 468h1v1h-1zM292 468h1v1h-1zM294 468h1v1h-1zM194 469h1v1h-1zM199 469h1v1h-1zM205 469h1v1h-1zM207 469h1v1h-1zM210 469h1v1h-1zM212 469h1v1h-1zM220 469h1v1h-1zM222 469h1v1h-1zM224 469h1v1h-1zM226 469h2v1h-2zM232 469h1v1h-1zM250 469h1v1h-1zM255 469h1v1h-1zM258 469h1v1h-1zM261 469h1v1h-1zM264 469h1v1h-1zM270 469h1v1h-1zM273 469h2v1h-2zM277 469h1v1h-1zM279 469h2v1h-2zM282 469h1v1h-1zM284 469h3v1h-3zM289 469h2v1h-2zM296 469h1v1h-1zM200 470h2v1h-2zM203 470h1v1h-1zM214 470h1v1h-1zM221 470h1v1h-1zM227 470h2v1h-2zM232 470h1v1h-1zM236 470h1v1h-1zM240 470h3v1h-3zM260 470h1v1h-1zM263 470h2v1h-2zM266 470h1v1h-1zM272 470h1v1h-1zM274 470h3v1h-3zM278 470h2v1h-2zM283 470h1v1h-1zM288 470h3v1h-3zM292 470h1v1h-1zM191 471h1v1h-1zM193 471h1v1h-1zM196 471h1v1h-1zM202 471h1v1h-1zM205 471h1v1h-1zM209 471h1v1h-1zM231 471h1v1h-1zM238 471h1v1h-1zM241 471h1v1h-1zM248 471h1v1h-1zM260 471h2v1h-2zM270 471h1v1h-1zM274 471h2v1h-2zM281 471h1v1h-1zM284 471h1v1h-1zM289 471h6v1h-6zM190 472h2v1h-2zM200 472h1v1h-1zM204 472h2v1h-2zM210 472h1v1h-1zM215 472h1v1h-1zM219 472h2v1h-2zM222 472h1v1h-1zM228 472h2v1h-2zM231 472h1v1h-1zM233 472h1v1h-1zM236 472h1v1h-1zM242 472h1v1h-1zM247 472h2v1h-2zM265 472h6v1h-6zM274 472h3v1h-3zM282 472h1v1h-1zM290 472h5v1h-5zM301 472h1v1h-1zM194 473h1v1h-1zM197 473h3v1h-3zM224 473h1v1h-1zM226 473h1v1h-1zM235 473h1v1h-1zM238 473h1v1h-1zM250 473h1v1h-1zM253 473h1v1h-1zM266 473h1v1h-1zM268 473h2v1h-2zM272 473h1v1h-1zM274 473h1v1h-1zM289 473h1v1h-1zM291 473h3v1h-3zM194 474h1v1h-1zM196 474h2v1h-2zM203 474h1v1h-1zM207 474h1v1h-1zM209 474h2v1h-2zM213 474h1v1h-1zM227 474h1v1h-1zM229 474h1v1h-1zM231 474h1v1h-1zM233 474h2v1h-2zM238 474h1v1h-1zM242 474h2v1h-2zM245 474h3v1h-3zM251 474h1v1h-1zM253 474h3v1h-3zM257 474h1v1h-1zM261 474h3v1h-3zM265 474h5v1h-5zM271 474h1v1h-1zM280 474h1v1h-1zM291 474h3v1h-3zM296 474h1v1h-1zM196 475h1v1h-1zM202 475h1v1h-1zM212 475h2v1h-2zM225 475h1v1h-1zM228 475h1v1h-1zM230 475h2v1h-2zM235 475h2v1h-2zM247 475h1v1h-1zM249 475h1v1h-1zM253 475h1v1h-1zM257 475h1v1h-1zM259 475h2v1h-2zM262 475h1v1h-1zM265 475h1v1h-1zM267 475h3v1h-3zM273 475h1v1h-1zM290 475h3v1h-3zM204 476h1v1h-1zM208 476h1v1h-1zM212 476h1v1h-1zM215 476h1v1h-1zM218 476h1v1h-1zM227 476h1v1h-1zM232 476h1v1h-1zM234 476h1v1h-1zM242 476h1v1h-1zM251 476h1v1h-1zM254 476h1v1h-1zM257 476h13v1h-13zM287 476h1v1h-1zM290 476h2v1h-2zM293 476h1v1h-1zM192 477h2v1h-2zM195 477h1v1h-1zM199 477h1v1h-1zM202 477h1v1h-1zM214 477h1v1h-1zM220 477h1v1h-1zM231 477h1v1h-1zM233 477h1v1h-1zM236 477h3v1h-3zM240 477h1v1h-1zM245 477h1v1h-1zM253 477h1v1h-1zM255 477h5v1h-5zM261 477h2v1h-2zM288 477h5v1h-5zM185 478h2v1h-2zM195 478h1v1h-1zM198 478h2v1h-2zM201 478h2v1h-2zM205 478h1v1h-1zM207 478h1v1h-1zM218 478h1v1h-1zM223 478h1v1h-1zM228 478h2v1h-2zM232 478h1v1h-1zM241 478h2v1h-2zM245 478h1v1h-1zM248 478h6v1h-6zM256 478h3v1h-3zM262 478h1v1h-1zM265 478h1v1h-1zM284 478h4v1h-4zM290 478h1v1h-1zM292 478h2v1h-2zM182 479h1v1h-1zM187 479h2v1h-2zM190 479h1v1h-1zM193 479h2v1h-2zM196 479h1v1h-1zM198 479h1v1h-1zM200 479h4v1h-4zM206 479h2v1h-2zM209 479h4v1h-4zM216 479h2v1h-2zM223 479h2v1h-2zM229 479h2v1h-2zM250 479h4v1h-4zM281 479h1v1h-1zM285 479h1v1h-1zM287 479h1v1h-1zM289 479h1v1h-1zM292 479h1v1h-1zM183 480h1v1h-1zM185 480h3v1h-3zM189 480h5v1h-5zM195 480h1v1h-1zM197 480h4v1h-4zM202 480h1v1h-1zM204 480h2v1h-2zM208 480h2v1h-2zM212 480h1v1h-1zM221 480h1v1h-1zM224 480h2v1h-2zM231 480h1v1h-1zM235 480h1v1h-1zM237 480h1v1h-1zM243 480h4v1h-4zM248 480h1v1h-1zM250 480h3v1h-3zM275 480h1v1h-1zM277 480h1v1h-1zM281 480h2v1h-2zM284 480h4v1h-4zM291 480h1v1h-1zM184 481h1v1h-1zM187 481h1v1h-1zM191 481h1v1h-1zM194 481h1v1h-1zM200 481h1v1h-1zM203 481h1v1h-1zM205 481h1v1h-1zM208 481h1v1h-1zM211 481h5v1h-5zM219 481h2v1h-2zM227 481h2v1h-2zM233 481h1v1h-1zM236 481h1v1h-1zM239 481h1v1h-1zM241 481h5v1h-5zM248 481h1v1h-1zM250 481h1v1h-1zM272 481h1v1h-1zM277 481h1v1h-1zM279 481h1v1h-1zM281 481h4v1h-4zM287 481h1v1h-1zM289 481h1v1h-1zM291 481h1v1h-1zM295 481h1v1h-1zM182 482h1v1h-1zM184 482h2v1h-2zM187 482h1v1h-1zM190 482h2v1h-2zM194 482h2v1h-2zM199 482h1v1h-1zM201 482h1v1h-1zM204 482h2v1h-2zM207 482h1v1h-1zM209 482h3v1h-3zM214 482h1v1h-1zM224 482h3v1h-3zM230 482h1v1h-1zM233 482h1v1h-1zM237 482h1v1h-1zM239 482h5v1h-5zM245 482h2v1h-2zM252 482h1v1h-1zM282 482h1v1h-1zM284 482h1v1h-1zM287 482h3v1h-3zM185 483h2v1h-2zM188 483h1v1h-1zM191 483h1v1h-1zM195 483h5v1h-5zM202 483h1v1h-1zM204 483h3v1h-3zM208 483h1v1h-1zM211 483h3v1h-3zM216 483h1v1h-1zM219 483h1v1h-1zM229 483h1v1h-1zM233 483h1v1h-1zM235 483h1v1h-1zM237 483h4v1h-4zM242 483h2v1h-2zM269 483h2v1h-2zM272 483h1v1h-1zM274 483h1v1h-1zM277 483h1v1h-1zM279 483h1v1h-1zM285 483h1v1h-1zM289 483h2v1h-2zM182 484h4v1h-4zM194 484h2v1h-2zM199 484h1v1h-1zM201 484h3v1h-3zM205 484h1v1h-1zM210 484h2v1h-2zM213 484h1v1h-1zM215 484h1v1h-1zM226 484h2v1h-2zM229 484h6v1h-6zM236 484h2v1h-2zM242 484h1v1h-1zM270 484h1v1h-1zM273 484h1v1h-1zM275 484h1v1h-1zM277 484h1v1h-1zM282 484h1v1h-1zM286 484h1v1h-1zM290 484h1v1h-1zM182 485h1v1h-1zM189 485h1v1h-1zM192 485h2v1h-2zM197 485h1v1h-1zM203 485h2v1h-2zM219 485h1v1h-1zM221 485h1v1h-1zM224 485h1v1h-1zM228 485h6v1h-6zM235 485h1v1h-1zM262 485h1v1h-1zM264 485h1v1h-1zM268 485h1v1h-1zM272 485h3v1h-3zM276 485h1v1h-1zM183 486h1v1h-1zM190 486h3v1h-3zM198 486h2v1h-2zM204 486h1v1h-1zM209 486h1v1h-1zM212 486h1v1h-1zM215 486h4v1h-4zM222 486h1v1h-1zM224 486h1v1h-1zM228 486h2v1h-2zM233 486h1v1h-1zM261 486h1v1h-1zM263 486h1v1h-1zM266 486h1v1h-1zM268 486h1v1h-1zM274 486h1v1h-1zM183 487h1v1h-1zM188 487h1v1h-1zM194 487h7v1h-7zM202 487h1v1h-1zM212 487h3v1h-3zM218 487h1v1h-1zM220 487h3v1h-3zM226 487h1v1h-1zM229 487h1v1h-1zM232 487h1v1h-1zM260 487h1v1h-1zM263 487h5v1h-5zM274 487h1v1h-1zM286 487h1v1h-1zM182 488h1v1h-1zM189 488h2v1h-2zM192 488h1v1h-1zM195 488h2v1h-2zM200 488h1v1h-1zM209 488h1v1h-1zM211 488h5v1h-5zM218 488h8v1h-8zM227 488h1v1h-1zM258 488h1v1h-1zM260 488h2v1h-2zM264 488h1v1h-1zM266 488h2v1h-2zM270 488h1v1h-1zM282 488h1v1h-1zM299 488h1v1h-1zM182 489h1v1h-1zM190 489h2v1h-2zM199 489h1v1h-1zM213 489h2v1h-2zM216 489h4v1h-4zM222 489h1v1h-1zM253 489h1v1h-1zM255 489h3v1h-3zM259 489h2v1h-2zM262 489h1v1h-1zM264 489h1v1h-1zM268 489h1v1h-1zM270 489h1v1h-1zM182 490h1v1h-1zM190 490h2v1h-2zM193 490h2v1h-2zM198 490h5v1h-5zM211 490h5v1h-5zM217 490h1v1h-1zM220 490h1v1h-1zM251 490h2v1h-2zM254 490h1v1h-1zM256 490h2v1h-2zM259 490h3v1h-3zM264 490h1v1h-1zM271 490h1v1h-1zM274 490h1v1h-1zM182 491h1v1h-1zM190 491h3v1h-3zM194 491h1v1h-1zM196 491h5v1h-5zM202 491h2v1h-2zM211 491h1v1h-1zM213 491h2v1h-2zM217 491h1v1h-1zM248 491h2v1h-2zM252 491h2v1h-2zM255 491h4v1h-4zM260 491h1v1h-1zM266 491h2v1h-2zM281 491h1v1h-1zM182 492h2v1h-2zM193 492h1v1h-1zM197 492h1v1h-1zM200 492h2v1h-2zM210 492h1v1h-1zM212 492h1v1h-1zM214 492h1v1h-1zM250 492h4v1h-4zM255 492h4v1h-4zM282 492h1v1h-1zM193 493h3v1h-3zM197 493h2v1h-2zM200 493h1v1h-1zM202 493h2v1h-2zM208 493h1v1h-1zM211 493h1v1h-1zM244 493h2v1h-2zM247 493h2v1h-2zM250 493h3v1h-3zM254 493h1v1h-1zM182 494h1v1h-1zM190 494h1v1h-1zM193 494h1v1h-1zM195 494h1v1h-1zM197 494h1v1h-1zM199 494h2v1h-2zM203 494h1v1h-1zM206 494h1v1h-1zM208 494h1v1h-1zM210 494h4v1h-4zM239 494h2v1h-2zM243 494h3v1h-3zM247 494h3v1h-3zM252 494h1v1h-1zM275 494h1v1h-1zM182 495h1v1h-1zM193 495h1v1h-1zM197 495h2v1h-2zM202 495h2v1h-2zM206 495h3v1h-3zM210 495h1v1h-1zM238 495h2v1h-2zM241 495h6v1h-6zM251 495h1v1h-1zM257 495h1v1h-1zM262 495h1v1h-1zM182 496h2v1h-2zM192 496h1v1h-1zM196 496h1v1h-1zM198 496h2v1h-2zM201 496h1v1h-1zM203 496h2v1h-2zM207 496h1v1h-1zM210 496h1v1h-1zM239 496h3v1h-3zM184 497h2v1h-2zM188 497h2v1h-2zM192 497h3v1h-3zM196 497h1v1h-1zM198 497h1v1h-1zM200 497h1v1h-1zM204 497h4v1h-4zM209 497h4v1h-4zM237 497h1v1h-1zM248 497h1v1h-1zM265 497h1v1h-1zM182 498h3v1h-3zM186 498h2v1h-2zM192 498h2v1h-2zM195 498h1v1h-1zM197 498h1v1h-1zM202 498h1v1h-1zM204 498h1v1h-1zM206 498h2v1h-2zM209 498h1v1h-1zM211 498h2v1h-2zM236 498h4v1h-4zM241 498h1v1h-1zM183 499h1v1h-1zM187 499h2v1h-2zM190 499h3v1h-3zM194 499h2v1h-2zM201 499h8v1h-8zM210 499h3v1h-3zM230 499h1v1h-1zM234 499h3v1h-3zM239 499h1v1h-1zM250 499h1v1h-1zM183 500h2v1h-2zM189 500h2v1h-2zM192 500h1v1h-1zM194 500h1v1h-1zM197 500h1v1h-1zM200 500h1v1h-1zM206 500h1v1h-1zM211 500h3v1h-3zM224 500h1v1h-1zM226 500h2v1h-2zM231 500h1v1h-1zM233 500h1v1h-1zM235 500h1v1h-1zM238 500h1v1h-1zM183 501h1v1h-1zM185 501h2v1h-2zM188 501h1v1h-1zM190 501h2v1h-2zM202 501h1v1h-1zM204 501h1v1h-1zM208 501h1v1h-1zM210 501h4v1h-4zM220 501h1v1h-1zM223 501h3v1h-3zM227 501h1v1h-1zM229 501h1v1h-1zM231 501h1v1h-1zM233 501h1v1h-1zM237 501h1v1h-1zM277 501h1v1h-1z"/>
<path fill="#5cb4e6" d="M196 386h1v1h-1zM197 387h1v1h-1zM195 389h3v1h-3zM196 390h1v1h-1zM194 391h2v1h-2zM197 391h1v1h-1zM195 392h1v1h-1zM195 393h1v1h-1zM197 393h1v1h-1zM194 394h1v1h-1zM195 395h1v1h-1zM194 398h1v1h-1zM198 398h1v1h-1zM194 399h1v1h-1zM194 400h1v1h-1zM198 400h1v1h-1zM198 404h1v1h-1zM194 405h1v1h-1zM198 406h1v1h-1zM194 409h1v1h-1zM198 409h1v1h-1zM194 410h1v1h-1zM198 410h1v1h-1zM194 411h1v1h-1zM198 412h1v1h-1zM194 413h1v1h-1zM198 413h1v1h-1zM194 414h1v1h-1zM198 414h1v1h-1zM198 415h1v1h-1zM194 416h2v1h-2zM198 416h1v1h-1zM194 417h1v1h-1zM198 417h1v1h-1zM195 418h1v1h-1zM197 418h2v1h-2zM195 419h3v1h-3zM195 420h1v1h-1zM195 421h1v1h-1zM196 422h2v1h-2zM288 468h1v1h-1zM287 469h2v1h-2zM292 469h1v1h-1zM280 470h2v1h-2zM284 470h4v1h-4zM277 471h1v1h-1zM279 471h2v1h-2zM282 471h2v1h-2zM285 471h4v1h-4zM272 472h1v1h-1zM277 472h5v1h-5zM285 472h1v1h-1zM287 472h3v1h-3zM265 473h1v1h-1zM267 473h1v1h-1zM270 473h2v1h-2zM275 473h9v1h-9zM285 473h1v1h-1zM290 473h1v1h-1zM270 474h1v1h-1zM272 474h1v1h-1zM274 474h2v1h-2zM278 474h2v1h-2zM281 474h1v1h-1zM283 474h5v1h-5zM289 474h2v1h-2zM266 475h1v1h-1zM270 475h3v1h-3zM274 475h2v1h-2zM278 475h3v1h-3zM286 475h3v1h-3zM270 476h6v1h-6zM277 476h1v1h-1zM279 476h4v1h-4zM284 476h1v1h-1zM286 476h1v1h-1zM288 476h1v1h-1zM252 477h1v1h-1zM264 477h3v1h-3zM268 477h1v1h-1zM272 477h1v1h-1zM275 477h13v1h-13zM255 478h1v1h-1zM259 478h1v1h-1zM261 478h1v1h-1zM263 478h2v1h-2zM266 478h1v1h-1zM270 478h2v1h-2zM273 478h4v1h-4zM278 478h6v1h-6zM254 479h6v1h-6zM261 479h1v1h-1zM264 479h4v1h-4zM271 479h2v1h-2zM275 479h2v1h-2zM278 479h3v1h-3zM282 479h2v1h-2zM288 479h1v1h-1zM188 480h1v1h-1zM194 480h1v1h-1zM196 480h1v1h-1zM201 480h1v1h-1zM203 480h1v1h-1zM207 480h1v1h-1zM211 480h1v1h-1zM247 480h1v1h-1zM249 480h1v1h-1zM253 480h11v1h-11zM265 480h1v1h-1zM268 480h1v1h-1zM271 480h1v1h-1zM273 480h1v1h-1zM276 480h1v1h-1zM278 480h3v1h-3zM283 480h1v1h-1zM186 481h1v1h-1zM188 481h3v1h-3zM192 481h2v1h-2zM196 481h4v1h-4zM201 481h2v1h-2zM204 481h1v1h-1zM206 481h2v1h-2zM209 481h2v1h-2zM246 481h1v1h-1zM249 481h1v1h-1zM251 481h2v1h-2zM254 481h3v1h-3zM258 481h1v1h-1zM261 481h1v1h-1zM265 481h5v1h-5zM274 481h3v1h-3zM278 481h1v1h-1zM280 481h1v1h-1zM186 482h1v1h-1zM188 482h2v1h-2zM192 482h2v1h-2zM196 482h1v1h-1zM198 482h1v1h-1zM200 482h1v1h-1zM203 482h1v1h-1zM206 482h1v1h-1zM208 482h1v1h-1zM249 482h3v1h-3zM253 482h3v1h-3zM258 482h1v1h-1zM265 482h5v1h-5zM271 482h3v1h-3zM275 482h1v1h-1zM280 482h1v1h-1zM183 483h2v1h-2zM187 483h1v1h-1zM189 483h2v1h-2zM192 483h1v1h-1zM194 483h1v1h-1zM201 483h1v1h-1zM203 483h1v1h-1zM207 483h1v1h-1zM210 483h1v1h-1zM241 483h1v1h-1zM244 483h3v1h-3zM248 483h2v1h-2zM251 483h3v1h-3zM256 483h1v1h-1zM259 483h2v1h-2zM262 483h3v1h-3zM266 483h1v1h-1zM268 483h1v1h-1zM271 483h1v1h-1zM273 483h1v1h-1zM276 483h1v1h-1zM187 484h1v1h-1zM189 484h5v1h-5zM196 484h3v1h-3zM200 484h1v1h-1zM204 484h1v1h-1zM206 484h4v1h-4zM212 484h1v1h-1zM238 484h1v1h-1zM240 484h2v1h-2zM245 484h1v1h-1zM247 484h3v1h-3zM252 484h1v1h-1zM256 484h1v1h-1zM258 484h5v1h-5zM264 484h2v1h-2zM267 484h3v1h-3zM271 484h2v1h-2zM274 484h1v1h-1zM183 485h6v1h-6zM190 485h2v1h-2zM194 485h3v1h-3zM198 485h5v1h-5zM206 485h2v1h-2zM209 485h2v1h-2zM212 485h1v1h-1zM227 485h1v1h-1zM234 485h1v1h-1zM236 485h8v1h-8zM245 485h1v1h-1zM248 485h2v1h-2zM253 485h2v1h-2zM257 485h5v1h-5zM263 485h1v1h-1zM265 485h2v1h-2zM269 485h3v1h-3zM182 486h1v1h-1zM184 486h2v1h-2zM188 486h2v1h-2zM193 486h5v1h-5zM200 486h4v1h-4zM205 486h4v1h-4zM214 486h1v1h-1zM231 486h2v1h-2zM234 486h4v1h-4zM239 486h2v1h-2zM242 486h3v1h-3zM252 486h1v1h-1zM255 486h4v1h-4zM262 486h1v1h-1zM265 486h1v1h-1zM269 486h1v1h-1zM182 487h1v1h-1zM184 487h2v1h-2zM189 487h5v1h-5zM201 487h1v1h-1zM203 487h5v1h-5zM209 487h3v1h-3zM227 487h2v1h-2zM230 487h2v1h-2zM235 487h2v1h-2zM241 487h2v1h-2zM252 487h4v1h-4zM257 487h1v1h-1zM259 487h1v1h-1zM262 487h1v1h-1zM184 488h3v1h-3zM188 488h1v1h-1zM193 488h2v1h-2zM197 488h3v1h-3zM201 488h2v1h-2zM204 488h5v1h-5zM210 488h1v1h-1zM226 488h1v1h-1zM228 488h2v1h-2zM232 488h3v1h-3zM236 488h1v1h-1zM242 488h1v1h-1zM245 488h1v1h-1zM249 488h1v1h-1zM251 488h7v1h-7zM259 488h1v1h-1zM183 489h2v1h-2zM186 489h2v1h-2zM189 489h1v1h-1zM192 489h3v1h-3zM196 489h3v1h-3zM200 489h5v1h-5zM206 489h7v1h-7zM220 489h2v1h-2zM225 489h4v1h-4zM230 489h3v1h-3zM234 489h1v1h-1zM236 489h1v1h-1zM239 489h1v1h-1zM247 489h2v1h-2zM250 489h3v1h-3zM254 489h1v1h-1zM183 490h2v1h-2zM187 490h3v1h-3zM195 490h3v1h-3zM203 490h1v1h-1zM206 490h3v1h-3zM210 490h1v1h-1zM218 490h1v1h-1zM221 490h1v1h-1zM223 490h2v1h-2zM226 490h1v1h-1zM228 490h1v1h-1zM237 490h1v1h-1zM244 490h6v1h-6zM255 490h1v1h-1zM183 491h2v1h-2zM186 491h1v1h-1zM195 491h1v1h-1zM201 491h1v1h-1zM204 491h2v1h-2zM207 491h1v1h-1zM209 491h2v1h-2zM212 491h1v1h-1zM215 491h2v1h-2zM218 491h4v1h-4zM227 491h1v1h-1zM234 491h1v1h-1zM238 491h1v1h-1zM242 491h1v1h-1zM244 491h4v1h-4zM250 491h2v1h-2zM190 492h3v1h-3zM195 492h2v1h-2zM198 492h2v1h-2zM202 492h6v1h-6zM209 492h1v1h-1zM211 492h1v1h-1zM213 492h1v1h-1zM215 492h5v1h-5zM239 492h3v1h-3zM245 492h5v1h-5zM183 493h2v1h-2zM190 493h1v1h-1zM192 493h1v1h-1zM196 493h1v1h-1zM199 493h1v1h-1zM201 493h1v1h-1zM204 493h4v1h-4zM209 493h1v1h-1zM212 493h5v1h-5zM218 493h1v1h-1zM226 493h1v1h-1zM231 493h1v1h-1zM233 493h2v1h-2zM236 493h2v1h-2zM239 493h5v1h-5zM246 493h1v1h-1zM183 494h1v1h-1zM188 494h2v1h-2zM191 494h2v1h-2zM194 494h1v1h-1zM196 494h1v1h-1zM198 494h1v1h-1zM201 494h2v1h-2zM204 494h2v1h-2zM207 494h1v1h-1zM214 494h2v1h-2zM235 494h4v1h-4zM241 494h2v1h-2zM183 495h3v1h-3zM187 495h5v1h-5zM194 495h3v1h-3zM199 495h3v1h-3zM204 495h2v1h-2zM211 495h4v1h-4zM216 495h1v1h-1zM235 495h3v1h-3zM240 495h1v1h-1zM184 496h3v1h-3zM188 496h4v1h-4zM193 496h3v1h-3zM197 496h1v1h-1zM200 496h1v1h-1zM205 496h2v1h-2zM208 496h2v1h-2zM211 496h3v1h-3zM216 496h1v1h-1zM234 496h1v1h-1zM237 496h2v1h-2zM182 497h2v1h-2zM187 497h1v1h-1zM190 497h1v1h-1zM195 497h1v1h-1zM197 497h1v1h-1zM199 497h1v1h-1zM201 497h1v1h-1zM203 497h1v1h-1zM208 497h1v1h-1zM213 497h2v1h-2zM239 497h1v1h-1zM185 498h1v1h-1zM188 498h2v1h-2zM191 498h1v1h-1zM194 498h1v1h-1zM196 498h1v1h-1zM198 498h3v1h-3zM205 498h1v1h-1zM210 498h1v1h-1zM213 498h1v1h-1zM218 498h1v1h-1zM235 498h1v1h-1zM184 499h3v1h-3zM209 499h1v1h-1zM213 499h2v1h-2zM216 499h1v1h-1zM221 499h4v1h-4zM231 499h3v1h-3zM187 500h2v1h-2zM214 500h1v1h-1zM217 500h1v1h-1zM219 500h4v1h-4zM225 500h1v1h-1zM187 501h1v1h-1zM189 501h1v1h-1zM214 501h3v1h-3zM218 501h2v1h-2zM221 501h2v1h-2z"/>
<path fill="#48cad4" d="M195 390h1v1h-1zM196 391h1v1h-1zM196 392h1v1h-1zM196 393h1v1h-1zM195 394h3v1h-3zM197 395h1v1h-1zM198 396h1v1h-1zM198 399h1v1h-1zM194 401h1v1h-1zM198 401h1v1h-1zM194 402h1v1h-1zM198 402h1v1h-1zM198 403h1v1h-1zM194 404h1v1h-1zM194 407h1v1h-1zM198 407h1v1h-1zM194 408h1v1h-1zM198 411h1v1h-1zM194 412h1v1h-1zM195 414h1v1h-1zM197 416h1v1h-1zM196 418h1v1h-1zM196 421h1v1h-1zM284 472h1v1h-1zM286 472h1v1h-1zM284 473h1v1h-1zM286 473h1v1h-1zM288 473h1v1h-1zM277 474h1v1h-1zM282 474h1v1h-1zM288 474h1v1h-1zM277 475h1v1h-1zM281 475h3v1h-3zM285 475h1v1h-1zM289 475h1v1h-1zM276 476h1v1h-1zM278 476h1v1h-1zM285 476h1v1h-1zM263 477h1v1h-1zM269 477h3v1h-3zM273 477h2v1h-2zM260 478h1v1h-1zM267 478h2v1h-2zM272 478h1v1h-1zM260 479h1v1h-1zM262 479h2v1h-2zM269 479h1v1h-1zM273 479h2v1h-2zM277 479h1v1h-1zM264 480h1v1h-1zM266 480h2v1h-2zM269 480h2v1h-2zM272 480h1v1h-1zM274 480h1v1h-1zM257 481h1v1h-1zM259 481h2v1h-2zM262 481h3v1h-3zM271 481h1v1h-1zM273 481h1v1h-1zM247 482h2v1h-2zM256 482h2v1h-2zM259 482h6v1h-6zM247 483h1v1h-1zM250 483h1v1h-1zM254 483h2v1h-2zM257 483h2v1h-2zM261 483h1v1h-1zM267 483h1v1h-1zM186 484h1v1h-1zM244 484h1v1h-1zM246 484h1v1h-1zM250 484h2v1h-2zM253 484h3v1h-3zM257 484h1v1h-1zM263 484h1v1h-1zM266 484h1v1h-1zM244 485h1v1h-1zM246 485h1v1h-1zM250 485h3v1h-3zM255 485h2v1h-2zM186 486h1v1h-1zM211 486h1v1h-1zM241 486h1v1h-1zM245 486h2v1h-2zM248 486h4v1h-4zM253 486h2v1h-2zM259 486h1v1h-1zM186 487h2v1h-2zM208 487h1v1h-1zM233 487h2v1h-2zM237 487h2v1h-2zM243 487h3v1h-3zM248 487h4v1h-4zM183 488h1v1h-1zM187 488h1v1h-1zM230 488h2v1h-2zM238 488h4v1h-4zM243 488h2v1h-2zM247 488h2v1h-2zM250 488h1v1h-1zM185 489h1v1h-1zM188 489h1v1h-1zM229 489h1v1h-1zM233 489h1v1h-1zM235 489h1v1h-1zM237 489h2v1h-2zM240 489h3v1h-3zM245 489h2v1h-2zM249 489h1v1h-1zM186 490h1v1h-1zM204 490h1v1h-1zM225 490h1v1h-1zM229 490h1v1h-1zM232 490h5v1h-5zM238 490h1v1h-1zM240 490h2v1h-2zM243 490h1v1h-1zM185 491h1v1h-1zM187 491h2v1h-2zM206 491h1v1h-1zM222 491h2v1h-2zM225 491h2v1h-2zM228 491h3v1h-3zM232 491h2v1h-2zM236 491h2v1h-2zM239 491h3v1h-3zM184 492h1v1h-1zM186 492h4v1h-4zM208 492h1v1h-1zM221 492h1v1h-1zM223 492h6v1h-6zM230 492h3v1h-3zM234 492h3v1h-3zM242 492h3v1h-3zM185 493h4v1h-4zM217 493h1v1h-1zM221 493h5v1h-5zM228 493h2v1h-2zM235 493h1v1h-1zM238 493h1v1h-1zM185 494h3v1h-3zM216 494h2v1h-2zM219 494h2v1h-2zM222 494h2v1h-2zM228 494h1v1h-1zM231 494h3v1h-3zM215 495h1v1h-1zM217 495h1v1h-1zM233 495h1v1h-1zM187 496h1v1h-1zM215 496h1v1h-1zM217 496h1v1h-1zM235 496h2v1h-2zM186 497h1v1h-1zM215 497h2v1h-2zM233 497h3v1h-3zM214 498h1v1h-1zM216 498h2v1h-2zM220 498h2v1h-2zM226 498h1v1h-1zM228 498h2v1h-2zM232 498h3v1h-3zM217 499h3v1h-3zM225 499h5v1h-5zM215 500h1v1h-1zM218 500h1v1h-1zM223 500h1v1h-1zM217 501h1v1h-1z"/>
<path fill="#58d274" d="M196 395h1v1h-1zM195 396h3v1h-3zM195 397h1v1h-1zM197 397h1v1h-1zM196 398h2v1h-2zM195 401h1v1h-1zM194 403h1v1h-1zM198 405h1v1h-1zM195 409h1v1h-1zM195 412h1v1h-1zM195 413h1v1h-1zM197 414h1v1h-1zM195 415h1v1h-1zM197 415h1v1h-1zM196 416h1v1h-1zM195 417h3v1h-3zM196 420h1v1h-1zM247 486h1v1h-1zM247 487h1v1h-1zM237 488h1v1h-1zM246 488h1v1h-1zM244 489h1v1h-1zM230 490h2v1h-2zM239 490h1v1h-1zM235 491h1v1h-1zM185 492h1v1h-1zM222 492h1v1h-1zM229 492h1v1h-1zM233 492h1v1h-1zM220 493h1v1h-1zM227 493h1v1h-1zM230 493h1v1h-1zM221 494h1v1h-1zM225 494h3v1h-3zM230 494h1v1h-1zM218 495h4v1h-4zM229 495h4v1h-4zM218 496h4v1h-4zM231 496h3v1h-3zM217 497h6v1h-6zM227 497h1v1h-1zM230 497h1v1h-1zM232 497h1v1h-1zM219 498h1v1h-1zM222 498h4v1h-4zM215 499h1v1h-1z"/>
<path fill="#b0dc48" d="M196 397h1v1h-1zM195 399h1v1h-1zM197 399h1v1h-1zM195 400h1v1h-1zM197 400h1v1h-1zM197 401h1v1h-1zM195 402h1v1h-1zM197 402h1v1h-1zM195 403h1v1h-1zM197 404h1v1h-1zM195 405h1v1h-1zM197 405h1v1h-1zM195 406h1v1h-1zM197 406h1v1h-1zM195 407h1v1h-1zM197 407h1v1h-1zM195 408h1v1h-1zM197 408h1v1h-1zM197 409h1v1h-1zM195 410h1v1h-1zM197 410h1v1h-1zM195 411h3v1h-3zM197 412h1v1h-1zM196 413h1v1h-1zM196 414h1v1h-1zM196 415h1v1h-1zM222 495h2v1h-2zM225 495h1v1h-1zM228 495h1v1h-1zM222 496h1v1h-1zM228 496h1v1h-1zM223 497h1v1h-1zM226 497h1v1h-1zM228 497h1v1h-1zM231 497h1v1h-1zM227 498h1v1h-1z"/>
<path fill="#eadc38" d="M196 399h1v1h-1zM196 400h1v1h-1zM196 402h1v1h-1zM197 403h1v1h-1zM195 404h1v1h-1zM196 405h1v1h-1zM196 406h1v1h-1zM196 407h1v1h-1zM196 410h1v1h-1zM224 495h1v1h-1zM223 496h5v1h-5zM225 497h1v1h-1zM229 497h1v1h-1z"/>
<path fill="#f0a030" d="M196 403h1v1h-1zM196 404h1v1h-1zM196 408h1v1h-1zM196 409h1v1h-1z"/>
</g>
<path d="M181.8 380.8 H302.3 V502.6" stroke="#222" stroke-width="1.3" fill="none"/>
<path d="M181.8 380.2 V503.6 H302.90000000000003" stroke="#000" stroke-width="2" fill="none"/>
<path d="M177.8 502.8 H181.8 M179.8 498.1 H181.8 M179.8 493.5 H181.8 M179.8 488.8 H181.8 M179.8 484.2 H181.8 M177.8 479.5 H181.8 M179.8 474.8 H181.8 M179.8 470.2 H181.8 M179.8 465.5 H181.8 M179.8 460.9 H181.8 M177.8 456.2 H181.8 M179.8 451.5 H181.8 M179.8 446.9 H181.8 M179.8 442.2 H181.8 M179.8 437.6 H181.8 M177.8 432.9 H181.8 M179.8 428.2 H181.8 M179.8 423.6 H181.8 M179.8 418.9 H181.8 M179.8 414.3 H181.8 M177.8 409.6 H181.8 M179.8 404.9 H181.8 M179.8 400.3 H181.8 M179.8 395.6 H181.8 M179.8 391.0 H181.8 M177.8 386.3 H181.8 M181.8 502.6 V507.1 M186.4 502.6 V505.1 M191.1 502.6 V505.1 M195.7 502.6 V505.1 M200.4 502.6 V505.1 M205.0 502.6 V507.1 M209.6 502.6 V505.1 M214.3 502.6 V505.1 M218.9 502.6 V505.1 M223.6 502.6 V505.1 M228.2 502.6 V507.1 M232.8 502.6 V505.1 M237.5 502.6 V505.1 M242.1 502.6 V505.1 M246.8 502.6 V505.1 M251.4 502.6 V507.1 M256.0 502.6 V505.1 M260.7 502.6 V505.1 M265.3 502.6 V505.1 M270.0 502.6 V505.1 M274.6 502.6 V507.1 M279.2 502.6 V505.1 M283.9 502.6 V505.1 M288.5 502.6 V505.1 M293.2 502.6 V505.1 M297.8 502.6 V507.1" stroke="#000" stroke-width="1.3" fill="none"/>
<text x="176.8" y="388.3" font-family="'Liberation Sans', sans-serif" font-size="5.7" font-weight="bold" class="b2" text-anchor="end">250K</text>
<text x="176.8" y="411.6" font-family="'Liberation Sans', sans-serif" font-size="5.7" font-weight="bold" class="b2" text-anchor="end">200K</text>
<text x="176.8" y="434.9" font-family="'Liberation Sans', sans-serif" font-size="5.7" font-weight="bold" class="b2" text-anchor="end">150K</text>
<text x="176.8" y="458.2" font-family="'Liberation Sans', sans-serif" font-size="5.7" font-weight="bold" class="b2" text-anchor="end">100K</text>
<text x="176.8" y="481.5" font-family="'Liberation Sans', sans-serif" font-size="5.7" font-weight="bold" class="b2" text-anchor="end">50K</text>
<text x="176.8" y="504.8" font-family="'Liberation Sans', sans-serif" font-size="5.7" font-weight="bold" class="b2" text-anchor="end">0</text>
<text x="181.8" y="515.2" font-family="'Liberation Sans', sans-serif" font-size="5.7" font-weight="bold" class="b2" text-anchor="middle">0</text>
<text x="205.0" y="515.2" font-family="'Liberation Sans', sans-serif" font-size="5.7" font-weight="bold" class="b2" text-anchor="middle">50K</text>
<text x="228.2" y="515.2" font-family="'Liberation Sans', sans-serif" font-size="5.7" font-weight="bold" class="b2" text-anchor="middle">100K</text>
<text x="251.4" y="515.2" font-family="'Liberation Sans', sans-serif" font-size="5.7" font-weight="bold" class="b2" text-anchor="middle">150K</text>
<text x="274.6" y="515.2" font-family="'Liberation Sans', sans-serif" font-size="5.7" font-weight="bold" class="b2" text-anchor="middle">200K</text>
<text x="297.8" y="515.2" font-family="'Liberation Sans', sans-serif" font-size="5.7" font-weight="bold" class="b2" text-anchor="middle">250K</text>
<rect x="37.9" y="383.3" width="11.6" height="47.8" stroke="#b83cb6" stroke-width="2.2" fill="none" stroke-linejoin="round"/>
<path d="M47.2 485.4 L49.6 480.6 L54.9 478.2 L62.6 477.7 L66.5 479.6 L67.9 485.4 L66.5 493.1 L62.6 497.9 L54.9 499.8 L49.2 498.8 L47.2 493.1 Z" stroke="#b83cb6" stroke-width="2.2" fill="none" stroke-linejoin="round"/>
<path d="M65.2 499.4 L64.8 494.6 L67.8 491.1 L80.8 487.7 L94.6 481.6 L106.7 474.7 L122.3 469.5 L134.4 467.8 L138.7 469.5 L141.0 477.3 L136.1 480.8 L128.3 486.8 L111.9 490.3 L94.6 494.6 L77.3 498.0 L65.2 499.8 Z" stroke="#b83cb6" stroke-width="2.2" fill="none" stroke-linejoin="round"/>
<rect x="191.5" y="384.5" width="10.5" height="44" stroke="#b83cb6" stroke-width="2.2" fill="none" stroke-linejoin="round"/>
<path d="M198.0 483.8 L201.6 479.0 L210.0 477.8 L216.0 481.4 L217.3 488.7 L213.7 495.9 L207.6 500.7 L200.4 500.7 L196.8 493.5 Z" stroke="#b83cb6" stroke-width="2.2" fill="none" stroke-linejoin="round"/>
<path d="M216.0 500.7 L215.6 495.9 L220.9 491.0 L237.7 486.3 L249.7 479.0 L261.7 471.8 L276.2 468.2 L285.8 468.2 L289.4 471.8 L289.4 477.8 L281.0 481.4 L271.3 485.0 L257.0 490.0 L242.5 494.7 L228.0 499.5 L216.0 501.9 Z" stroke="#b83cb6" stroke-width="2.2" fill="none" stroke-linejoin="round"/>
<text x="55" y="396.3" font-family="'Liberation Sans', sans-serif" font-size="13.3" class="m">Beads</text>
<text x="207" y="397.3" font-family="'Liberation Sans', sans-serif" font-size="13.3" class="m">Beads</text>
<text x="9.5" y="473.5" font-family="'Liberation Sans', sans-serif" font-size="12.4" class="m">Apoptotic cells</text>
<text x="164" y="474.8" font-family="'Liberation Sans', sans-serif" font-size="12.4" class="m">Apoptotic cells</text>
<text x="105.3" y="462.9" font-family="'Liberation Sans', sans-serif" font-size="13.2" class="m">T cells</text>
<text x="258" y="466.8" font-family="'Liberation Sans', sans-serif" font-size="13.2" class="m">T cells</text>
<text x="315.6" y="366.5" font-family="'Liberation Sans', sans-serif" class="L" font-size="24.8">D</text>
<path d="M385.7 379.6 V500.6 H515" stroke="#000" stroke-width="2" fill="none"/>
<path d="M382 500.6 H385.7 M382 476.4 H385.7 M382 452.2 H385.7 M382 428.0 H385.7 M382 403.8 H385.7 M382 379.6 H385.7 M407 500.6 V504.1 M449.4 500.6 V504.1 M493.1 500.6 V504.1" stroke="#000" stroke-width="1.6" fill="none"/>
<text x="381.8" y="504.2" font-family="'Liberation Sans', sans-serif" class="t" font-size="13.5" text-anchor="end">0</text>
<text x="381.8" y="480.0" font-family="'Liberation Sans', sans-serif" class="t" font-size="13.5" text-anchor="end">10</text>
<text x="381.8" y="455.8" font-family="'Liberation Sans', sans-serif" class="t" font-size="13.5" text-anchor="end">20</text>
<text x="381.8" y="431.6" font-family="'Liberation Sans', sans-serif" class="t" font-size="13.5" text-anchor="end">30</text>
<text x="381.8" y="407.4" font-family="'Liberation Sans', sans-serif" class="t" font-size="13.5" text-anchor="end">40</text>
<text x="381.8" y="383.2" font-family="'Liberation Sans', sans-serif" class="t" font-size="13.5" text-anchor="end">50</text>
<rect x="394.35" y="489.2" width="9.9" height="11.3" fill="#fff" stroke="#000" stroke-width="1.5"/>
<rect x="409.95" y="414.5" width="10.6" height="86.1" fill="#a8a8a8" stroke="#000" stroke-width="1.5"/>
<rect x="436.95" y="472.6" width="10.3" height="28.0" fill="#fff" stroke="#000" stroke-width="1.5"/>
<rect x="452.85" y="400.9" width="10.5" height="99.7" fill="#a8a8a8" stroke="#000" stroke-width="1.5"/>
<rect x="479.85" y="476.9" width="10.4" height="23.7" fill="#fff" stroke="#000" stroke-width="1.5"/>
<rect x="495.75" y="473.0" width="10.7" height="27.6" fill="#a8a8a8" stroke="#000" stroke-width="1.5"/>
<rect x="396.2" y="374.5" width="11" height="6.5" fill="#a8a8a8" stroke="#000" stroke-width="1.5"/>
<rect x="396.2" y="394.5" width="11" height="6.5" fill="#fff" stroke="#000" stroke-width="1.5"/>
<text x="413" y="382.8" font-family="'Liberation Sans', sans-serif" class="t" font-size="15.4" letter-spacing="0.75">mTIM4-3T3</text>
<text x="413" y="402.6" font-family="'Liberation Sans', sans-serif" class="t" font-size="15.4" letter-spacing="0.6">3T3</text>
<path d="M404 513.5 H415.3" stroke="#000" stroke-width="2"/>
<text x="440" y="518" font-family="'Liberation Sans', sans-serif" class="t" font-size="14.2">IgG</text>
<text x="477.6" y="518.3" font-family="'Liberation Sans', sans-serif" class="t" font-size="15.2">21H12</text>
<text transform="translate(357.3 504) rotate(-90)" font-family="'Liberation Sans', sans-serif" class="t" font-size="16">phagocytosis (%)</text>
</svg></body></html>
